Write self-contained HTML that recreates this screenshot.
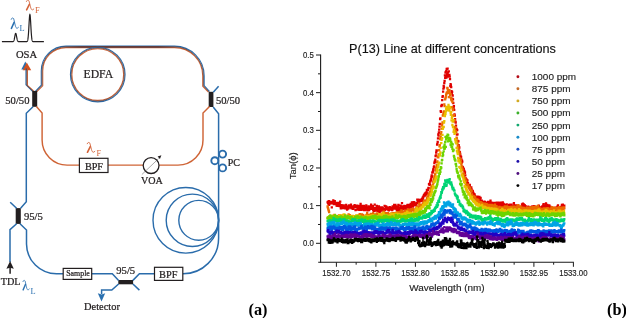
<!DOCTYPE html>
<html><head><meta charset="utf-8"><style>
html,body{margin:0;padding:0;background:#fff;}
body{width:626px;height:318px;overflow:hidden;}
svg{display:block;will-change:transform;}
</style></head><body>
<svg width="626" height="318" viewBox="0 0 626 318">
<rect width="626" height="318" fill="#fff"/>
<polyline points="1.90,41.70 2.00,41.70 2.10,41.70 2.20,41.70 2.30,41.70 2.40,41.70 2.50,41.70 2.60,41.70 2.70,41.70 2.80,41.70 2.90,41.70 3.00,41.70 3.10,41.70 3.20,41.70 3.30,41.70 3.40,41.70 3.50,41.70 3.60,41.70 3.70,41.70 3.80,41.70 3.90,41.70 4.00,41.70 4.10,41.70 4.20,41.70 4.30,41.70 4.40,41.70 4.50,41.70 4.60,41.70 4.70,41.70 4.80,41.70 4.90,41.70 5.00,41.70 5.10,41.70 5.20,41.70 5.30,41.70 5.40,41.70 5.50,41.70 5.60,41.70 5.70,41.70 5.80,41.70 5.90,41.70 6.00,41.70 6.10,41.70 6.20,41.70 6.30,41.70 6.40,41.70 6.50,41.70 6.60,41.70 6.70,41.70 6.80,41.70 6.90,41.70 7.00,41.70 7.10,41.70 7.20,41.70 7.30,41.70 7.40,41.70 7.50,41.70 7.60,41.70 7.70,41.70 7.80,41.70 7.90,41.70 8.00,41.70 8.10,41.70 8.20,41.70 8.30,41.70 8.40,41.70 8.50,41.70 8.60,41.70 8.70,41.70 8.80,41.70 8.90,41.70 9.00,41.70 9.10,41.70 9.20,41.70 9.30,41.70 9.40,41.70 9.50,41.70 9.60,41.70 9.70,41.70 9.80,41.70 9.90,41.70 10.00,41.70 10.10,41.70 10.20,41.70 10.30,41.70 10.40,41.70 10.50,41.70 10.60,41.70 10.70,41.70 10.80,41.70 10.90,41.70 11.00,41.70 11.10,41.70 11.20,41.70 11.30,41.70 11.40,41.70 11.50,41.70 11.60,41.70 11.70,41.70 11.80,41.70 11.90,41.70 12.00,41.70 12.10,41.70 12.20,41.69 12.30,41.69 12.40,41.69 12.50,41.68 12.60,41.67 12.70,41.66 12.80,41.64 12.90,41.62 13.00,41.59 13.10,41.55 13.20,41.49 13.30,41.43 13.40,41.34 13.50,41.23 13.60,41.09 13.70,40.92 13.80,40.72 13.90,40.48 14.00,40.20 14.10,39.88 14.20,39.51 14.30,39.10 14.40,38.65 14.50,38.16 14.60,37.64 14.70,37.11 14.80,36.56 14.90,36.02 15.00,35.49 15.10,34.99 15.20,34.54 15.30,34.15 15.40,33.83 15.50,33.59 15.60,33.45 15.70,33.40 15.80,33.45 15.90,33.59 16.00,33.83 16.10,34.15 16.20,34.54 16.30,34.99 16.40,35.49 16.50,36.02 16.60,36.56 16.70,37.11 16.80,37.64 16.90,38.16 17.00,38.65 17.10,39.10 17.20,39.51 17.30,39.88 17.40,40.20 17.50,40.48 17.60,40.72 17.70,40.92 17.80,41.09 17.90,41.23 18.00,41.34 18.10,41.43 18.20,41.49 18.30,41.55 18.40,41.59 18.50,41.62 18.60,41.64 18.70,41.66 18.80,41.67 18.90,41.68 19.00,41.69 19.10,41.69 19.20,41.69 19.30,41.70 19.40,41.70 19.50,41.70 19.60,41.70 19.70,41.70 19.80,41.70 19.90,41.70 20.00,41.70 20.10,41.70 20.20,41.70 20.30,41.70 20.40,41.70 20.50,41.70 20.60,41.70 20.70,41.70 20.80,41.70 20.90,41.70 21.00,41.70 21.10,41.70 21.20,41.70 21.30,41.70 21.40,41.70 21.50,41.70 21.60,41.70 21.70,41.70 21.80,41.70 21.90,41.70 22.00,41.70 22.10,41.70 22.20,41.70 22.30,41.70 22.40,41.70 22.50,41.70 22.60,41.70 22.70,41.70 22.80,41.70 22.90,41.70 23.00,41.70 23.10,41.70 23.20,41.70 23.30,41.70 23.40,41.70 23.50,41.70 23.60,41.70 23.70,41.70 23.80,41.70 23.90,41.70 24.00,41.70 24.10,41.70 24.20,41.70 24.30,41.70 24.40,41.70 24.50,41.70 24.60,41.70 24.70,41.70 24.80,41.70 24.90,41.70 25.00,41.70 25.10,41.70 25.20,41.70 25.30,41.70 25.40,41.70 25.50,41.70 25.60,41.70 25.70,41.70 25.80,41.70 25.90,41.70 26.00,41.70 26.10,41.69 26.20,41.69 26.30,41.69 26.40,41.68 26.50,41.67 26.60,41.66 26.70,41.64 26.80,41.61 26.90,41.57 27.00,41.51 27.10,41.44 27.20,41.34 27.30,41.20 27.40,41.03 27.50,40.80 27.60,40.51 27.70,40.15 27.80,39.70 27.90,39.15 28.00,38.49 28.10,37.70 28.20,36.78 28.30,35.72 28.40,34.52 28.50,33.17 28.60,31.69 28.70,30.10 28.80,28.41 28.90,26.65 29.00,24.86 29.10,23.07 29.20,21.35 29.30,19.72 29.40,18.24 29.50,16.96 29.60,15.91 29.70,15.14 29.80,14.66 29.90,14.50 30.00,14.66 30.10,15.14 30.20,15.91 30.30,16.96 30.40,18.24 30.50,19.72 30.60,21.35 30.70,23.07 30.80,24.86 30.90,26.65 31.00,28.41 31.10,30.10 31.20,31.69 31.30,33.17 31.40,34.52 31.50,35.72 31.60,36.78 31.70,37.70 31.80,38.49 31.90,39.15 32.00,39.70 32.10,40.15 32.20,40.51 32.30,40.80 32.40,41.03 32.50,41.20 32.60,41.34 32.70,41.44 32.80,41.51 32.90,41.57 33.00,41.61 33.10,41.64 33.20,41.66 33.30,41.67 33.40,41.68 33.50,41.69 33.60,41.69 33.70,41.69 33.80,41.70 33.90,41.70 34.00,41.70 34.10,41.70 34.20,41.70 34.30,41.70 34.40,41.70 34.50,41.70 34.60,41.70 34.70,41.70 34.80,41.70 34.90,41.70 35.00,41.70 35.10,41.70 35.20,41.70 35.30,41.70 35.40,41.70 35.50,41.70 35.60,41.70 35.70,41.70 35.80,41.70 35.90,41.70 36.00,41.70 36.10,41.70 36.20,41.70 36.30,41.70 36.40,41.70 36.50,41.70 36.60,41.70 36.70,41.70 36.80,41.70 36.90,41.70 37.00,41.70 37.10,41.70 37.20,41.70 37.30,41.70 37.40,41.70 37.50,41.70 37.60,41.70 37.70,41.70 37.80,41.70 37.90,41.70 38.00,41.70 38.10,41.70 38.20,41.70 38.30,41.70 38.40,41.70 38.50,41.70 38.60,41.70 38.70,41.70 38.80,41.70 38.90,41.70 39.00,41.70 39.10,41.70 39.20,41.70 39.30,41.70 39.40,41.70 39.50,41.70 39.60,41.70 39.70,41.70 39.80,41.70 39.90,41.70 40.00,41.70 40.10,41.70 40.20,41.70 40.30,41.70 40.40,41.70 40.50,41.70 40.60,41.70 40.70,41.70 40.80,41.70 40.90,41.70 41.00,41.70 41.10,41.70 41.20,41.70 41.30,41.70 41.40,41.70 41.50,41.70 41.60,41.70 41.70,41.70 41.80,41.70 41.90,41.70 42.00,41.70 42.10,41.70 42.20,41.70 42.30,41.70 42.40,41.70 42.50,41.70 42.60,41.70 42.70,41.70 42.80,41.70 42.90,41.70 43.00,41.70 43.10,41.70 43.20,41.70 43.30,41.70 43.40,41.70 43.50,41.70 43.60,41.70 43.70,41.70 43.80,41.70 43.90,41.70" fill="none" stroke="#231f20" stroke-width="1.2"/>
<g transform="translate(10.8,17.5) scale(1.0,1.06)" fill="none" stroke="#2a70b0" stroke-linecap="round"><path d="M0.4,1.7 C0.7,0.3 2.1,0.0 2.9,1.1 L4.4,7.2 C4.9,9.3 5.6,10.5 6.5,10.1 L7.6,9.3" stroke-width="0.85"/><path d="M3.3,4.6 L0.6,10.2" stroke-width="1.55"/></g>
<text x="19.5" y="30.8" font-family='"Liberation Serif", serif' font-size="8.4" fill="#2a70b0">L</text>
<g transform="translate(26.0,-0.3) scale(1.02,1.0)" fill="none" stroke="#d4643a" stroke-linecap="round"><path d="M0.4,1.7 C0.7,0.3 2.1,0.0 2.9,1.1 L4.4,7.2 C4.9,9.3 5.6,10.5 6.5,10.1 L7.6,9.3" stroke-width="0.85"/><path d="M3.3,4.6 L0.6,10.2" stroke-width="1.55"/></g>
<text x="35.0" y="12.8" font-family='"Liberation Serif", serif' font-size="8.4" fill="#d4643a">F</text>
<text x="15.9" y="57.7" font-family='"Liberation Serif", serif' font-size="10.6" fill="#231f20" stroke="#231f20" stroke-width="0.24">OSA</text>
<polygon points="25.3,61.4 21.3,69.4 29.4,69.4" fill="#2a70b0"/>
<polygon points="26.8,62.4 22.7,70.2 31.2,70.2" fill="#d4501e"/>
<path d="M25.95,68.5 L25.95,84.80 L32.58,91.42" fill="none" stroke="#2a6cab" stroke-width="1.05"/>
<path d="M27.45,68.5 L27.45,85.40 L33.62,90.98" fill="none" stroke="#cf6436" stroke-width="1.05"/>
<path d="M26.70,68.5 L26.70,85.10 L33.10,91.20" fill="none" stroke="#4d383c" stroke-width="0.7"/>
<path d="M35.58,91.03 L41.25,85.20 L41.25,71 A24.75,24.75 0 0 1 66,46.10 L174.5,46.10 A29.70,29.70 0 0 1 204.20,76 L204.20,85.60 L209.43,91.42" fill="none" stroke="#2a6cab" stroke-width="1.05"/>
<path d="M36.62,91.78 L42.75,85.80 L42.75,71 A23.25,23.25 0 0 1 66,47.60 L174.5,47.60 A28.20,28.20 0 0 1 202.70,76 L202.70,86.20 L208.38,92.17" fill="none" stroke="#cf6436" stroke-width="1.05"/>
<path d="M36.10,91.40 L42.00,85.50 L42.00,71 A24.00,24.00 0 0 1 66,46.85 L174.5,46.85 A28.95,28.95 0 0 1 203.45,76 L203.45,85.90 L208.90,91.80" fill="none" stroke="#4d383c" stroke-width="0.7"/>
<defs><linearGradient id="tg" gradientUnits="userSpaceOnUse" x1="60" y1="0" x2="180" y2="0"><stop offset="0" stop-color="#5e3c3e" stop-opacity="0"/><stop offset="0.18" stop-color="#5e3c3e" stop-opacity="1"/><stop offset="0.82" stop-color="#5e3c3e" stop-opacity="1"/><stop offset="1" stop-color="#5e3c3e" stop-opacity="0"/></linearGradient></defs>
<rect x="60" y="46.0" width="120" height="1.7" fill="url(#tg)"/>
<circle cx="97.75" cy="74.5" r="27.35" fill="none" stroke="#2a6cab" stroke-width="1.05"/>
<circle cx="97.75" cy="74.5" r="25.85" fill="none" stroke="#cf6436" stroke-width="1.05"/>
<circle cx="97.75" cy="74.5" r="26.6" fill="none" stroke="#4d383c" stroke-width="0.7"/>
<text x="83.5" y="78.3" font-family='"Liberation Serif", serif' font-size="11.7" fill="#231f20" stroke="#231f20" stroke-width="0.24">EDFA</text>
<rect x="32.2" y="90.9" width="5" height="15.9" fill="#231f20"/>
<rect x="208.7" y="91.8" width="4.7" height="15.2" fill="#231f20"/>
<rect x="15.7" y="208.1" width="5.1" height="15.8" fill="#231f20"/>
<rect x="118.3" y="280" width="14.8" height="4.3" fill="#231f20"/>
<text x="5.3" y="103.9" font-family='"Liberation Serif", serif' font-size="10.6" fill="#231f20" stroke="#231f20" stroke-width="0.24">50/50</text>
<text x="215.9" y="103.7" font-family='"Liberation Serif", serif' font-size="10.6" fill="#231f20" stroke="#231f20" stroke-width="0.24">50/50</text>
<text x="23.9" y="219.6" font-family='"Liberation Serif", serif' font-size="10.6" fill="#231f20" stroke="#231f20" stroke-width="0.24">95/5</text>
<text x="116.3" y="273.9" font-family='"Liberation Serif", serif' font-size="10.6" fill="#231f20" stroke="#231f20" stroke-width="0.24">95/5</text>
<polyline points="213.3,92.2 218.6,86.3" fill="none" stroke="#2a6cab" stroke-width="1.5"/>
<path d="M36.4,106.6 L42.1,113 L42.1,140 A25,25 0 0 0 67.1,165.1 L79.4,165.1 M108,165.1 L143,165.1 M159.2,165.1 L178,165.1 A25,25 0 0 0 203,140 L203,113 L209.5,106.6" fill="none" stroke="#cf6436" stroke-width="1.45"/>
<rect x="79.4" y="158.3" width="28.6" height="14.2" fill="#fff" stroke="#231f20" stroke-width="1.2"/>
<text x="84.9" y="169.6" font-family='"Liberation Serif", serif' font-size="10.2" fill="#231f20" stroke="#231f20" stroke-width="0.24">BPF</text>
<g transform="translate(86.8,142.0) scale(1.05,1.01)" fill="none" stroke="#d4643a" stroke-linecap="round"><path d="M0.4,1.7 C0.7,0.3 2.1,0.0 2.9,1.1 L4.4,7.2 C4.9,9.3 5.6,10.5 6.5,10.1 L7.6,9.3" stroke-width="0.85"/><path d="M3.3,4.6 L0.6,10.2" stroke-width="1.55"/></g>
<text x="96.4" y="155.6" font-family='"Liberation Serif", serif' font-size="8.2" fill="#d4643a">F</text>
<circle cx="151.1" cy="165.6" r="7.9" fill="#fff" stroke="#231f20" stroke-width="1.3"/>
<line x1="141.9" y1="174.5" x2="158.6" y2="158.6" stroke="#555" stroke-width="0.5"/>
<polygon points="161.4,155.2 157.6,156.6 159.9,158.9" fill="#231f20"/>
<text x="140.9" y="183.6" font-family='"Liberation Serif", serif' font-size="10.1" fill="#231f20" stroke="#231f20" stroke-width="0.24">VOA</text>
<path d="M33,106.8 L26.3,113.2 L26.3,201.8 L20.6,208.2" fill="none" stroke="#2a6cab" stroke-width="1.5"/>
<path d="M16.6,208.2 L10.2,202.2" fill="none" stroke="#2a6cab" stroke-width="1.5"/>
<path d="M16.6,223.8 L10,229.6 L10,262" fill="none" stroke="#2a6cab" stroke-width="1.5"/>
<path d="M20,223.8 L26.5,230 L26.5,244 A30,30 0 0 0 56.5,273.8 L63.2,273.8 M91.8,273.8 L112.3,273.8 L118.6,280.4 M132.9,280.4 L139.4,273.8 L154.5,273.8 M182.8,273.8 A35.6,35.6 0 0 0 218.6,238 L218.6,113.8 L213.2,107" fill="none" stroke="#2a6cab" stroke-width="1.5"/>
<path d="M118.6,284 L111.8,290.1 L101.6,290.1 L101.6,294" fill="none" stroke="#2a6cab" stroke-width="1.5"/>
<polygon points="97.8,293.2 101.6,294.4 105.2,293.2 101.5,301.4" fill="#2a70b0"/>
<path d="M132.9,284 L139.4,290.1" fill="none" stroke="#2a6cab" stroke-width="1.5"/>
<polygon points="10.1,261 6.4,268.8 10.1,267.8 13.8,268.8" fill="#231f20"/>
<line x1="10.1" y1="267" x2="10.1" y2="273.8" stroke="#231f20" stroke-width="1.5"/>
<text x="0.7" y="285.3" font-family='"Liberation Serif", serif' font-size="10.2" fill="#231f20" stroke="#231f20" stroke-width="0.24">TDL</text>
<g transform="translate(22.6,279.9) scale(0.87,0.98)" fill="none" stroke="#2a70b0" stroke-linecap="round"><path d="M0.4,1.7 C0.7,0.3 2.1,0.0 2.9,1.1 L4.4,7.2 C4.9,9.3 5.6,10.5 6.5,10.1 L7.6,9.3" stroke-width="0.85"/><path d="M3.3,4.6 L0.6,10.2" stroke-width="1.55"/></g>
<text x="30.4" y="293.6" font-family='"Liberation Serif", serif' font-size="8.4" fill="#2a70b0">L</text>
<rect x="63.2" y="268.4" width="28.5" height="11" fill="#fff" stroke="#231f20" stroke-width="1.2"/>
<text x="66.2" y="276.3" font-family='"Liberation Serif", serif' font-size="7.9" fill="#231f20" stroke="#231f20" stroke-width="0.24">Sample</text>
<rect x="154.5" y="267.3" width="28.3" height="13.1" fill="#fff" stroke="#231f20" stroke-width="1.2"/>
<text x="159.1" y="277.8" font-family='"Liberation Serif", serif' font-size="10.3" fill="#231f20" stroke="#231f20" stroke-width="0.24">BPF</text>
<text x="84.1" y="309.7" font-family='"Liberation Serif", serif' font-size="10.4" fill="#231f20" stroke="#231f20" stroke-width="0.24">Detector</text>
<circle cx="185.8" cy="220.3" r="32.8" fill="none" stroke="#2a6cab" stroke-width="1.4"/>
<circle cx="192.4" cy="220.3" r="26.2" fill="none" stroke="#2a6cab" stroke-width="1.4"/>
<circle cx="198.7" cy="220.3" r="19.9" fill="none" stroke="#2a6cab" stroke-width="1.4"/>
<circle cx="222.6" cy="154.1" r="3.5" fill="none" stroke="#2a6cab" stroke-width="1.9"/>
<circle cx="214.8" cy="160.7" r="3.5" fill="none" stroke="#2a6cab" stroke-width="1.9"/>
<circle cx="222.6" cy="167.9" r="3.5" fill="none" stroke="#2a6cab" stroke-width="1.9"/>
<text x="227.8" y="165.5" font-family='"Liberation Serif", serif' font-size="10" fill="#231f20" stroke="#231f20" stroke-width="0.24">PC</text>
<text x="248.5" y="314.6" font-family='"Liberation Serif", serif' font-size="16.3" font-weight="bold" fill="#000">(a)</text>
<line x1="320.6" y1="54.5" x2="320.6" y2="262.8" stroke="#1a1a1a" stroke-width="1.1"/>
<line x1="318.2" y1="262.3" x2="573.9" y2="262.3" stroke="#1a1a1a" stroke-width="1.1"/>
<line x1="316.00" y1="243.30" x2="320.6" y2="243.30" stroke="#1a1a1a" stroke-width="1"/>
<text transform="translate(313.8,246.30) scale(1,1.25)" font-family='"Liberation Sans", sans-serif' font-size="7.8" fill="#222" text-anchor="end" stroke="#222" stroke-width="0.14">0.0</text>
<line x1="318.00" y1="224.47" x2="320.6" y2="224.47" stroke="#1a1a1a" stroke-width="1"/>
<line x1="316.00" y1="205.64" x2="320.6" y2="205.64" stroke="#1a1a1a" stroke-width="1"/>
<text transform="translate(313.8,208.64) scale(1,1.25)" font-family='"Liberation Sans", sans-serif' font-size="7.8" fill="#222" text-anchor="end" stroke="#222" stroke-width="0.14">0.1</text>
<line x1="318.00" y1="186.81" x2="320.6" y2="186.81" stroke="#1a1a1a" stroke-width="1"/>
<line x1="316.00" y1="167.98" x2="320.6" y2="167.98" stroke="#1a1a1a" stroke-width="1"/>
<text transform="translate(313.8,170.98) scale(1,1.25)" font-family='"Liberation Sans", sans-serif' font-size="7.8" fill="#222" text-anchor="end" stroke="#222" stroke-width="0.14">0.2</text>
<line x1="318.00" y1="149.15" x2="320.6" y2="149.15" stroke="#1a1a1a" stroke-width="1"/>
<line x1="316.00" y1="130.32" x2="320.6" y2="130.32" stroke="#1a1a1a" stroke-width="1"/>
<text transform="translate(313.8,133.32) scale(1,1.25)" font-family='"Liberation Sans", sans-serif' font-size="7.8" fill="#222" text-anchor="end" stroke="#222" stroke-width="0.14">0.3</text>
<line x1="318.00" y1="111.49" x2="320.6" y2="111.49" stroke="#1a1a1a" stroke-width="1"/>
<line x1="316.00" y1="92.66" x2="320.6" y2="92.66" stroke="#1a1a1a" stroke-width="1"/>
<text transform="translate(313.8,95.66) scale(1,1.25)" font-family='"Liberation Sans", sans-serif' font-size="7.8" fill="#222" text-anchor="end" stroke="#222" stroke-width="0.14">0.4</text>
<line x1="318.00" y1="73.83" x2="320.6" y2="73.83" stroke="#1a1a1a" stroke-width="1"/>
<line x1="316.00" y1="55.00" x2="320.6" y2="55.00" stroke="#1a1a1a" stroke-width="1"/>
<text transform="translate(313.8,58.00) scale(1,1.25)" font-family='"Liberation Sans", sans-serif' font-size="7.8" fill="#222" text-anchor="end" stroke="#222" stroke-width="0.14">0.5</text>
<line x1="336.40" y1="262.3" x2="336.40" y2="266.80" stroke="#1a1a1a" stroke-width="1"/>
<text transform="translate(336.40,275.6) scale(1,1.25)" font-family='"Liberation Sans", sans-serif' font-size="7.8" fill="#222" text-anchor="middle" stroke="#222" stroke-width="0.14">1532.70</text>
<line x1="356.15" y1="262.3" x2="356.15" y2="264.70" stroke="#1a1a1a" stroke-width="1"/>
<line x1="375.90" y1="262.3" x2="375.90" y2="266.80" stroke="#1a1a1a" stroke-width="1"/>
<text transform="translate(375.90,275.6) scale(1,1.25)" font-family='"Liberation Sans", sans-serif' font-size="7.8" fill="#222" text-anchor="middle" stroke="#222" stroke-width="0.14">1532.75</text>
<line x1="395.65" y1="262.3" x2="395.65" y2="264.70" stroke="#1a1a1a" stroke-width="1"/>
<line x1="415.40" y1="262.3" x2="415.40" y2="266.80" stroke="#1a1a1a" stroke-width="1"/>
<text transform="translate(415.40,275.6) scale(1,1.25)" font-family='"Liberation Sans", sans-serif' font-size="7.8" fill="#222" text-anchor="middle" stroke="#222" stroke-width="0.14">1532.80</text>
<line x1="435.15" y1="262.3" x2="435.15" y2="264.70" stroke="#1a1a1a" stroke-width="1"/>
<line x1="454.90" y1="262.3" x2="454.90" y2="266.80" stroke="#1a1a1a" stroke-width="1"/>
<text transform="translate(454.90,275.6) scale(1,1.25)" font-family='"Liberation Sans", sans-serif' font-size="7.8" fill="#222" text-anchor="middle" stroke="#222" stroke-width="0.14">1532.85</text>
<line x1="474.65" y1="262.3" x2="474.65" y2="264.70" stroke="#1a1a1a" stroke-width="1"/>
<line x1="494.40" y1="262.3" x2="494.40" y2="266.80" stroke="#1a1a1a" stroke-width="1"/>
<text transform="translate(494.40,275.6) scale(1,1.25)" font-family='"Liberation Sans", sans-serif' font-size="7.8" fill="#222" text-anchor="middle" stroke="#222" stroke-width="0.14">1532.90</text>
<line x1="514.15" y1="262.3" x2="514.15" y2="264.70" stroke="#1a1a1a" stroke-width="1"/>
<line x1="533.90" y1="262.3" x2="533.90" y2="266.80" stroke="#1a1a1a" stroke-width="1"/>
<text transform="translate(533.90,275.6) scale(1,1.25)" font-family='"Liberation Sans", sans-serif' font-size="7.8" fill="#222" text-anchor="middle" stroke="#222" stroke-width="0.14">1532.95</text>
<line x1="553.65" y1="262.3" x2="553.65" y2="264.70" stroke="#1a1a1a" stroke-width="1"/>
<line x1="573.40" y1="262.3" x2="573.40" y2="266.80" stroke="#1a1a1a" stroke-width="1"/>
<text transform="translate(573.40,275.6) scale(1,1.25)" font-family='"Liberation Sans", sans-serif' font-size="7.8" fill="#222" text-anchor="middle" stroke="#222" stroke-width="0.14">1533.00</text>
<text x="349.1" y="53.2" font-family='"Liberation Sans", sans-serif' font-size="12.63" fill="#111" stroke="#111" stroke-width="0.14">P(13) Line at different concentrations</text>
<text x="409.3" y="291" font-family='"Liberation Sans", sans-serif' font-size="9.95" fill="#222" stroke="#222" stroke-width="0.14">Wavelength (nm)</text>
<text transform="translate(295.6,179.2) rotate(-90)" x="0" y="0" font-family='"Liberation Sans", sans-serif' font-size="9.5" fill="#222" stroke="#222" stroke-width="0.14">Tan(ϕ)</text>
<path d="M327.6 202.3h0M327.9 202.0h0M328.2 202.8h0M328.5 204.0h0M328.8 201.1h0M329.1 204.8h0M329.4 201.7h0M329.7 203.5h0M330.0 202.8h0M330.3 203.1h0M330.6 202.1h0M330.9 201.9h0M331.2 203.2h0M331.5 202.1h0M331.8 207.4h0M332.1 203.4h0M332.4 203.2h0M332.7 203.4h0M333.0 202.6h0M333.3 200.5h0M333.6 203.4h0M333.9 204.0h0M334.2 201.1h0M334.5 203.1h0M334.8 201.2h0M335.1 202.8h0M335.4 203.5h0M335.7 203.9h0M336.0 204.1h0M336.3 202.9h0M336.6 205.6h0M336.9 204.0h0M337.2 205.3h0M337.5 205.9h0M337.8 204.4h0M338.1 202.9h0M338.4 205.6h0M338.7 203.1h0M339.0 203.5h0M339.3 203.2h0M339.6 206.0h0M339.9 204.5h0M340.2 201.6h0M340.5 206.1h0M340.8 208.3h0M341.1 208.3h0M341.4 205.2h0M341.7 206.5h0M342.0 207.4h0M342.3 208.1h0M342.6 207.0h0M342.9 205.5h0M343.2 208.2h0M343.5 208.1h0M343.8 205.4h0M344.1 206.8h0M344.4 207.7h0M344.7 207.3h0M345.0 208.0h0M345.3 208.3h0M345.6 207.8h0M345.9 206.8h0M346.2 204.9h0M346.5 207.6h0M346.8 208.7h0M347.1 209.5h0M347.4 206.6h0M347.7 206.5h0M348.0 208.6h0M348.3 208.6h0M348.6 206.9h0M348.9 207.4h0M349.2 205.4h0M349.5 207.5h0M349.8 205.7h0M350.1 207.0h0M350.4 207.2h0M350.7 206.9h0M351.0 204.7h0M351.3 206.6h0M351.6 208.3h0M351.9 207.7h0M352.2 207.1h0M352.5 208.3h0M352.8 208.6h0M353.1 208.8h0M353.4 206.4h0M353.7 207.6h0M354.0 207.1h0M354.3 206.2h0M354.6 205.2h0M354.9 207.1h0M355.2 205.9h0M355.5 210.2h0M355.8 206.9h0M356.1 206.6h0M356.4 206.4h0M356.7 209.7h0M357.0 205.7h0M357.3 207.0h0M357.6 206.4h0M357.9 207.6h0M358.2 207.9h0M358.5 209.6h0M358.8 205.9h0M359.1 207.8h0M359.4 209.9h0M359.7 206.7h0M360.0 207.1h0M360.3 206.2h0M360.6 203.9h0M360.9 207.8h0M361.2 209.9h0M361.5 207.7h0M361.8 205.8h0M362.1 208.8h0M362.4 208.5h0M362.7 209.7h0M363.0 209.5h0M363.3 207.8h0M363.6 208.9h0M363.9 205.8h0M364.2 210.1h0M364.5 208.7h0M364.8 210.0h0M365.1 209.8h0M365.4 207.8h0M365.7 207.9h0M366.0 207.0h0M366.3 205.5h0M366.6 208.6h0M366.9 209.2h0M367.2 207.6h0M367.5 210.3h0M367.8 209.4h0M368.1 209.9h0M368.4 208.0h0M368.7 206.5h0M369.0 210.1h0M369.3 209.7h0M369.6 208.5h0M369.9 207.8h0M370.2 207.7h0M370.5 207.6h0M370.8 206.9h0M371.1 204.7h0M371.4 208.8h0M371.7 205.8h0M372.0 207.7h0M372.3 207.9h0M372.6 208.8h0M372.9 206.2h0M373.2 210.3h0M373.5 209.6h0M373.8 209.9h0M374.1 210.8h0M374.4 208.0h0M374.7 204.6h0M375.0 209.5h0M375.3 210.7h0M375.6 210.3h0M375.9 207.8h0M376.2 208.4h0M376.5 208.9h0M376.8 205.9h0M377.1 207.5h0M377.4 207.6h0M377.7 210.8h0M378.0 207.7h0M378.3 211.0h0M378.6 208.9h0M378.9 206.5h0M379.2 212.2h0M379.5 207.7h0M379.8 210.0h0M380.1 211.6h0M380.4 208.4h0M380.7 207.4h0M381.0 210.7h0M381.3 209.3h0M381.6 207.3h0M381.9 207.4h0M382.2 208.2h0M382.5 210.0h0M382.8 208.1h0M383.1 209.4h0M383.4 210.7h0M383.7 210.1h0M384.0 210.3h0M384.3 210.0h0M384.6 205.9h0M384.9 210.0h0M385.2 208.8h0M385.5 208.3h0M385.8 207.1h0M386.1 206.5h0M386.4 207.4h0M386.7 209.1h0M387.0 207.4h0M387.3 207.8h0M387.6 207.9h0M387.9 209.6h0M388.2 208.1h0M388.5 208.2h0M388.8 210.3h0M389.1 207.9h0M389.4 209.4h0M389.7 207.2h0M390.0 209.4h0M390.3 209.3h0M390.6 209.5h0M390.9 208.6h0M391.2 207.7h0M391.5 208.6h0M391.8 208.1h0M392.1 210.1h0M392.4 209.6h0M392.7 206.3h0M393.0 208.7h0M393.3 206.8h0M393.6 208.0h0M393.9 206.4h0M394.2 204.9h0M394.5 208.5h0M394.8 207.8h0M395.1 205.5h0M395.4 204.8h0M395.7 207.0h0M396.0 206.3h0M396.3 207.6h0M396.6 209.0h0M396.9 210.2h0M397.2 207.4h0M397.5 209.7h0M397.8 209.3h0M398.1 206.9h0M398.4 205.0h0M398.7 208.6h0M399.0 208.1h0M399.3 210.5h0M399.6 209.1h0M399.9 208.1h0M400.2 209.5h0M400.5 205.6h0M400.8 207.6h0M401.1 207.1h0M401.4 210.1h0M401.7 208.5h0M402.0 203.2h0M402.3 209.6h0M402.6 206.3h0M402.9 208.7h0M403.2 207.0h0M403.5 208.0h0M403.8 208.6h0M404.1 207.8h0M404.4 205.9h0M404.7 209.1h0M405.0 207.5h0M405.3 206.9h0M405.6 207.9h0M405.9 206.1h0M406.2 209.6h0M406.5 207.1h0M406.8 207.2h0M407.1 207.0h0M407.4 205.2h0M407.7 204.8h0M408.0 206.9h0M408.3 207.1h0M408.6 208.5h0M408.9 207.2h0M409.2 204.9h0M409.5 207.1h0M409.8 207.4h0M410.1 207.5h0M410.4 206.3h0M410.7 203.8h0M411.0 207.0h0M411.3 204.0h0M411.6 205.7h0M411.9 202.3h0M412.2 205.5h0M412.5 203.0h0M412.8 205.6h0M413.1 206.5h0M413.4 205.6h0M413.7 202.2h0M414.0 202.5h0M414.3 202.6h0M414.6 204.9h0M414.9 204.3h0M415.2 204.0h0M415.5 204.1h0M415.8 204.4h0M416.1 204.3h0M416.4 205.7h0M416.7 202.9h0M417.0 203.0h0M417.3 199.6h0M417.6 200.1h0M417.9 200.7h0M418.2 199.7h0M418.5 201.7h0M418.8 202.8h0M419.1 200.6h0M419.4 200.5h0M419.7 200.4h0M420.0 201.3h0M420.3 200.0h0M420.6 201.2h0M420.9 200.7h0M421.2 200.4h0M421.5 200.6h0M421.8 199.1h0M422.1 198.8h0M422.4 200.8h0M422.7 197.7h0M423.0 198.6h0M423.3 197.1h0M423.6 196.0h0M423.9 195.7h0M424.2 194.8h0M424.5 195.5h0M424.8 194.0h0M425.1 193.6h0M425.4 195.5h0M425.7 192.8h0M426.0 194.3h0M426.3 192.4h0M426.6 192.8h0M426.9 189.9h0M427.2 190.4h0M427.5 193.5h0M427.8 190.0h0M428.1 189.7h0M428.4 187.8h0M428.7 188.1h0M429.0 184.2h0M429.3 183.8h0M429.6 184.8h0M429.9 184.5h0M430.2 181.6h0M430.5 181.1h0M430.8 180.0h0M431.1 179.5h0M431.4 177.0h0M431.7 175.5h0M432.0 176.6h0M432.3 172.6h0M432.6 172.5h0M432.9 171.6h0M433.2 169.5h0M433.5 170.1h0M433.8 167.3h0M434.1 166.3h0M434.4 163.0h0M434.7 161.7h0M435.0 161.9h0M435.3 159.7h0M435.6 156.1h0M435.9 155.3h0M436.2 152.7h0M436.5 150.3h0M436.8 150.6h0M437.1 144.7h0M437.4 144.0h0M437.7 141.8h0M438.0 138.4h0M438.3 134.5h0M438.6 135.7h0M438.9 132.5h0M439.2 129.6h0M439.5 126.7h0M439.8 123.8h0M440.1 119.0h0M440.4 118.3h0M440.7 111.2h0M441.0 111.9h0M441.3 106.1h0M441.6 105.6h0M441.9 104.9h0M442.2 100.1h0M442.5 96.9h0M442.8 96.1h0M443.1 91.6h0M443.4 88.6h0M443.7 85.9h0M444.0 87.4h0M444.3 83.2h0M444.6 80.8h0M444.9 75.3h0M445.2 77.9h0M445.5 72.5h0M445.8 75.6h0M446.1 71.3h0M446.4 77.6h0M446.7 69.0h0M447.0 75.2h0M447.3 74.2h0M447.6 68.6h0M447.9 72.3h0M448.2 76.6h0M448.5 76.7h0M448.8 71.4h0M449.1 75.1h0M449.4 75.0h0M449.7 76.7h0M450.0 79.1h0M450.3 86.2h0M450.6 84.2h0M450.9 85.3h0M451.2 87.1h0M451.5 91.2h0M451.8 93.3h0M452.1 91.9h0M452.4 98.9h0M452.7 95.5h0M453.0 99.3h0M453.3 103.0h0M453.6 107.9h0M453.9 106.1h0M454.2 109.9h0M454.5 114.5h0M454.8 115.7h0M455.1 119.2h0M455.4 121.6h0M455.7 122.5h0M456.0 125.7h0M456.3 128.6h0M456.6 129.2h0M456.9 134.6h0M457.2 130.1h0M457.5 134.4h0M457.8 141.0h0M458.1 141.2h0M458.4 141.3h0M458.7 145.2h0M459.0 148.5h0M459.3 147.5h0M459.6 151.8h0M459.9 152.2h0M460.2 154.0h0M460.5 155.8h0M460.8 159.4h0M461.1 156.9h0M461.4 159.5h0M461.7 162.6h0M462.0 160.7h0M462.3 161.7h0M462.6 166.8h0M462.9 167.3h0M463.2 168.4h0M463.5 169.9h0M463.8 169.0h0M464.1 176.4h0M464.4 170.9h0M464.7 172.9h0M465.0 172.5h0M465.3 175.4h0M465.6 179.7h0M465.9 178.3h0M466.2 180.2h0M466.5 179.4h0M466.8 183.9h0M467.1 182.0h0M467.4 180.4h0M467.7 184.4h0M468.0 183.2h0M468.3 185.5h0M468.6 185.3h0M468.9 186.1h0M469.2 186.4h0M469.5 185.3h0M469.8 184.9h0M470.1 189.3h0M470.4 188.2h0M470.7 189.6h0M471.0 189.1h0M471.3 187.4h0M471.6 189.3h0M471.9 194.0h0M472.2 191.2h0M472.5 192.3h0M472.8 191.0h0M473.1 192.7h0M473.4 193.3h0M473.7 193.9h0M474.0 194.5h0M474.3 194.1h0M474.6 194.7h0M474.9 196.0h0M475.2 196.9h0M475.5 196.6h0M475.8 199.8h0M476.1 197.9h0M476.4 198.2h0M476.7 197.3h0M477.0 200.2h0M477.3 197.4h0M477.6 196.7h0M477.9 197.8h0M478.2 200.2h0M478.5 197.5h0M478.8 201.1h0M479.1 199.1h0M479.4 196.9h0M479.7 198.9h0M480.0 202.1h0M480.3 198.3h0M480.6 197.9h0M480.9 200.8h0M481.2 202.3h0M481.5 202.3h0M481.8 200.7h0M482.1 201.8h0M482.4 202.3h0M482.7 203.9h0M483.0 205.5h0M483.3 202.3h0M483.6 204.4h0M483.9 202.1h0M484.2 203.6h0M484.5 201.6h0M484.8 202.1h0M485.1 204.0h0M485.4 202.3h0M485.7 205.0h0M486.0 202.9h0M486.3 203.8h0M486.6 203.6h0M486.9 203.2h0M487.2 203.9h0M487.5 205.3h0M487.8 208.2h0M488.1 201.8h0M488.4 203.8h0M488.7 203.1h0M489.0 201.9h0M489.3 203.7h0M489.6 202.0h0M489.9 203.2h0M490.2 205.3h0M490.5 200.6h0M490.8 204.1h0M491.1 204.5h0M491.4 202.6h0M491.7 204.9h0M492.0 204.8h0M492.3 203.9h0M492.6 206.3h0M492.9 202.8h0M493.2 205.7h0M493.5 204.5h0M493.8 203.3h0M494.1 204.6h0M494.4 204.4h0M494.7 206.1h0M495.0 202.9h0M495.3 204.9h0M495.6 204.6h0M495.9 207.6h0M496.2 203.7h0M496.5 206.9h0M496.8 202.7h0M497.1 205.8h0M497.4 205.2h0M497.7 206.0h0M498.0 204.5h0M498.3 202.7h0M498.6 203.3h0M498.9 207.5h0M499.2 205.8h0M499.5 204.1h0M499.8 206.4h0M500.1 203.8h0M500.4 203.5h0M500.7 202.7h0M501.0 206.1h0M501.3 207.3h0M501.6 203.2h0M501.9 205.3h0M502.2 206.6h0M502.5 208.6h0M502.8 202.3h0M503.1 206.1h0M503.4 207.0h0M503.7 203.9h0M504.0 206.6h0M504.3 206.2h0M504.6 206.9h0M504.9 205.0h0M505.2 206.5h0M505.5 205.1h0M505.8 207.0h0M506.1 206.4h0M506.4 205.8h0M506.7 204.4h0M507.0 209.1h0M507.3 208.6h0M507.6 208.5h0M507.9 206.3h0M508.2 206.7h0M508.5 209.4h0M508.8 207.6h0M509.1 205.0h0M509.4 206.0h0M509.7 206.0h0M510.0 205.5h0M510.3 204.6h0M510.6 208.1h0M510.9 207.4h0M511.2 206.4h0M511.5 204.6h0M511.8 206.0h0M512.1 206.8h0M512.4 208.0h0M512.7 206.1h0M513.0 208.2h0M513.3 206.9h0M513.6 205.8h0M513.9 203.1h0M514.2 205.6h0M514.5 205.3h0M514.8 207.3h0M515.1 208.0h0M515.4 209.4h0M515.7 207.2h0M516.0 205.4h0M516.3 210.4h0M516.6 207.5h0M516.9 206.8h0M517.2 207.1h0M517.5 205.8h0M517.8 209.0h0M518.1 209.0h0M518.4 211.0h0M518.7 210.5h0M519.0 210.2h0M519.3 210.8h0M519.6 208.5h0M519.9 208.2h0M520.2 208.7h0M520.5 206.8h0M520.8 208.2h0M521.1 207.7h0M521.4 208.8h0M521.7 207.5h0M522.0 204.5h0M522.3 206.9h0M522.6 208.7h0M522.9 203.7h0M523.2 205.1h0M523.5 206.2h0M523.8 204.4h0M524.1 205.7h0M524.4 206.9h0M524.7 205.2h0M525.0 207.8h0M525.3 208.3h0M525.6 206.2h0M525.9 208.2h0M526.2 209.8h0M526.5 208.0h0M526.8 208.8h0M527.1 209.0h0M527.4 207.7h0M527.7 209.4h0M528.0 208.5h0M528.3 206.6h0M528.6 208.8h0M528.9 209.4h0M529.2 209.4h0M529.5 207.3h0M529.8 208.9h0M530.1 210.2h0M530.4 208.5h0M530.7 209.7h0M531.0 209.7h0M531.3 207.6h0M531.6 208.3h0M531.9 206.7h0M532.2 208.6h0M532.5 206.9h0M532.8 206.4h0M533.1 207.3h0M533.4 207.5h0M533.7 208.4h0M534.0 208.6h0M534.3 206.2h0M534.6 206.8h0M534.9 208.2h0M535.2 208.3h0M535.5 207.9h0M535.8 211.9h0M536.1 210.1h0M536.4 208.8h0M536.7 210.3h0M537.0 211.4h0M537.3 210.1h0M537.6 207.0h0M537.9 209.4h0M538.2 209.1h0M538.5 211.8h0M538.8 205.7h0M539.1 210.3h0M539.4 207.7h0M539.7 209.1h0M540.0 207.4h0M540.3 208.1h0M540.6 209.4h0M540.9 207.9h0M541.2 209.2h0M541.5 207.5h0M541.8 206.9h0M542.1 207.0h0M542.4 206.4h0M542.7 206.8h0M543.0 208.8h0M543.3 205.0h0M543.6 204.2h0M543.9 206.5h0M544.2 208.9h0M544.5 208.0h0M544.8 208.4h0M545.1 208.4h0M545.4 205.7h0M545.7 207.1h0M546.0 203.4h0M546.3 206.7h0M546.6 208.7h0M546.9 205.7h0M547.2 205.0h0M547.5 206.1h0M547.8 208.2h0M548.1 209.6h0M548.4 211.7h0M548.7 210.2h0M549.0 206.2h0M549.3 205.3h0M549.6 209.0h0M549.9 210.5h0M550.2 206.6h0M550.5 208.1h0M550.8 208.0h0M551.1 208.5h0M551.4 208.1h0M551.7 209.1h0M552.0 210.0h0M552.3 208.8h0M552.6 210.0h0M552.9 212.0h0M553.2 207.8h0M553.5 207.8h0M553.8 210.0h0M554.1 211.8h0M554.4 209.3h0M554.7 210.6h0M555.0 208.4h0M555.3 210.1h0M555.6 207.7h0M555.9 209.3h0M556.2 208.7h0M556.5 208.4h0M556.8 209.6h0M557.1 209.0h0M557.4 206.6h0M557.7 208.8h0M558.0 205.3h0M558.3 209.4h0M558.6 212.2h0M558.9 209.2h0M559.2 209.2h0M559.5 208.5h0M559.8 209.4h0M560.1 207.4h0M560.4 208.9h0M560.7 207.4h0M561.0 207.0h0M561.3 207.6h0M561.6 207.2h0M561.9 204.8h0M562.2 210.2h0M562.5 207.4h0M562.8 204.7h0M563.1 208.6h0M563.4 206.8h0M563.7 207.1h0M564.0 207.9h0M564.3 205.7h0" fill="none" stroke="#e00000" stroke-width="2.3" stroke-linecap="square"/>
<path d="M327.6 206.5h0M327.9 207.6h0M328.2 208.7h0M328.5 209.8h0M328.8 210.9h0M329.1 212.0h0M329.4 216.9h0M329.7 217.4h0M330.0 217.0h0M330.3 216.1h0M330.6 217.6h0M330.9 216.6h0M331.2 217.5h0M331.5 216.6h0M331.8 217.6h0M332.1 217.2h0M332.4 217.2h0M332.7 217.4h0M333.0 217.2h0M333.3 216.9h0M333.6 216.9h0M333.9 215.7h0M334.2 216.6h0M334.5 215.0h0M334.8 215.0h0M335.1 216.5h0M335.4 216.7h0M335.7 218.1h0M336.0 217.6h0M336.3 218.1h0M336.6 217.0h0M336.9 217.6h0M337.2 218.2h0M337.5 217.7h0M337.8 217.4h0M338.1 217.1h0M338.4 216.2h0M338.7 216.0h0M339.0 215.3h0M339.3 216.5h0M339.6 215.8h0M339.9 215.3h0M340.2 216.2h0M340.5 215.6h0M340.8 217.2h0M341.1 218.2h0M341.4 217.3h0M341.7 216.6h0M342.0 216.1h0M342.3 218.9h0M342.6 217.7h0M342.9 216.4h0M343.2 218.1h0M343.5 215.8h0M343.8 216.7h0M344.1 216.8h0M344.4 216.6h0M344.7 216.0h0M345.0 218.8h0M345.3 216.6h0M345.6 217.3h0M345.9 217.1h0M346.2 215.8h0M346.5 216.6h0M346.8 217.0h0M347.1 217.4h0M347.4 216.1h0M347.7 216.4h0M348.0 215.8h0M348.3 216.6h0M348.6 214.4h0M348.9 217.2h0M349.2 216.6h0M349.5 216.9h0M349.8 215.2h0M350.1 216.6h0M350.4 217.8h0M350.7 218.9h0M351.0 216.3h0M351.3 216.2h0M351.6 217.1h0M351.9 217.0h0M352.2 216.5h0M352.5 217.1h0M352.8 217.2h0M353.1 218.3h0M353.4 218.7h0M353.7 219.5h0M354.0 218.8h0M354.3 218.4h0M354.6 217.8h0M354.9 218.2h0M355.2 216.5h0M355.5 218.8h0M355.8 217.2h0M356.1 217.9h0M356.4 216.0h0M356.7 217.4h0M357.0 216.8h0M357.3 216.3h0M357.6 215.9h0M357.9 215.7h0M358.2 217.9h0M358.5 217.4h0M358.8 216.3h0M359.1 216.2h0M359.4 215.2h0M359.7 214.2h0M360.0 214.1h0M360.3 214.9h0M360.6 215.3h0M360.9 214.5h0M361.2 216.1h0M361.5 215.9h0M361.8 215.8h0M362.1 214.4h0M362.4 215.9h0M362.7 216.4h0M363.0 215.7h0M363.3 215.2h0M363.6 218.6h0M363.9 217.6h0M364.2 216.8h0M364.5 218.2h0M364.8 217.6h0M365.1 216.8h0M365.4 216.3h0M365.7 216.5h0M366.0 216.8h0M366.3 215.4h0M366.6 215.0h0M366.9 215.6h0M367.2 212.8h0M367.5 215.1h0M367.8 214.8h0M368.1 215.2h0M368.4 215.3h0M368.7 215.8h0M369.0 215.7h0M369.3 215.7h0M369.6 215.5h0M369.9 215.8h0M370.2 214.9h0M370.5 216.1h0M370.8 213.9h0M371.1 215.4h0M371.4 215.6h0M371.7 214.2h0M372.0 214.8h0M372.3 216.3h0M372.6 215.2h0M372.9 214.7h0M373.2 213.1h0M373.5 216.0h0M373.8 215.9h0M374.1 216.4h0M374.4 217.4h0M374.7 215.6h0M375.0 215.4h0M375.3 214.4h0M375.6 214.6h0M375.9 214.4h0M376.2 214.9h0M376.5 214.7h0M376.8 213.5h0M377.1 213.7h0M377.4 215.2h0M377.7 213.4h0M378.0 214.9h0M378.3 215.9h0M378.6 215.3h0M378.9 215.2h0M379.2 216.2h0M379.5 215.3h0M379.8 215.0h0M380.1 214.6h0M380.4 215.5h0M380.7 215.0h0M381.0 215.7h0M381.3 214.2h0M381.6 214.3h0M381.9 214.2h0M382.2 214.7h0M382.5 213.8h0M382.8 215.0h0M383.1 214.3h0M383.4 213.2h0M383.7 211.7h0M384.0 212.7h0M384.3 215.5h0M384.6 214.5h0M384.9 214.8h0M385.2 214.4h0M385.5 215.1h0M385.8 213.2h0M386.1 213.2h0M386.4 213.4h0M386.7 214.7h0M387.0 215.1h0M387.3 214.8h0M387.6 214.2h0M387.9 213.2h0M388.2 214.8h0M388.5 214.0h0M388.8 214.3h0M389.1 214.4h0M389.4 214.3h0M389.7 214.3h0M390.0 214.5h0M390.3 214.1h0M390.6 215.4h0M390.9 215.0h0M391.2 215.9h0M391.5 213.5h0M391.8 215.7h0M392.1 214.6h0M392.4 214.4h0M392.7 213.8h0M393.0 213.7h0M393.3 213.1h0M393.6 214.9h0M393.9 214.0h0M394.2 214.6h0M394.5 214.6h0M394.8 213.4h0M395.1 213.4h0M395.4 213.1h0M395.7 214.0h0M396.0 213.0h0M396.3 212.8h0M396.6 213.2h0M396.9 212.6h0M397.2 214.4h0M397.5 212.2h0M397.8 214.3h0M398.1 214.7h0M398.4 212.8h0M398.7 214.4h0M399.0 213.8h0M399.3 214.1h0M399.6 212.1h0M399.9 213.0h0M400.2 211.8h0M400.5 212.1h0M400.8 213.4h0M401.1 212.1h0M401.4 210.5h0M401.7 211.3h0M402.0 211.7h0M402.3 213.7h0M402.6 212.4h0M402.9 211.8h0M403.2 214.0h0M403.5 213.2h0M403.8 213.1h0M404.1 212.0h0M404.4 213.6h0M404.7 212.2h0M405.0 210.7h0M405.3 211.4h0M405.6 211.7h0M405.9 212.3h0M406.2 213.0h0M406.5 211.5h0M406.8 211.2h0M407.1 213.2h0M407.4 211.0h0M407.7 210.2h0M408.0 210.4h0M408.3 209.3h0M408.6 210.8h0M408.9 211.2h0M409.2 210.0h0M409.5 211.5h0M409.8 210.5h0M410.1 211.2h0M410.4 210.4h0M410.7 210.4h0M411.0 209.8h0M411.3 211.1h0M411.6 210.4h0M411.9 210.2h0M412.2 209.2h0M412.5 208.9h0M412.8 209.2h0M413.1 210.0h0M413.4 210.0h0M413.7 209.3h0M414.0 210.3h0M414.3 211.8h0M414.6 210.5h0M414.9 212.2h0M415.2 210.7h0M415.5 211.3h0M415.8 209.3h0M416.1 210.4h0M416.4 208.1h0M416.7 209.0h0M417.0 208.3h0M417.3 206.7h0M417.6 207.1h0M417.9 209.0h0M418.2 208.1h0M418.5 208.4h0M418.8 206.9h0M419.1 203.7h0M419.4 206.0h0M419.7 204.9h0M420.0 204.8h0M420.3 204.8h0M420.6 204.7h0M420.9 204.6h0M421.2 206.7h0M421.5 206.0h0M421.8 204.9h0M422.1 204.8h0M422.4 205.8h0M422.7 204.9h0M423.0 204.3h0M423.3 202.7h0M423.6 203.0h0M423.9 202.0h0M424.2 200.9h0M424.5 203.2h0M424.8 201.7h0M425.1 201.3h0M425.4 200.4h0M425.7 201.6h0M426.0 202.5h0M426.3 200.5h0M426.6 200.3h0M426.9 197.7h0M427.2 198.6h0M427.5 198.1h0M427.8 198.9h0M428.1 196.7h0M428.4 195.0h0M428.7 195.1h0M429.0 194.0h0M429.3 195.1h0M429.6 193.6h0M429.9 192.7h0M430.2 191.8h0M430.5 191.9h0M430.8 189.7h0M431.1 188.4h0M431.4 186.4h0M431.7 188.9h0M432.0 187.3h0M432.3 186.5h0M432.6 184.9h0M432.9 185.7h0M433.2 181.6h0M433.5 183.0h0M433.8 179.5h0M434.1 178.7h0M434.4 176.5h0M434.7 176.6h0M435.0 174.6h0M435.3 173.7h0M435.6 170.6h0M435.9 167.6h0M436.2 168.4h0M436.5 167.5h0M436.8 165.1h0M437.1 162.4h0M437.4 161.4h0M437.7 156.7h0M438.0 157.0h0M438.3 157.3h0M438.6 154.3h0M438.9 150.1h0M439.2 150.3h0M439.5 146.3h0M439.8 145.1h0M440.1 139.0h0M440.4 137.8h0M440.7 136.7h0M441.0 134.2h0M441.3 132.2h0M441.6 128.6h0M441.9 125.7h0M442.2 124.3h0M442.5 122.5h0M442.8 115.5h0M443.1 115.4h0M443.4 113.3h0M443.7 111.8h0M444.0 111.3h0M444.3 104.3h0M444.6 106.1h0M444.9 99.3h0M445.2 99.4h0M445.5 98.1h0M445.8 97.0h0M446.1 94.8h0M446.4 93.8h0M446.7 93.0h0M447.0 92.3h0M447.3 88.0h0M447.6 88.4h0M447.9 90.1h0M448.2 91.9h0M448.5 92.9h0M448.8 97.2h0M449.1 91.4h0M449.4 90.1h0M449.7 93.1h0M450.0 95.3h0M450.3 95.3h0M450.6 94.2h0M450.9 97.8h0M451.2 99.6h0M451.5 98.3h0M451.8 100.5h0M452.1 107.2h0M452.4 102.0h0M452.7 108.9h0M453.0 110.0h0M453.3 115.4h0M453.6 115.9h0M453.9 115.2h0M454.2 121.4h0M454.5 120.1h0M454.8 127.0h0M455.1 128.5h0M455.4 127.5h0M455.7 131.1h0M456.0 132.1h0M456.3 132.3h0M456.6 137.6h0M456.9 138.5h0M457.2 141.1h0M457.5 143.4h0M457.8 146.0h0M458.1 147.3h0M458.4 147.5h0M458.7 149.6h0M459.0 151.9h0M459.3 152.7h0M459.6 154.2h0M459.9 158.8h0M460.2 158.5h0M460.5 162.3h0M460.8 160.4h0M461.1 163.2h0M461.4 164.4h0M461.7 166.0h0M462.0 167.6h0M462.3 169.2h0M462.6 170.0h0M462.9 174.1h0M463.2 173.8h0M463.5 173.3h0M463.8 174.7h0M464.1 177.4h0M464.4 178.3h0M464.7 178.0h0M465.0 180.8h0M465.3 179.2h0M465.6 181.3h0M465.9 184.9h0M466.2 180.9h0M466.5 184.5h0M466.8 186.5h0M467.1 185.7h0M467.4 185.4h0M467.7 185.6h0M468.0 184.6h0M468.3 185.7h0M468.6 187.5h0M468.9 187.2h0M469.2 188.2h0M469.5 188.5h0M469.8 189.4h0M470.1 188.0h0M470.4 189.9h0M470.7 190.5h0M471.0 191.3h0M471.3 191.5h0M471.6 190.9h0M471.9 194.5h0M472.2 195.4h0M472.5 197.5h0M472.8 196.4h0M473.1 197.7h0M473.4 197.1h0M473.7 196.4h0M474.0 197.5h0M474.3 196.3h0M474.6 197.9h0M474.9 197.9h0M475.2 197.4h0M475.5 199.9h0M475.8 200.1h0M476.1 199.7h0M476.4 200.3h0M476.7 201.4h0M477.0 200.1h0M477.3 199.3h0M477.6 200.0h0M477.9 201.7h0M478.2 201.6h0M478.5 200.3h0M478.8 203.0h0M479.1 202.2h0M479.4 203.7h0M479.7 203.4h0M480.0 202.2h0M480.3 202.8h0M480.6 202.2h0M480.9 202.4h0M481.2 203.1h0M481.5 204.0h0M481.8 204.9h0M482.1 203.0h0M482.4 204.4h0M482.7 203.8h0M483.0 203.6h0M483.3 204.8h0M483.6 203.6h0M483.9 205.3h0M484.2 204.0h0M484.5 203.7h0M484.8 205.4h0M485.1 203.7h0M485.4 204.1h0M485.7 205.1h0M486.0 205.4h0M486.3 205.4h0M486.6 204.1h0M486.9 204.8h0M487.2 206.5h0M487.5 206.4h0M487.8 205.0h0M488.1 206.0h0M488.4 205.8h0M488.7 206.4h0M489.0 204.9h0M489.3 206.8h0M489.6 205.3h0M489.9 206.8h0M490.2 206.4h0M490.5 204.8h0M490.8 205.4h0M491.1 206.0h0M491.4 206.7h0M491.7 204.8h0M492.0 205.6h0M492.3 206.6h0M492.6 206.6h0M492.9 205.4h0M493.2 205.7h0M493.5 206.9h0M493.8 205.7h0M494.1 206.9h0M494.4 207.5h0M494.7 206.8h0M495.0 204.7h0M495.3 208.0h0M495.6 208.1h0M495.9 208.4h0M496.2 208.1h0M496.5 206.1h0M496.8 208.7h0M497.1 207.9h0M497.4 208.5h0M497.7 207.6h0M498.0 207.6h0M498.3 207.6h0M498.6 209.1h0M498.9 208.1h0M499.2 207.7h0M499.5 206.9h0M499.8 208.4h0M500.1 207.9h0M500.4 207.9h0M500.7 208.4h0M501.0 208.1h0M501.3 207.4h0M501.6 207.6h0M501.9 207.6h0M502.2 208.2h0M502.5 208.4h0M502.8 208.1h0M503.1 207.5h0M503.4 209.0h0M503.7 209.1h0M504.0 207.6h0M504.3 208.7h0M504.6 208.0h0M504.9 206.4h0M505.2 208.0h0M505.5 208.5h0M505.8 206.9h0M506.1 206.7h0M506.4 208.0h0M506.7 206.3h0M507.0 206.5h0M507.3 207.1h0M507.6 208.0h0M507.9 208.0h0M508.2 207.1h0M508.5 207.3h0M508.8 207.7h0M509.1 207.5h0M509.4 207.2h0M509.7 207.2h0M510.0 208.7h0M510.3 207.9h0M510.6 210.3h0M510.9 208.3h0M511.2 206.9h0M511.5 207.2h0M511.8 207.3h0M512.1 207.2h0M512.4 207.1h0M512.7 207.1h0M513.0 206.6h0M513.3 207.4h0M513.6 208.7h0M513.9 206.7h0M514.2 206.8h0M514.5 207.7h0M514.8 208.1h0M515.1 207.8h0M515.4 208.1h0M515.7 207.1h0M516.0 207.0h0M516.3 207.8h0M516.6 207.8h0M516.9 208.6h0M517.2 208.4h0M517.5 205.6h0M517.8 207.5h0M518.1 206.3h0M518.4 205.1h0M518.7 207.2h0M519.0 206.8h0M519.3 206.8h0M519.6 206.3h0M519.9 206.6h0M520.2 207.4h0M520.5 206.5h0M520.8 207.8h0M521.1 208.1h0M521.4 208.0h0M521.7 208.5h0M522.0 208.3h0M522.3 207.6h0M522.6 207.8h0M522.9 209.0h0M523.2 209.8h0M523.5 209.4h0M523.8 209.0h0M524.1 209.5h0M524.4 207.9h0M524.7 208.6h0M525.0 209.1h0M525.3 209.3h0M525.6 209.2h0M525.9 209.3h0M526.2 208.6h0M526.5 209.0h0M526.8 209.5h0M527.1 207.6h0M527.4 208.0h0M527.7 208.4h0M528.0 209.7h0M528.3 208.9h0M528.6 209.5h0M528.9 209.3h0M529.2 207.9h0M529.5 208.3h0M529.8 207.5h0M530.1 209.5h0M530.4 209.2h0M530.7 209.0h0M531.0 208.8h0M531.3 208.3h0M531.6 207.8h0M531.9 207.7h0M532.2 208.5h0M532.5 207.1h0M532.8 207.1h0M533.1 208.2h0M533.4 209.4h0M533.7 208.7h0M534.0 208.4h0M534.3 209.1h0M534.6 208.5h0M534.9 206.8h0M535.2 207.5h0M535.5 206.6h0M535.8 208.1h0M536.1 208.0h0M536.4 208.6h0M536.7 209.9h0M537.0 207.7h0M537.3 208.2h0M537.6 207.9h0M537.9 206.0h0M538.2 207.7h0M538.5 207.8h0M538.8 208.7h0M539.1 208.0h0M539.4 207.8h0M539.7 209.5h0M540.0 209.1h0M540.3 208.6h0M540.6 208.8h0M540.9 209.3h0M541.2 210.3h0M541.5 210.9h0M541.8 208.8h0M542.1 210.8h0M542.4 210.0h0M542.7 210.2h0M543.0 210.7h0M543.3 209.1h0M543.6 210.4h0M543.9 208.5h0M544.2 208.9h0M544.5 208.4h0M544.8 210.3h0M545.1 210.2h0M545.4 209.5h0M545.7 209.3h0M546.0 208.5h0M546.3 210.3h0M546.6 209.9h0M546.9 209.4h0M547.2 208.5h0M547.5 208.2h0M547.8 208.5h0M548.1 209.8h0M548.4 208.3h0M548.7 209.4h0M549.0 210.9h0M549.3 210.5h0M549.6 211.3h0M549.9 210.1h0M550.2 209.9h0M550.5 210.4h0M550.8 209.5h0M551.1 209.0h0M551.4 208.1h0M551.7 207.2h0M552.0 209.6h0M552.3 208.2h0M552.6 208.0h0M552.9 209.4h0M553.2 208.0h0M553.5 207.7h0M553.8 208.2h0M554.1 208.6h0M554.4 208.8h0M554.7 208.9h0M555.0 209.2h0M555.3 208.3h0M555.6 208.7h0M555.9 208.3h0M556.2 208.0h0M556.5 208.9h0M556.8 208.9h0M557.1 210.1h0M557.4 209.1h0M557.7 208.1h0M558.0 209.1h0M558.3 208.4h0M558.6 209.8h0M558.9 207.2h0M559.2 208.1h0M559.5 208.1h0M559.8 208.8h0M560.1 208.7h0M560.4 207.7h0M560.7 207.6h0M561.0 209.4h0M561.3 210.6h0M561.6 210.6h0M561.9 209.2h0M562.2 209.8h0M562.5 208.5h0M562.8 207.6h0M563.1 209.3h0M563.4 208.5h0M563.7 207.5h0M564.0 207.4h0M564.3 208.4h0" fill="none" stroke="#ec6a00" stroke-width="2.3" stroke-linecap="square"/>
<path d="M327.6 217.9h0M327.9 217.4h0M328.2 217.9h0M328.5 217.7h0M328.8 217.8h0M329.1 216.4h0M329.4 217.6h0M329.7 216.6h0M330.0 217.3h0M330.3 217.8h0M330.6 218.5h0M330.9 216.9h0M331.2 216.4h0M331.5 217.4h0M331.8 218.2h0M332.1 217.0h0M332.4 219.2h0M332.7 215.7h0M333.0 218.4h0M333.3 218.0h0M333.6 218.0h0M333.9 216.4h0M334.2 218.2h0M334.5 218.2h0M334.8 218.4h0M335.1 217.3h0M335.4 217.5h0M335.7 218.8h0M336.0 218.1h0M336.3 217.5h0M336.6 217.0h0M336.9 217.8h0M337.2 216.4h0M337.5 217.9h0M337.8 217.5h0M338.1 216.2h0M338.4 217.8h0M338.7 218.4h0M339.0 217.5h0M339.3 216.1h0M339.6 216.5h0M339.9 217.4h0M340.2 215.4h0M340.5 215.9h0M340.8 217.0h0M341.1 215.9h0M341.4 215.8h0M341.7 217.1h0M342.0 217.9h0M342.3 216.9h0M342.6 215.5h0M342.9 215.1h0M343.2 216.0h0M343.5 214.6h0M343.8 216.0h0M344.1 217.0h0M344.4 214.3h0M344.7 216.4h0M345.0 217.0h0M345.3 216.3h0M345.6 217.1h0M345.9 217.2h0M346.2 217.6h0M346.5 218.9h0M346.8 217.0h0M347.1 216.0h0M347.4 215.9h0M347.7 215.7h0M348.0 217.2h0M348.3 216.8h0M348.6 216.9h0M348.9 216.8h0M349.2 218.1h0M349.5 217.9h0M349.8 218.0h0M350.1 216.8h0M350.4 217.0h0M350.7 216.2h0M351.0 216.5h0M351.3 217.0h0M351.6 215.8h0M351.9 216.2h0M352.2 218.3h0M352.5 216.7h0M352.8 215.9h0M353.1 216.4h0M353.4 217.7h0M353.7 218.7h0M354.0 218.1h0M354.3 218.9h0M354.6 218.3h0M354.9 216.9h0M355.2 218.3h0M355.5 216.6h0M355.8 218.1h0M356.1 215.7h0M356.4 215.8h0M356.7 215.4h0M357.0 215.6h0M357.3 216.2h0M357.6 215.8h0M357.9 216.9h0M358.2 216.3h0M358.5 217.2h0M358.8 216.0h0M359.1 217.0h0M359.4 217.0h0M359.7 216.0h0M360.0 218.3h0M360.3 217.7h0M360.6 217.1h0M360.9 216.8h0M361.2 217.1h0M361.5 217.3h0M361.8 217.8h0M362.1 216.8h0M362.4 217.9h0M362.7 217.4h0M363.0 219.2h0M363.3 218.4h0M363.6 219.1h0M363.9 219.7h0M364.2 218.2h0M364.5 219.4h0M364.8 217.9h0M365.1 217.8h0M365.4 216.2h0M365.7 216.7h0M366.0 217.5h0M366.3 216.6h0M366.6 216.0h0M366.9 216.5h0M367.2 216.2h0M367.5 216.5h0M367.8 216.1h0M368.1 218.4h0M368.4 218.5h0M368.7 217.5h0M369.0 216.4h0M369.3 217.1h0M369.6 218.7h0M369.9 215.8h0M370.2 216.3h0M370.5 216.2h0M370.8 217.2h0M371.1 215.6h0M371.4 216.9h0M371.7 216.0h0M372.0 216.3h0M372.3 215.5h0M372.6 216.7h0M372.9 215.6h0M373.2 215.3h0M373.5 216.5h0M373.8 215.8h0M374.1 217.5h0M374.4 216.0h0M374.7 215.9h0M375.0 216.1h0M375.3 218.4h0M375.6 217.3h0M375.9 216.2h0M376.2 216.9h0M376.5 216.2h0M376.8 217.2h0M377.1 216.2h0M377.4 216.1h0M377.7 216.7h0M378.0 217.4h0M378.3 216.9h0M378.6 216.7h0M378.9 216.1h0M379.2 214.1h0M379.5 215.9h0M379.8 215.8h0M380.1 216.3h0M380.4 217.2h0M380.7 216.3h0M381.0 214.3h0M381.3 215.7h0M381.6 215.4h0M381.9 216.1h0M382.2 215.3h0M382.5 213.5h0M382.8 214.1h0M383.1 214.4h0M383.4 213.0h0M383.7 214.6h0M384.0 214.7h0M384.3 216.1h0M384.6 215.4h0M384.9 215.4h0M385.2 216.1h0M385.5 216.5h0M385.8 217.5h0M386.1 216.1h0M386.4 215.2h0M386.7 219.3h0M387.0 217.6h0M387.3 217.0h0M387.6 219.0h0M387.9 216.0h0M388.2 216.3h0M388.5 216.4h0M388.8 217.0h0M389.1 215.9h0M389.4 216.6h0M389.7 215.4h0M390.0 216.5h0M390.3 215.7h0M390.6 214.0h0M390.9 215.5h0M391.2 214.7h0M391.5 215.7h0M391.8 215.8h0M392.1 217.5h0M392.4 215.3h0M392.7 213.9h0M393.0 215.2h0M393.3 214.0h0M393.6 216.4h0M393.9 215.4h0M394.2 216.0h0M394.5 214.3h0M394.8 213.8h0M395.1 214.9h0M395.4 213.6h0M395.7 214.0h0M396.0 214.4h0M396.3 215.0h0M396.6 214.0h0M396.9 213.6h0M397.2 216.4h0M397.5 214.6h0M397.8 214.7h0M398.1 215.2h0M398.4 214.9h0M398.7 214.0h0M399.0 214.3h0M399.3 216.3h0M399.6 216.3h0M399.9 216.2h0M400.2 217.2h0M400.5 214.3h0M400.8 216.0h0M401.1 215.7h0M401.4 214.3h0M401.7 216.2h0M402.0 216.4h0M402.3 216.1h0M402.6 214.2h0M402.9 215.2h0M403.2 215.2h0M403.5 214.4h0M403.8 214.4h0M404.1 214.2h0M404.4 214.7h0M404.7 213.5h0M405.0 215.3h0M405.3 213.1h0M405.6 213.2h0M405.9 213.7h0M406.2 213.1h0M406.5 213.0h0M406.8 214.5h0M407.1 211.7h0M407.4 212.1h0M407.7 215.4h0M408.0 214.3h0M408.3 214.3h0M408.6 214.2h0M408.9 214.2h0M409.2 213.1h0M409.5 213.5h0M409.8 212.8h0M410.1 214.7h0M410.4 214.3h0M410.7 214.0h0M411.0 214.3h0M411.3 214.0h0M411.6 213.2h0M411.9 215.8h0M412.2 214.9h0M412.5 214.2h0M412.8 214.8h0M413.1 215.3h0M413.4 215.0h0M413.7 214.3h0M414.0 214.0h0M414.3 212.6h0M414.6 213.5h0M414.9 212.7h0M415.2 212.3h0M415.5 209.9h0M415.8 211.3h0M416.1 211.1h0M416.4 211.0h0M416.7 207.9h0M417.0 208.5h0M417.3 210.4h0M417.6 209.3h0M417.9 210.5h0M418.2 210.1h0M418.5 211.0h0M418.8 209.8h0M419.1 209.3h0M419.4 210.7h0M419.7 209.9h0M420.0 209.0h0M420.3 208.1h0M420.6 212.6h0M420.9 209.2h0M421.2 209.0h0M421.5 206.9h0M421.8 207.3h0M422.1 207.4h0M422.4 207.3h0M422.7 207.1h0M423.0 205.2h0M423.3 206.1h0M423.6 206.4h0M423.9 204.6h0M424.2 204.8h0M424.5 202.8h0M424.8 203.4h0M425.1 202.6h0M425.4 204.4h0M425.7 203.4h0M426.0 205.0h0M426.3 203.4h0M426.6 203.8h0M426.9 203.1h0M427.2 202.3h0M427.5 200.4h0M427.8 202.7h0M428.1 200.5h0M428.4 198.3h0M428.7 199.2h0M429.0 198.3h0M429.3 200.2h0M429.6 199.6h0M429.9 199.5h0M430.2 199.6h0M430.5 195.8h0M430.8 193.7h0M431.1 193.9h0M431.4 194.5h0M431.7 189.9h0M432.0 191.3h0M432.3 191.9h0M432.6 188.7h0M432.9 188.4h0M433.2 186.1h0M433.5 188.1h0M433.8 187.1h0M434.1 182.2h0M434.4 181.3h0M434.7 181.5h0M435.0 181.2h0M435.3 179.8h0M435.6 179.0h0M435.9 178.2h0M436.2 177.0h0M436.5 176.5h0M436.8 172.5h0M437.1 169.9h0M437.4 168.8h0M437.7 170.6h0M438.0 166.9h0M438.3 165.1h0M438.6 164.4h0M438.9 162.6h0M439.2 162.7h0M439.5 155.6h0M439.8 155.4h0M440.1 154.3h0M440.4 152.3h0M440.7 147.9h0M441.0 143.2h0M441.3 143.2h0M441.6 139.8h0M441.9 138.4h0M442.2 138.1h0M442.5 134.9h0M442.8 128.8h0M443.1 127.3h0M443.4 127.0h0M443.7 126.9h0M444.0 122.5h0M444.3 121.2h0M444.6 115.6h0M444.9 116.0h0M445.2 113.6h0M445.5 114.2h0M445.8 111.7h0M446.1 109.0h0M446.4 107.4h0M446.7 109.5h0M447.0 106.8h0M447.3 110.4h0M447.6 107.8h0M447.9 106.8h0M448.2 109.7h0M448.5 105.0h0M448.8 110.2h0M449.1 106.7h0M449.4 110.5h0M449.7 107.9h0M450.0 108.1h0M450.3 107.1h0M450.6 112.5h0M450.9 114.8h0M451.2 112.0h0M451.5 120.4h0M451.8 117.9h0M452.1 116.9h0M452.4 125.0h0M452.7 121.5h0M453.0 127.0h0M453.3 119.8h0M453.6 131.8h0M453.9 129.7h0M454.2 131.3h0M454.5 133.9h0M454.8 133.1h0M455.1 139.1h0M455.4 140.2h0M455.7 142.0h0M456.0 142.4h0M456.3 143.3h0M456.6 147.9h0M456.9 150.6h0M457.2 151.3h0M457.5 152.7h0M457.8 154.1h0M458.1 158.0h0M458.4 161.0h0M458.7 160.1h0M459.0 160.6h0M459.3 167.2h0M459.6 162.5h0M459.9 166.8h0M460.2 167.8h0M460.5 171.4h0M460.8 170.7h0M461.1 169.8h0M461.4 171.7h0M461.7 174.5h0M462.0 175.3h0M462.3 175.4h0M462.6 176.5h0M462.9 176.3h0M463.2 177.4h0M463.5 179.6h0M463.8 180.5h0M464.1 182.2h0M464.4 181.8h0M464.7 186.0h0M465.0 182.8h0M465.3 186.8h0M465.6 187.2h0M465.9 189.2h0M466.2 189.7h0M466.5 187.4h0M466.8 190.1h0M467.1 191.3h0M467.4 192.1h0M467.7 192.2h0M468.0 191.6h0M468.3 194.2h0M468.6 193.2h0M468.9 193.3h0M469.2 194.6h0M469.5 194.3h0M469.8 194.5h0M470.1 195.7h0M470.4 198.7h0M470.7 196.6h0M471.0 196.7h0M471.3 196.7h0M471.6 198.1h0M471.9 197.1h0M472.2 199.4h0M472.5 199.7h0M472.8 200.0h0M473.1 200.8h0M473.4 200.5h0M473.7 201.6h0M474.0 201.7h0M474.3 201.9h0M474.6 201.5h0M474.9 202.6h0M475.2 201.9h0M475.5 203.7h0M475.8 202.8h0M476.1 204.6h0M476.4 204.1h0M476.7 204.2h0M477.0 203.5h0M477.3 205.3h0M477.6 205.2h0M477.9 205.0h0M478.2 205.5h0M478.5 205.4h0M478.8 204.5h0M479.1 204.4h0M479.4 206.2h0M479.7 206.0h0M480.0 207.4h0M480.3 208.1h0M480.6 207.3h0M480.9 207.3h0M481.2 207.5h0M481.5 207.3h0M481.8 206.8h0M482.1 205.0h0M482.4 208.1h0M482.7 207.8h0M483.0 207.1h0M483.3 206.9h0M483.6 207.5h0M483.9 207.3h0M484.2 206.7h0M484.5 206.6h0M484.8 207.7h0M485.1 208.3h0M485.4 209.9h0M485.7 207.5h0M486.0 208.9h0M486.3 207.8h0M486.6 208.3h0M486.9 210.9h0M487.2 208.5h0M487.5 208.9h0M487.8 208.5h0M488.1 209.8h0M488.4 208.8h0M488.7 207.8h0M489.0 209.5h0M489.3 210.2h0M489.6 209.5h0M489.9 209.8h0M490.2 209.0h0M490.5 208.8h0M490.8 209.6h0M491.1 208.5h0M491.4 209.0h0M491.7 208.4h0M492.0 208.9h0M492.3 209.7h0M492.6 209.0h0M492.9 210.2h0M493.2 209.7h0M493.5 209.4h0M493.8 208.8h0M494.1 209.8h0M494.4 208.7h0M494.7 210.5h0M495.0 208.8h0M495.3 209.0h0M495.6 209.6h0M495.9 209.0h0M496.2 210.7h0M496.5 210.1h0M496.8 210.5h0M497.1 211.6h0M497.4 209.4h0M497.7 211.2h0M498.0 211.8h0M498.3 212.4h0M498.6 211.7h0M498.9 211.0h0M499.2 212.4h0M499.5 212.3h0M499.8 213.3h0M500.1 213.1h0M500.4 211.0h0M500.7 212.2h0M501.0 211.2h0M501.3 210.1h0M501.6 211.6h0M501.9 212.1h0M502.2 208.9h0M502.5 211.9h0M502.8 210.0h0M503.1 212.0h0M503.4 210.8h0M503.7 210.9h0M504.0 212.0h0M504.3 210.7h0M504.6 212.9h0M504.9 210.5h0M505.2 210.9h0M505.5 210.6h0M505.8 212.1h0M506.1 211.6h0M506.4 212.3h0M506.7 212.5h0M507.0 212.2h0M507.3 212.3h0M507.6 212.1h0M507.9 210.9h0M508.2 210.1h0M508.5 209.8h0M508.8 211.1h0M509.1 210.0h0M509.4 209.7h0M509.7 210.0h0M510.0 210.6h0M510.3 211.0h0M510.6 210.6h0M510.9 209.9h0M511.2 211.2h0M511.5 208.9h0M511.8 210.6h0M512.1 211.8h0M512.4 211.2h0M512.7 211.9h0M513.0 210.9h0M513.3 211.3h0M513.6 210.8h0M513.9 210.4h0M514.2 211.2h0M514.5 211.8h0M514.8 209.5h0M515.1 210.7h0M515.4 209.8h0M515.7 211.0h0M516.0 210.9h0M516.3 211.6h0M516.6 211.7h0M516.9 212.5h0M517.2 212.5h0M517.5 210.6h0M517.8 210.6h0M518.1 211.4h0M518.4 210.3h0M518.7 210.4h0M519.0 209.2h0M519.3 211.4h0M519.6 211.2h0M519.9 210.3h0M520.2 210.2h0M520.5 210.6h0M520.8 212.0h0M521.1 211.3h0M521.4 210.7h0M521.7 211.5h0M522.0 212.5h0M522.3 212.8h0M522.6 212.8h0M522.9 211.8h0M523.2 211.8h0M523.5 211.8h0M523.8 212.0h0M524.1 211.9h0M524.4 210.5h0M524.7 210.6h0M525.0 210.8h0M525.3 211.7h0M525.6 210.7h0M525.9 210.5h0M526.2 212.1h0M526.5 212.6h0M526.8 210.9h0M527.1 211.7h0M527.4 212.9h0M527.7 211.6h0M528.0 212.6h0M528.3 210.6h0M528.6 211.6h0M528.9 212.3h0M529.2 213.1h0M529.5 212.7h0M529.8 210.7h0M530.1 210.9h0M530.4 211.5h0M530.7 212.9h0M531.0 212.7h0M531.3 212.9h0M531.6 212.5h0M531.9 211.4h0M532.2 211.6h0M532.5 211.2h0M532.8 212.8h0M533.1 211.1h0M533.4 212.2h0M533.7 212.2h0M534.0 212.9h0M534.3 211.1h0M534.6 211.9h0M534.9 210.7h0M535.2 212.4h0M535.5 211.3h0M535.8 211.5h0M536.1 211.0h0M536.4 211.3h0M536.7 211.3h0M537.0 211.2h0M537.3 212.5h0M537.6 210.5h0M537.9 211.4h0M538.2 211.7h0M538.5 210.1h0M538.8 209.3h0M539.1 211.6h0M539.4 210.1h0M539.7 211.0h0M540.0 211.8h0M540.3 212.2h0M540.6 211.9h0M540.9 211.6h0M541.2 213.1h0M541.5 212.5h0M541.8 214.0h0M542.1 211.6h0M542.4 212.2h0M542.7 212.0h0M543.0 212.3h0M543.3 211.8h0M543.6 211.5h0M543.9 213.1h0M544.2 211.4h0M544.5 212.0h0M544.8 211.8h0M545.1 211.2h0M545.4 212.2h0M545.7 210.0h0M546.0 212.3h0M546.3 210.0h0M546.6 211.0h0M546.9 211.4h0M547.2 211.1h0M547.5 211.3h0M547.8 213.0h0M548.1 214.2h0M548.4 213.4h0M548.7 212.7h0M549.0 212.0h0M549.3 211.7h0M549.6 213.0h0M549.9 212.4h0M550.2 212.5h0M550.5 212.1h0M550.8 212.5h0M551.1 211.2h0M551.4 211.3h0M551.7 211.5h0M552.0 212.6h0M552.3 212.7h0M552.6 213.1h0M552.9 212.0h0M553.2 213.1h0M553.5 213.5h0M553.8 212.8h0M554.1 210.4h0M554.4 212.5h0M554.7 212.0h0M555.0 212.9h0M555.3 211.9h0M555.6 212.6h0M555.9 211.9h0M556.2 212.7h0M556.5 213.5h0M556.8 212.7h0M557.1 213.3h0M557.4 213.2h0M557.7 213.4h0M558.0 212.6h0M558.3 212.8h0M558.6 210.7h0M558.9 211.8h0M559.2 212.4h0M559.5 212.1h0M559.8 210.6h0M560.1 210.7h0M560.4 211.7h0M560.7 211.8h0M561.0 212.2h0M561.3 212.1h0M561.6 212.5h0M561.9 213.5h0M562.2 212.0h0M562.5 211.6h0M562.8 213.3h0M563.1 211.6h0M563.4 212.6h0M563.7 211.4h0M564.0 211.1h0M564.3 213.4h0" fill="none" stroke="#e8c000" stroke-width="2.3" stroke-linecap="square"/>
<path d="M327.6 218.4h0M327.9 217.9h0M328.2 217.3h0M328.5 219.3h0M328.8 217.4h0M329.1 218.1h0M329.4 217.8h0M329.7 216.3h0M330.0 217.4h0M330.3 215.4h0M330.6 217.3h0M330.9 216.8h0M331.2 218.0h0M331.5 218.1h0M331.8 218.1h0M332.1 218.4h0M332.4 217.3h0M332.7 216.5h0M333.0 216.6h0M333.3 218.3h0M333.6 216.5h0M333.9 216.9h0M334.2 217.3h0M334.5 216.8h0M334.8 216.1h0M335.1 215.2h0M335.4 217.9h0M335.7 216.9h0M336.0 216.2h0M336.3 217.2h0M336.6 217.8h0M336.9 216.2h0M337.2 217.9h0M337.5 217.8h0M337.8 218.2h0M338.1 218.1h0M338.4 217.5h0M338.7 217.2h0M339.0 218.5h0M339.3 218.2h0M339.6 219.6h0M339.9 217.9h0M340.2 218.3h0M340.5 217.8h0M340.8 216.3h0M341.1 218.3h0M341.4 217.4h0M341.7 216.8h0M342.0 218.3h0M342.3 219.0h0M342.6 217.9h0M342.9 217.7h0M343.2 217.3h0M343.5 217.3h0M343.8 218.4h0M344.1 217.4h0M344.4 217.7h0M344.7 218.0h0M345.0 215.4h0M345.3 218.2h0M345.6 218.7h0M345.9 218.5h0M346.2 217.1h0M346.5 217.5h0M346.8 218.4h0M347.1 217.9h0M347.4 217.6h0M347.7 216.2h0M348.0 217.2h0M348.3 218.2h0M348.6 217.1h0M348.9 218.2h0M349.2 217.9h0M349.5 217.9h0M349.8 216.8h0M350.1 216.9h0M350.4 217.0h0M350.7 218.5h0M351.0 218.7h0M351.3 217.0h0M351.6 217.0h0M351.9 218.4h0M352.2 219.5h0M352.5 218.9h0M352.8 219.3h0M353.1 219.3h0M353.4 219.4h0M353.7 218.7h0M354.0 219.0h0M354.3 219.0h0M354.6 218.1h0M354.9 219.2h0M355.2 216.8h0M355.5 217.2h0M355.8 216.7h0M356.1 218.2h0M356.4 218.2h0M356.7 216.7h0M357.0 217.3h0M357.3 216.9h0M357.6 216.2h0M357.9 216.8h0M358.2 217.9h0M358.5 218.3h0M358.8 217.4h0M359.1 218.0h0M359.4 218.7h0M359.7 219.2h0M360.0 218.3h0M360.3 217.3h0M360.6 216.7h0M360.9 218.0h0M361.2 217.7h0M361.5 217.4h0M361.8 217.3h0M362.1 217.5h0M362.4 218.2h0M362.7 218.7h0M363.0 217.7h0M363.3 220.0h0M363.6 219.8h0M363.9 218.6h0M364.2 219.0h0M364.5 219.9h0M364.8 217.7h0M365.1 217.7h0M365.4 217.4h0M365.7 216.9h0M366.0 218.2h0M366.3 217.6h0M366.6 218.1h0M366.9 218.4h0M367.2 218.5h0M367.5 220.0h0M367.8 218.6h0M368.1 217.9h0M368.4 217.3h0M368.7 217.6h0M369.0 218.2h0M369.3 218.2h0M369.6 218.3h0M369.9 217.8h0M370.2 218.4h0M370.5 218.3h0M370.8 216.8h0M371.1 217.9h0M371.4 217.7h0M371.7 217.1h0M372.0 218.1h0M372.3 217.2h0M372.6 216.5h0M372.9 217.8h0M373.2 218.5h0M373.5 216.1h0M373.8 216.9h0M374.1 217.6h0M374.4 217.4h0M374.7 217.7h0M375.0 218.0h0M375.3 215.7h0M375.6 218.0h0M375.9 216.4h0M376.2 217.3h0M376.5 217.4h0M376.8 218.8h0M377.1 217.1h0M377.4 218.3h0M377.7 216.9h0M378.0 219.4h0M378.3 217.2h0M378.6 217.6h0M378.9 216.6h0M379.2 217.1h0M379.5 218.7h0M379.8 217.9h0M380.1 216.9h0M380.4 217.5h0M380.7 218.0h0M381.0 219.7h0M381.3 218.3h0M381.6 218.8h0M381.9 219.2h0M382.2 220.1h0M382.5 218.6h0M382.8 217.0h0M383.1 216.9h0M383.4 218.9h0M383.7 217.7h0M384.0 215.8h0M384.3 216.8h0M384.6 216.9h0M384.9 216.9h0M385.2 217.7h0M385.5 217.6h0M385.8 218.2h0M386.1 215.6h0M386.4 217.5h0M386.7 217.3h0M387.0 216.7h0M387.3 218.4h0M387.6 216.8h0M387.9 216.8h0M388.2 219.3h0M388.5 218.3h0M388.8 218.6h0M389.1 218.9h0M389.4 216.8h0M389.7 218.9h0M390.0 217.8h0M390.3 218.2h0M390.6 218.4h0M390.9 218.3h0M391.2 217.5h0M391.5 217.9h0M391.8 218.1h0M392.1 219.0h0M392.4 216.5h0M392.7 219.6h0M393.0 217.9h0M393.3 220.5h0M393.6 219.1h0M393.9 220.2h0M394.2 218.5h0M394.5 219.9h0M394.8 218.5h0M395.1 218.1h0M395.4 217.7h0M395.7 214.9h0M396.0 215.5h0M396.3 215.3h0M396.6 216.9h0M396.9 216.8h0M397.2 217.8h0M397.5 217.5h0M397.8 218.2h0M398.1 216.5h0M398.4 217.2h0M398.7 216.4h0M399.0 215.9h0M399.3 215.5h0M399.6 217.0h0M399.9 216.3h0M400.2 216.7h0M400.5 216.4h0M400.8 216.4h0M401.1 219.8h0M401.4 217.7h0M401.7 216.8h0M402.0 217.8h0M402.3 218.0h0M402.6 216.6h0M402.9 218.4h0M403.2 216.4h0M403.5 217.3h0M403.8 216.3h0M404.1 216.0h0M404.4 219.5h0M404.7 216.6h0M405.0 216.2h0M405.3 217.4h0M405.6 217.3h0M405.9 219.2h0M406.2 218.7h0M406.5 217.1h0M406.8 219.2h0M407.1 217.1h0M407.4 215.7h0M407.7 217.4h0M408.0 216.7h0M408.3 215.3h0M408.6 215.2h0M408.9 216.1h0M409.2 215.8h0M409.5 216.9h0M409.8 216.7h0M410.1 215.3h0M410.4 215.3h0M410.7 215.8h0M411.0 216.8h0M411.3 215.0h0M411.6 215.9h0M411.9 214.7h0M412.2 215.6h0M412.5 214.7h0M412.8 215.6h0M413.1 214.5h0M413.4 214.6h0M413.7 217.0h0M414.0 216.1h0M414.3 214.2h0M414.6 216.3h0M414.9 215.1h0M415.2 216.3h0M415.5 214.0h0M415.8 215.1h0M416.1 214.8h0M416.4 214.7h0M416.7 214.3h0M417.0 217.0h0M417.3 215.2h0M417.6 214.9h0M417.9 213.5h0M418.2 215.8h0M418.5 215.5h0M418.8 214.0h0M419.1 212.6h0M419.4 214.0h0M419.7 213.2h0M420.0 211.7h0M420.3 214.8h0M420.6 213.6h0M420.9 212.0h0M421.2 212.1h0M421.5 213.4h0M421.8 213.5h0M422.1 212.6h0M422.4 212.2h0M422.7 211.0h0M423.0 213.1h0M423.3 210.8h0M423.6 211.3h0M423.9 211.6h0M424.2 211.1h0M424.5 212.2h0M424.8 212.7h0M425.1 208.7h0M425.4 210.0h0M425.7 210.8h0M426.0 210.2h0M426.3 207.8h0M426.6 208.4h0M426.9 207.6h0M427.2 207.2h0M427.5 206.2h0M427.8 207.6h0M428.1 207.6h0M428.4 207.8h0M428.7 206.2h0M429.0 205.7h0M429.3 206.4h0M429.6 208.3h0M429.9 204.0h0M430.2 203.5h0M430.5 204.9h0M430.8 201.1h0M431.1 198.8h0M431.4 202.0h0M431.7 201.7h0M432.0 201.0h0M432.3 199.9h0M432.6 199.5h0M432.9 196.8h0M433.2 198.4h0M433.5 195.4h0M433.8 194.1h0M434.1 195.0h0M434.4 192.9h0M434.7 192.3h0M435.0 191.8h0M435.3 191.1h0M435.6 190.7h0M435.9 187.9h0M436.2 187.3h0M436.5 186.7h0M436.8 185.8h0M437.1 184.8h0M437.4 183.8h0M437.7 181.5h0M438.0 180.4h0M438.3 179.4h0M438.6 177.0h0M438.9 176.2h0M439.2 173.3h0M439.5 173.9h0M439.8 173.9h0M440.1 169.9h0M440.4 171.8h0M440.7 167.1h0M441.0 168.3h0M441.3 167.7h0M441.6 163.3h0M441.9 160.3h0M442.2 159.9h0M442.5 156.2h0M442.8 153.1h0M443.1 155.0h0M443.4 147.3h0M443.7 151.4h0M444.0 146.6h0M444.3 148.8h0M444.6 144.6h0M444.9 148.3h0M445.2 142.0h0M445.5 136.8h0M445.8 146.8h0M446.1 139.3h0M446.4 137.9h0M446.7 137.4h0M447.0 136.1h0M447.3 137.2h0M447.6 134.6h0M447.9 141.4h0M448.2 135.1h0M448.5 138.6h0M448.8 140.7h0M449.1 137.8h0M449.4 141.0h0M449.7 138.6h0M450.0 138.4h0M450.3 139.6h0M450.6 144.5h0M450.9 145.2h0M451.2 141.8h0M451.5 146.8h0M451.8 143.6h0M452.1 146.8h0M452.4 148.9h0M452.7 144.3h0M453.0 151.1h0M453.3 150.6h0M453.6 149.9h0M453.9 155.9h0M454.2 156.8h0M454.5 158.7h0M454.8 159.3h0M455.1 160.2h0M455.4 160.6h0M455.7 164.0h0M456.0 163.9h0M456.3 166.4h0M456.6 169.2h0M456.9 171.1h0M457.2 171.7h0M457.5 172.7h0M457.8 172.9h0M458.1 175.9h0M458.4 177.3h0M458.7 175.5h0M459.0 176.5h0M459.3 176.6h0M459.6 178.6h0M459.9 179.4h0M460.2 184.0h0M460.5 184.2h0M460.8 181.4h0M461.1 185.4h0M461.4 185.1h0M461.7 184.1h0M462.0 188.0h0M462.3 187.9h0M462.6 190.4h0M462.9 191.8h0M463.2 191.2h0M463.5 194.7h0M463.8 193.5h0M464.1 192.8h0M464.4 192.2h0M464.7 197.4h0M465.0 194.4h0M465.3 196.1h0M465.6 197.0h0M465.9 198.3h0M466.2 196.3h0M466.5 195.8h0M466.8 199.3h0M467.1 198.1h0M467.4 200.0h0M467.7 203.1h0M468.0 200.5h0M468.3 202.1h0M468.6 200.4h0M468.9 205.0h0M469.2 201.7h0M469.5 203.0h0M469.8 202.9h0M470.1 202.8h0M470.4 205.0h0M470.7 204.0h0M471.0 203.6h0M471.3 204.3h0M471.6 204.8h0M471.9 205.6h0M472.2 206.0h0M472.5 205.5h0M472.8 206.3h0M473.1 209.3h0M473.4 207.5h0M473.7 209.6h0M474.0 208.2h0M474.3 209.2h0M474.6 208.5h0M474.9 207.4h0M475.2 208.9h0M475.5 210.3h0M475.8 210.7h0M476.1 210.6h0M476.4 209.0h0M476.7 209.2h0M477.0 208.5h0M477.3 209.8h0M477.6 210.2h0M477.9 209.5h0M478.2 208.3h0M478.5 209.2h0M478.8 208.7h0M479.1 209.1h0M479.4 208.6h0M479.7 209.2h0M480.0 208.7h0M480.3 208.9h0M480.6 207.6h0M480.9 210.4h0M481.2 210.6h0M481.5 209.9h0M481.8 212.5h0M482.1 212.5h0M482.4 213.1h0M482.7 211.6h0M483.0 211.4h0M483.3 211.9h0M483.6 212.4h0M483.9 212.9h0M484.2 210.8h0M484.5 211.6h0M484.8 210.0h0M485.1 211.6h0M485.4 212.5h0M485.7 212.2h0M486.0 213.6h0M486.3 212.0h0M486.6 210.9h0M486.9 210.6h0M487.2 211.5h0M487.5 212.7h0M487.8 210.3h0M488.1 210.7h0M488.4 211.8h0M488.7 211.7h0M489.0 213.1h0M489.3 212.3h0M489.6 212.9h0M489.9 213.0h0M490.2 213.2h0M490.5 214.1h0M490.8 211.6h0M491.1 211.1h0M491.4 211.2h0M491.7 212.2h0M492.0 212.6h0M492.3 213.1h0M492.6 213.0h0M492.9 213.0h0M493.2 211.5h0M493.5 212.6h0M493.8 213.5h0M494.1 212.1h0M494.4 212.6h0M494.7 212.6h0M495.0 213.4h0M495.3 212.3h0M495.6 211.8h0M495.9 213.2h0M496.2 213.4h0M496.5 214.5h0M496.8 213.3h0M497.1 213.6h0M497.4 213.3h0M497.7 213.3h0M498.0 215.5h0M498.3 211.7h0M498.6 214.5h0M498.9 213.4h0M499.2 214.1h0M499.5 212.7h0M499.8 214.1h0M500.1 213.2h0M500.4 214.3h0M500.7 214.9h0M501.0 212.8h0M501.3 212.7h0M501.6 215.3h0M501.9 216.2h0M502.2 214.7h0M502.5 213.0h0M502.8 213.3h0M503.1 215.3h0M503.4 215.9h0M503.7 214.3h0M504.0 213.2h0M504.3 215.4h0M504.6 213.3h0M504.9 213.8h0M505.2 213.7h0M505.5 213.5h0M505.8 214.3h0M506.1 212.8h0M506.4 213.5h0M506.7 214.2h0M507.0 214.1h0M507.3 214.2h0M507.6 212.8h0M507.9 211.8h0M508.2 213.5h0M508.5 213.7h0M508.8 213.9h0M509.1 213.4h0M509.4 214.1h0M509.7 212.9h0M510.0 214.3h0M510.3 215.1h0M510.6 213.7h0M510.9 213.6h0M511.2 214.2h0M511.5 214.1h0M511.8 214.2h0M512.1 213.9h0M512.4 213.6h0M512.7 215.3h0M513.0 213.2h0M513.3 215.4h0M513.6 214.1h0M513.9 215.5h0M514.2 214.4h0M514.5 213.9h0M514.8 214.2h0M515.1 213.9h0M515.4 215.5h0M515.7 213.6h0M516.0 213.4h0M516.3 213.1h0M516.6 214.0h0M516.9 214.1h0M517.2 214.8h0M517.5 213.9h0M517.8 213.6h0M518.1 214.7h0M518.4 215.5h0M518.7 215.4h0M519.0 214.1h0M519.3 214.5h0M519.6 215.2h0M519.9 214.4h0M520.2 213.6h0M520.5 214.9h0M520.8 214.5h0M521.1 215.0h0M521.4 215.6h0M521.7 214.5h0M522.0 214.0h0M522.3 214.2h0M522.6 215.3h0M522.9 214.5h0M523.2 214.8h0M523.5 213.7h0M523.8 214.5h0M524.1 213.5h0M524.4 213.4h0M524.7 213.9h0M525.0 213.9h0M525.3 213.9h0M525.6 214.2h0M525.9 215.0h0M526.2 213.7h0M526.5 212.8h0M526.8 214.6h0M527.1 215.9h0M527.4 215.3h0M527.7 213.6h0M528.0 215.1h0M528.3 215.9h0M528.6 215.8h0M528.9 216.7h0M529.2 216.0h0M529.5 213.1h0M529.8 215.9h0M530.1 214.9h0M530.4 214.7h0M530.7 214.0h0M531.0 214.2h0M531.3 214.8h0M531.6 216.0h0M531.9 216.0h0M532.2 215.7h0M532.5 216.2h0M532.8 214.8h0M533.1 214.3h0M533.4 216.4h0M533.7 215.0h0M534.0 214.1h0M534.3 214.8h0M534.6 213.4h0M534.9 215.3h0M535.2 212.9h0M535.5 213.5h0M535.8 213.8h0M536.1 213.9h0M536.4 213.1h0M536.7 214.9h0M537.0 214.8h0M537.3 214.4h0M537.6 214.9h0M537.9 214.1h0M538.2 215.2h0M538.5 213.9h0M538.8 213.4h0M539.1 214.2h0M539.4 214.3h0M539.7 214.8h0M540.0 215.2h0M540.3 216.1h0M540.6 213.6h0M540.9 213.4h0M541.2 214.9h0M541.5 215.7h0M541.8 215.5h0M542.1 214.6h0M542.4 214.5h0M542.7 214.3h0M543.0 215.8h0M543.3 214.0h0M543.6 214.3h0M543.9 213.1h0M544.2 214.9h0M544.5 214.3h0M544.8 214.4h0M545.1 214.7h0M545.4 215.0h0M545.7 217.4h0M546.0 215.8h0M546.3 215.8h0M546.6 214.6h0M546.9 214.1h0M547.2 213.4h0M547.5 214.6h0M547.8 215.1h0M548.1 215.0h0M548.4 213.6h0M548.7 215.3h0M549.0 214.4h0M549.3 215.8h0M549.6 214.7h0M549.9 215.0h0M550.2 214.4h0M550.5 214.4h0M550.8 214.9h0M551.1 215.3h0M551.4 215.4h0M551.7 214.1h0M552.0 213.5h0M552.3 214.6h0M552.6 215.1h0M552.9 213.5h0M553.2 213.5h0M553.5 213.6h0M553.8 214.4h0M554.1 215.1h0M554.4 213.8h0M554.7 215.0h0M555.0 216.0h0M555.3 215.4h0M555.6 214.3h0M555.9 213.7h0M556.2 214.8h0M556.5 215.8h0M556.8 215.2h0M557.1 215.6h0M557.4 214.0h0M557.7 214.2h0M558.0 213.5h0M558.3 214.6h0M558.6 214.1h0M558.9 213.7h0M559.2 214.2h0M559.5 215.0h0M559.8 215.3h0M560.1 215.1h0M560.4 216.3h0M560.7 215.0h0M561.0 213.7h0M561.3 215.3h0M561.6 213.7h0M561.9 213.4h0M562.2 214.8h0M562.5 213.7h0M562.8 214.2h0M563.1 213.8h0M563.4 214.0h0M563.7 212.8h0M564.0 215.0h0M564.3 215.4h0" fill="none" stroke="#6cd400" stroke-width="2.3" stroke-linecap="square"/>
<path d="M327.6 221.0h0M327.9 221.4h0M328.2 221.3h0M328.5 220.8h0M328.8 221.0h0M329.1 221.9h0M329.4 223.2h0M329.7 220.2h0M330.0 221.3h0M330.3 221.5h0M330.6 220.6h0M330.9 221.2h0M331.2 220.9h0M331.5 221.6h0M331.8 222.2h0M332.1 220.4h0M332.4 220.7h0M332.7 220.6h0M333.0 220.2h0M333.3 219.9h0M333.6 218.2h0M333.9 220.0h0M334.2 219.2h0M334.5 219.8h0M334.8 220.7h0M335.1 220.9h0M335.4 220.1h0M335.7 220.0h0M336.0 220.1h0M336.3 219.4h0M336.6 221.4h0M336.9 221.6h0M337.2 220.1h0M337.5 221.7h0M337.8 221.2h0M338.1 219.8h0M338.4 221.4h0M338.7 221.2h0M339.0 220.7h0M339.3 219.4h0M339.6 220.1h0M339.9 218.9h0M340.2 220.9h0M340.5 220.9h0M340.8 220.4h0M341.1 220.3h0M341.4 222.3h0M341.7 219.8h0M342.0 221.5h0M342.3 220.8h0M342.6 221.6h0M342.9 219.3h0M343.2 220.7h0M343.5 221.6h0M343.8 220.5h0M344.1 219.5h0M344.4 219.1h0M344.7 220.2h0M345.0 221.7h0M345.3 222.2h0M345.6 221.1h0M345.9 221.8h0M346.2 221.9h0M346.5 221.6h0M346.8 220.5h0M347.1 221.7h0M347.4 220.3h0M347.7 221.1h0M348.0 221.6h0M348.3 221.8h0M348.6 220.9h0M348.9 222.0h0M349.2 222.5h0M349.5 222.2h0M349.8 221.5h0M350.1 221.8h0M350.4 221.5h0M350.7 221.3h0M351.0 221.6h0M351.3 221.7h0M351.6 220.6h0M351.9 220.9h0M352.2 220.4h0M352.5 220.2h0M352.8 219.2h0M353.1 220.3h0M353.4 219.9h0M353.7 220.3h0M354.0 221.0h0M354.3 221.0h0M354.6 221.1h0M354.9 220.2h0M355.2 219.3h0M355.5 220.3h0M355.8 220.6h0M356.1 220.9h0M356.4 222.1h0M356.7 221.4h0M357.0 222.5h0M357.3 221.1h0M357.6 220.6h0M357.9 222.2h0M358.2 220.6h0M358.5 220.2h0M358.8 221.0h0M359.1 221.7h0M359.4 222.3h0M359.7 221.5h0M360.0 222.2h0M360.3 221.4h0M360.6 220.0h0M360.9 220.3h0M361.2 219.8h0M361.5 220.9h0M361.8 219.5h0M362.1 220.0h0M362.4 220.6h0M362.7 221.9h0M363.0 221.6h0M363.3 220.9h0M363.6 221.3h0M363.9 221.0h0M364.2 223.5h0M364.5 220.1h0M364.8 220.0h0M365.1 220.2h0M365.4 220.7h0M365.7 221.6h0M366.0 222.7h0M366.3 221.7h0M366.6 221.6h0M366.9 221.7h0M367.2 221.9h0M367.5 221.1h0M367.8 222.4h0M368.1 221.9h0M368.4 222.2h0M368.7 222.4h0M369.0 222.3h0M369.3 222.4h0M369.6 221.0h0M369.9 222.1h0M370.2 220.6h0M370.5 220.4h0M370.8 221.9h0M371.1 222.7h0M371.4 222.9h0M371.7 222.8h0M372.0 223.1h0M372.3 220.8h0M372.6 221.4h0M372.9 221.2h0M373.2 220.4h0M373.5 221.0h0M373.8 221.1h0M374.1 220.9h0M374.4 220.9h0M374.7 222.8h0M375.0 221.3h0M375.3 221.5h0M375.6 222.8h0M375.9 223.5h0M376.2 221.5h0M376.5 221.6h0M376.8 223.5h0M377.1 223.2h0M377.4 222.9h0M377.7 221.9h0M378.0 222.4h0M378.3 220.5h0M378.6 220.5h0M378.9 222.3h0M379.2 219.9h0M379.5 220.6h0M379.8 221.2h0M380.1 220.9h0M380.4 219.8h0M380.7 220.2h0M381.0 221.1h0M381.3 220.2h0M381.6 221.8h0M381.9 220.4h0M382.2 221.9h0M382.5 220.6h0M382.8 221.7h0M383.1 221.2h0M383.4 221.0h0M383.7 219.9h0M384.0 221.5h0M384.3 221.1h0M384.6 221.3h0M384.9 220.5h0M385.2 220.0h0M385.5 219.8h0M385.8 220.4h0M386.1 221.1h0M386.4 220.2h0M386.7 219.7h0M387.0 220.0h0M387.3 219.9h0M387.6 219.6h0M387.9 220.7h0M388.2 220.5h0M388.5 220.8h0M388.8 222.5h0M389.1 221.8h0M389.4 222.2h0M389.7 221.1h0M390.0 221.3h0M390.3 220.5h0M390.6 219.7h0M390.9 219.7h0M391.2 220.5h0M391.5 221.0h0M391.8 222.3h0M392.1 220.5h0M392.4 219.3h0M392.7 220.2h0M393.0 220.9h0M393.3 219.5h0M393.6 220.0h0M393.9 220.7h0M394.2 220.5h0M394.5 220.9h0M394.8 220.7h0M395.1 220.8h0M395.4 221.9h0M395.7 221.5h0M396.0 220.9h0M396.3 221.0h0M396.6 220.5h0M396.9 220.5h0M397.2 221.1h0M397.5 221.2h0M397.8 223.3h0M398.1 221.8h0M398.4 222.1h0M398.7 223.5h0M399.0 221.0h0M399.3 221.6h0M399.6 222.3h0M399.9 221.3h0M400.2 221.0h0M400.5 220.3h0M400.8 221.0h0M401.1 220.3h0M401.4 221.6h0M401.7 221.0h0M402.0 220.0h0M402.3 221.0h0M402.6 219.2h0M402.9 219.3h0M403.2 220.8h0M403.5 220.7h0M403.8 219.9h0M404.1 220.4h0M404.4 221.0h0M404.7 220.7h0M405.0 221.4h0M405.3 221.1h0M405.6 221.6h0M405.9 221.1h0M406.2 221.4h0M406.5 220.7h0M406.8 221.2h0M407.1 221.1h0M407.4 221.2h0M407.7 220.8h0M408.0 220.1h0M408.3 220.3h0M408.6 221.2h0M408.9 219.9h0M409.2 220.1h0M409.5 221.2h0M409.8 220.4h0M410.1 220.4h0M410.4 219.1h0M410.7 219.0h0M411.0 219.9h0M411.3 221.4h0M411.6 218.3h0M411.9 218.4h0M412.2 220.2h0M412.5 220.2h0M412.8 219.4h0M413.1 221.2h0M413.4 220.8h0M413.7 220.5h0M414.0 220.8h0M414.3 220.3h0M414.6 220.8h0M414.9 219.8h0M415.2 219.2h0M415.5 219.3h0M415.8 220.0h0M416.1 220.5h0M416.4 219.0h0M416.7 218.7h0M417.0 219.7h0M417.3 220.3h0M417.6 219.1h0M417.9 220.5h0M418.2 218.6h0M418.5 220.2h0M418.8 219.4h0M419.1 217.2h0M419.4 218.7h0M419.7 217.9h0M420.0 217.8h0M420.3 217.3h0M420.6 217.8h0M420.9 217.3h0M421.2 217.8h0M421.5 218.5h0M421.8 218.7h0M422.1 218.4h0M422.4 218.1h0M422.7 217.6h0M423.0 216.8h0M423.3 215.9h0M423.6 217.4h0M423.9 216.1h0M424.2 216.5h0M424.5 215.3h0M424.8 217.0h0M425.1 217.9h0M425.4 216.8h0M425.7 217.7h0M426.0 216.8h0M426.3 217.0h0M426.6 216.3h0M426.9 214.3h0M427.2 216.6h0M427.5 216.4h0M427.8 216.3h0M428.1 216.9h0M428.4 216.0h0M428.7 215.3h0M429.0 214.1h0M429.3 216.9h0M429.6 213.1h0M429.9 213.8h0M430.2 213.5h0M430.5 214.6h0M430.8 213.7h0M431.1 213.5h0M431.4 211.2h0M431.7 211.9h0M432.0 213.0h0M432.3 211.5h0M432.6 210.7h0M432.9 211.9h0M433.2 211.0h0M433.5 211.3h0M433.8 211.3h0M434.1 209.7h0M434.4 210.1h0M434.7 210.8h0M435.0 208.7h0M435.3 208.2h0M435.6 207.3h0M435.9 207.5h0M436.2 207.2h0M436.5 205.4h0M436.8 205.9h0M437.1 206.9h0M437.4 203.2h0M437.7 205.3h0M438.0 204.6h0M438.3 201.5h0M438.6 200.6h0M438.9 200.8h0M439.2 201.8h0M439.5 198.7h0M439.8 198.4h0M440.1 197.5h0M440.4 196.3h0M440.7 197.5h0M441.0 194.7h0M441.3 192.2h0M441.6 192.9h0M441.9 192.3h0M442.2 189.6h0M442.5 190.2h0M442.8 188.7h0M443.1 187.2h0M443.4 187.1h0M443.7 188.4h0M444.0 186.6h0M444.3 184.0h0M444.6 186.1h0M444.9 184.2h0M445.2 180.4h0M445.5 182.2h0M445.8 180.3h0M446.1 182.0h0M446.4 185.9h0M446.7 184.7h0M447.0 182.2h0M447.3 180.6h0M447.6 179.9h0M447.9 180.2h0M448.2 181.2h0M448.5 182.4h0M448.8 180.9h0M449.1 182.6h0M449.4 181.2h0M449.7 179.1h0M450.0 182.4h0M450.3 183.6h0M450.6 183.4h0M450.9 184.4h0M451.2 182.5h0M451.5 184.0h0M451.8 185.2h0M452.1 186.5h0M452.4 187.7h0M452.7 189.0h0M453.0 188.1h0M453.3 188.0h0M453.6 189.4h0M453.9 190.2h0M454.2 190.6h0M454.5 190.7h0M454.8 193.4h0M455.1 194.1h0M455.4 194.8h0M455.7 195.3h0M456.0 195.7h0M456.3 195.4h0M456.6 196.2h0M456.9 197.7h0M457.2 196.2h0M457.5 199.0h0M457.8 197.3h0M458.1 201.8h0M458.4 201.0h0M458.7 200.3h0M459.0 201.5h0M459.3 201.6h0M459.6 204.3h0M459.9 204.5h0M460.2 204.1h0M460.5 204.0h0M460.8 205.6h0M461.1 205.8h0M461.4 206.0h0M461.7 206.0h0M462.0 205.5h0M462.3 206.2h0M462.6 207.3h0M462.9 206.9h0M463.2 208.0h0M463.5 211.0h0M463.8 209.7h0M464.1 210.7h0M464.4 209.8h0M464.7 211.8h0M465.0 211.0h0M465.3 211.8h0M465.6 212.3h0M465.9 211.9h0M466.2 213.3h0M466.5 210.9h0M466.8 211.6h0M467.1 212.5h0M467.4 212.2h0M467.7 213.0h0M468.0 214.9h0M468.3 213.2h0M468.6 214.3h0M468.9 214.1h0M469.2 214.3h0M469.5 213.8h0M469.8 216.1h0M470.1 217.1h0M470.4 216.1h0M470.7 217.2h0M471.0 215.0h0M471.3 216.0h0M471.6 216.0h0M471.9 216.7h0M472.2 216.2h0M472.5 216.7h0M472.8 217.7h0M473.1 215.7h0M473.4 216.8h0M473.7 217.4h0M474.0 216.7h0M474.3 217.7h0M474.6 216.0h0M474.9 216.6h0M475.2 217.1h0M475.5 215.7h0M475.8 218.8h0M476.1 218.4h0M476.4 217.8h0M476.7 217.5h0M477.0 217.7h0M477.3 217.0h0M477.6 217.4h0M477.9 216.1h0M478.2 218.7h0M478.5 217.9h0M478.8 216.4h0M479.1 217.2h0M479.4 218.3h0M479.7 216.6h0M480.0 217.7h0M480.3 216.6h0M480.6 218.4h0M480.9 219.1h0M481.2 217.5h0M481.5 219.0h0M481.8 220.1h0M482.1 219.5h0M482.4 221.1h0M482.7 220.7h0M483.0 221.0h0M483.3 219.1h0M483.6 219.2h0M483.9 220.0h0M484.2 219.9h0M484.5 218.8h0M484.8 218.9h0M485.1 218.1h0M485.4 218.4h0M485.7 219.0h0M486.0 219.7h0M486.3 219.0h0M486.6 219.3h0M486.9 218.6h0M487.2 219.0h0M487.5 219.3h0M487.8 217.7h0M488.1 219.1h0M488.4 218.6h0M488.7 218.8h0M489.0 218.2h0M489.3 217.2h0M489.6 217.4h0M489.9 217.8h0M490.2 215.9h0M490.5 217.5h0M490.8 218.0h0M491.1 218.5h0M491.4 218.5h0M491.7 218.8h0M492.0 219.6h0M492.3 219.3h0M492.6 220.8h0M492.9 219.6h0M493.2 219.3h0M493.5 219.9h0M493.8 219.0h0M494.1 219.0h0M494.4 219.9h0M494.7 219.8h0M495.0 218.9h0M495.3 218.2h0M495.6 218.8h0M495.9 219.8h0M496.2 218.1h0M496.5 219.1h0M496.8 219.3h0M497.1 218.2h0M497.4 220.3h0M497.7 219.2h0M498.0 218.2h0M498.3 218.7h0M498.6 219.9h0M498.9 220.8h0M499.2 220.0h0M499.5 220.1h0M499.8 219.9h0M500.1 221.4h0M500.4 221.1h0M500.7 218.8h0M501.0 220.1h0M501.3 220.5h0M501.6 220.1h0M501.9 220.7h0M502.2 221.1h0M502.5 219.9h0M502.8 221.7h0M503.1 220.7h0M503.4 221.2h0M503.7 220.4h0M504.0 220.0h0M504.3 221.1h0M504.6 220.3h0M504.9 221.3h0M505.2 220.5h0M505.5 221.8h0M505.8 219.4h0M506.1 219.9h0M506.4 219.1h0M506.7 218.6h0M507.0 219.4h0M507.3 218.1h0M507.6 219.2h0M507.9 220.5h0M508.2 220.2h0M508.5 219.6h0M508.8 220.1h0M509.1 220.9h0M509.4 221.5h0M509.7 220.0h0M510.0 220.1h0M510.3 220.2h0M510.6 219.5h0M510.9 219.9h0M511.2 219.9h0M511.5 220.8h0M511.8 219.5h0M512.1 220.1h0M512.4 220.3h0M512.7 219.6h0M513.0 220.0h0M513.3 220.5h0M513.6 219.7h0M513.9 220.7h0M514.2 220.5h0M514.5 221.0h0M514.8 220.9h0M515.1 220.8h0M515.4 221.4h0M515.7 221.4h0M516.0 220.7h0M516.3 219.2h0M516.6 219.9h0M516.9 218.5h0M517.2 219.9h0M517.5 219.9h0M517.8 219.1h0M518.1 219.3h0M518.4 219.9h0M518.7 219.9h0M519.0 218.9h0M519.3 218.7h0M519.6 218.0h0M519.9 218.9h0M520.2 218.7h0M520.5 219.1h0M520.8 219.6h0M521.1 218.1h0M521.4 218.7h0M521.7 219.0h0M522.0 218.2h0M522.3 219.4h0M522.6 219.3h0M522.9 220.1h0M523.2 220.5h0M523.5 220.6h0M523.8 220.0h0M524.1 220.5h0M524.4 220.6h0M524.7 221.6h0M525.0 219.7h0M525.3 221.3h0M525.6 221.2h0M525.9 222.1h0M526.2 222.8h0M526.5 222.1h0M526.8 221.9h0M527.1 221.0h0M527.4 221.5h0M527.7 221.1h0M528.0 219.8h0M528.3 220.7h0M528.6 219.6h0M528.9 218.2h0M529.2 219.7h0M529.5 220.2h0M529.8 220.2h0M530.1 220.1h0M530.4 220.1h0M530.7 220.8h0M531.0 220.9h0M531.3 219.2h0M531.6 220.2h0M531.9 220.9h0M532.2 220.9h0M532.5 221.5h0M532.8 221.5h0M533.1 220.7h0M533.4 220.0h0M533.7 221.4h0M534.0 219.3h0M534.3 219.8h0M534.6 221.5h0M534.9 220.5h0M535.2 220.5h0M535.5 220.0h0M535.8 220.9h0M536.1 222.2h0M536.4 220.1h0M536.7 219.7h0M537.0 220.8h0M537.3 221.5h0M537.6 220.5h0M537.9 219.7h0M538.2 220.7h0M538.5 219.8h0M538.8 221.0h0M539.1 219.9h0M539.4 220.2h0M539.7 219.5h0M540.0 219.8h0M540.3 217.5h0M540.6 219.3h0M540.9 219.3h0M541.2 219.6h0M541.5 218.5h0M541.8 220.9h0M542.1 219.5h0M542.4 220.6h0M542.7 220.0h0M543.0 220.5h0M543.3 220.4h0M543.6 219.6h0M543.9 220.3h0M544.2 221.7h0M544.5 219.6h0M544.8 220.3h0M545.1 218.5h0M545.4 220.4h0M545.7 218.2h0M546.0 218.3h0M546.3 219.2h0M546.6 220.0h0M546.9 218.8h0M547.2 220.1h0M547.5 220.8h0M547.8 220.7h0M548.1 220.2h0M548.4 221.1h0M548.7 221.5h0M549.0 222.2h0M549.3 221.1h0M549.6 218.6h0M549.9 220.7h0M550.2 220.3h0M550.5 219.6h0M550.8 219.8h0M551.1 220.0h0M551.4 218.9h0M551.7 218.2h0M552.0 219.1h0M552.3 220.1h0M552.6 219.4h0M552.9 219.7h0M553.2 219.4h0M553.5 220.9h0M553.8 219.7h0M554.1 220.3h0M554.4 219.8h0M554.7 221.3h0M555.0 221.0h0M555.3 222.0h0M555.6 219.6h0M555.9 219.4h0M556.2 220.4h0M556.5 219.2h0M556.8 220.0h0M557.1 221.0h0M557.4 220.5h0M557.7 221.1h0M558.0 219.9h0M558.3 220.1h0M558.6 220.4h0M558.9 221.2h0M559.2 221.4h0M559.5 221.6h0M559.8 220.8h0M560.1 220.3h0M560.4 220.6h0M560.7 220.9h0M561.0 219.7h0M561.3 220.2h0M561.6 219.5h0M561.9 221.0h0M562.2 220.9h0M562.5 219.9h0M562.8 221.2h0M563.1 220.4h0M563.4 220.0h0M563.7 220.6h0M564.0 220.3h0M564.3 219.2h0" fill="none" stroke="#00d474" stroke-width="2.3" stroke-linecap="square"/>
<path d="M327.6 224.1h0M327.9 226.3h0M328.2 224.0h0M328.5 223.6h0M328.8 223.3h0M329.1 225.4h0M329.4 224.5h0M329.7 222.9h0M330.0 222.7h0M330.3 225.0h0M330.6 222.7h0M330.9 223.4h0M331.2 223.0h0M331.5 225.6h0M331.8 223.1h0M332.1 222.5h0M332.4 223.6h0M332.7 223.6h0M333.0 223.1h0M333.3 222.8h0M333.6 222.0h0M333.9 222.9h0M334.2 225.2h0M334.5 222.4h0M334.8 224.9h0M335.1 226.0h0M335.4 225.5h0M335.7 225.0h0M336.0 225.9h0M336.3 226.0h0M336.6 223.9h0M336.9 225.4h0M337.2 224.1h0M337.5 223.2h0M337.8 225.6h0M338.1 224.2h0M338.4 225.1h0M338.7 223.8h0M339.0 225.6h0M339.3 225.2h0M339.6 224.2h0M339.9 223.5h0M340.2 223.3h0M340.5 223.8h0M340.8 223.0h0M341.1 222.7h0M341.4 224.0h0M341.7 223.9h0M342.0 224.4h0M342.3 224.1h0M342.6 222.2h0M342.9 222.9h0M343.2 221.8h0M343.5 221.3h0M343.8 222.4h0M344.1 222.2h0M344.4 223.0h0M344.7 222.7h0M345.0 224.0h0M345.3 223.6h0M345.6 224.3h0M345.9 225.2h0M346.2 225.9h0M346.5 224.3h0M346.8 222.9h0M347.1 223.2h0M347.4 225.4h0M347.7 225.8h0M348.0 225.2h0M348.3 225.7h0M348.6 224.2h0M348.9 224.0h0M349.2 225.3h0M349.5 224.8h0M349.8 224.6h0M350.1 224.7h0M350.4 224.3h0M350.7 223.1h0M351.0 225.3h0M351.3 224.6h0M351.6 223.7h0M351.9 223.9h0M352.2 224.9h0M352.5 223.7h0M352.8 223.3h0M353.1 224.5h0M353.4 224.9h0M353.7 224.9h0M354.0 224.8h0M354.3 224.3h0M354.6 223.9h0M354.9 222.5h0M355.2 223.9h0M355.5 223.4h0M355.8 225.1h0M356.1 223.3h0M356.4 223.9h0M356.7 224.5h0M357.0 223.1h0M357.3 223.3h0M357.6 225.5h0M357.9 225.5h0M358.2 223.2h0M358.5 224.5h0M358.8 225.4h0M359.1 223.7h0M359.4 224.4h0M359.7 224.6h0M360.0 224.5h0M360.3 224.5h0M360.6 222.8h0M360.9 224.1h0M361.2 224.8h0M361.5 225.3h0M361.8 226.8h0M362.1 227.5h0M362.4 226.7h0M362.7 225.8h0M363.0 224.8h0M363.3 225.4h0M363.6 226.3h0M363.9 225.2h0M364.2 225.4h0M364.5 226.0h0M364.8 224.0h0M365.1 224.0h0M365.4 225.6h0M365.7 224.8h0M366.0 225.1h0M366.3 224.6h0M366.6 223.7h0M366.9 225.6h0M367.2 224.2h0M367.5 224.8h0M367.8 224.8h0M368.1 224.7h0M368.4 223.5h0M368.7 225.0h0M369.0 223.8h0M369.3 225.5h0M369.6 225.2h0M369.9 227.1h0M370.2 225.6h0M370.5 225.9h0M370.8 225.8h0M371.1 224.2h0M371.4 225.3h0M371.7 225.2h0M372.0 224.5h0M372.3 224.9h0M372.6 225.3h0M372.9 225.4h0M373.2 225.6h0M373.5 226.0h0M373.8 226.0h0M374.1 224.7h0M374.4 225.0h0M374.7 224.6h0M375.0 224.1h0M375.3 224.1h0M375.6 223.6h0M375.9 224.7h0M376.2 225.3h0M376.5 224.2h0M376.8 224.1h0M377.1 223.6h0M377.4 223.2h0M377.7 223.3h0M378.0 224.3h0M378.3 223.0h0M378.6 225.8h0M378.9 225.5h0M379.2 225.2h0M379.5 224.9h0M379.8 226.3h0M380.1 225.4h0M380.4 227.2h0M380.7 225.4h0M381.0 225.8h0M381.3 224.6h0M381.6 226.0h0M381.9 225.4h0M382.2 225.3h0M382.5 226.1h0M382.8 224.1h0M383.1 223.3h0M383.4 223.3h0M383.7 224.5h0M384.0 224.9h0M384.3 225.0h0M384.6 225.7h0M384.9 226.2h0M385.2 224.7h0M385.5 226.2h0M385.8 224.7h0M386.1 224.1h0M386.4 225.3h0M386.7 225.1h0M387.0 224.7h0M387.3 223.1h0M387.6 224.9h0M387.9 224.1h0M388.2 223.3h0M388.5 224.2h0M388.8 224.6h0M389.1 224.6h0M389.4 224.3h0M389.7 226.1h0M390.0 224.2h0M390.3 224.6h0M390.6 224.0h0M390.9 223.9h0M391.2 222.2h0M391.5 225.0h0M391.8 224.7h0M392.1 223.7h0M392.4 224.9h0M392.7 224.4h0M393.0 225.1h0M393.3 224.5h0M393.6 223.4h0M393.9 224.1h0M394.2 224.1h0M394.5 224.0h0M394.8 222.9h0M395.1 224.3h0M395.4 224.9h0M395.7 224.6h0M396.0 223.6h0M396.3 225.4h0M396.6 223.9h0M396.9 224.3h0M397.2 224.0h0M397.5 223.7h0M397.8 224.7h0M398.1 224.0h0M398.4 224.0h0M398.7 223.5h0M399.0 225.1h0M399.3 225.5h0M399.6 225.0h0M399.9 224.9h0M400.2 225.3h0M400.5 226.3h0M400.8 225.3h0M401.1 225.7h0M401.4 225.9h0M401.7 225.4h0M402.0 225.4h0M402.3 225.5h0M402.6 224.5h0M402.9 226.2h0M403.2 224.1h0M403.5 224.7h0M403.8 224.9h0M404.1 224.7h0M404.4 223.8h0M404.7 224.6h0M405.0 223.6h0M405.3 224.1h0M405.6 224.5h0M405.9 224.6h0M406.2 224.1h0M406.5 223.8h0M406.8 226.0h0M407.1 224.4h0M407.4 226.0h0M407.7 224.0h0M408.0 224.7h0M408.3 225.6h0M408.6 223.4h0M408.9 222.8h0M409.2 224.4h0M409.5 224.8h0M409.8 224.2h0M410.1 224.0h0M410.4 223.3h0M410.7 224.2h0M411.0 224.8h0M411.3 223.9h0M411.6 223.0h0M411.9 225.2h0M412.2 223.4h0M412.5 223.2h0M412.8 223.9h0M413.1 225.1h0M413.4 223.2h0M413.7 224.3h0M414.0 225.9h0M414.3 224.8h0M414.6 224.4h0M414.9 224.0h0M415.2 223.4h0M415.5 225.7h0M415.8 223.4h0M416.1 224.5h0M416.4 225.0h0M416.7 223.5h0M417.0 223.7h0M417.3 224.6h0M417.6 223.9h0M417.9 224.9h0M418.2 225.0h0M418.5 225.5h0M418.8 223.3h0M419.1 224.8h0M419.4 224.6h0M419.7 224.2h0M420.0 222.7h0M420.3 223.6h0M420.6 224.4h0M420.9 223.8h0M421.2 222.2h0M421.5 222.5h0M421.8 222.4h0M422.1 223.2h0M422.4 222.1h0M422.7 222.2h0M423.0 221.7h0M423.3 223.5h0M423.6 224.3h0M423.9 223.0h0M424.2 223.1h0M424.5 223.1h0M424.8 221.5h0M425.1 222.9h0M425.4 223.6h0M425.7 223.2h0M426.0 222.2h0M426.3 221.6h0M426.6 221.6h0M426.9 223.0h0M427.2 221.5h0M427.5 222.0h0M427.8 221.9h0M428.1 221.3h0M428.4 220.5h0M428.7 221.4h0M429.0 220.2h0M429.3 220.3h0M429.6 221.5h0M429.9 221.2h0M430.2 218.8h0M430.5 219.8h0M430.8 221.4h0M431.1 219.9h0M431.4 221.3h0M431.7 221.2h0M432.0 220.8h0M432.3 221.0h0M432.6 218.0h0M432.9 218.1h0M433.2 218.3h0M433.5 218.1h0M433.8 219.2h0M434.1 218.6h0M434.4 217.2h0M434.7 217.3h0M435.0 216.4h0M435.3 217.0h0M435.6 215.9h0M435.9 218.7h0M436.2 217.5h0M436.5 216.2h0M436.8 216.1h0M437.1 216.7h0M437.4 215.6h0M437.7 216.5h0M438.0 215.0h0M438.3 216.7h0M438.6 214.7h0M438.9 212.5h0M439.2 212.2h0M439.5 212.4h0M439.8 214.4h0M440.1 211.8h0M440.4 212.5h0M440.7 209.4h0M441.0 210.9h0M441.3 208.6h0M441.6 208.7h0M441.9 208.8h0M442.2 206.8h0M442.5 210.6h0M442.8 206.1h0M443.1 206.3h0M443.4 208.3h0M443.7 206.9h0M444.0 202.5h0M444.3 205.5h0M444.6 206.0h0M444.9 203.3h0M445.2 204.4h0M445.5 203.5h0M445.8 203.4h0M446.1 206.4h0M446.4 205.4h0M446.7 203.0h0M447.0 202.3h0M447.3 204.6h0M447.6 203.7h0M447.9 202.9h0M448.2 203.6h0M448.5 201.7h0M448.8 202.6h0M449.1 202.7h0M449.4 205.3h0M449.7 203.9h0M450.0 202.9h0M450.3 203.5h0M450.6 206.0h0M450.9 205.5h0M451.2 204.7h0M451.5 205.3h0M451.8 206.9h0M452.1 206.0h0M452.4 206.4h0M452.7 206.2h0M453.0 204.4h0M453.3 208.3h0M453.6 207.6h0M453.9 209.1h0M454.2 211.9h0M454.5 208.3h0M454.8 209.8h0M455.1 209.2h0M455.4 209.4h0M455.7 209.9h0M456.0 211.0h0M456.3 212.0h0M456.6 214.3h0M456.9 213.2h0M457.2 212.5h0M457.5 214.4h0M457.8 212.6h0M458.1 214.6h0M458.4 214.3h0M458.7 213.8h0M459.0 215.1h0M459.3 216.2h0M459.6 216.0h0M459.9 213.8h0M460.2 214.3h0M460.5 216.2h0M460.8 216.4h0M461.1 215.6h0M461.4 217.9h0M461.7 217.8h0M462.0 218.7h0M462.3 217.9h0M462.6 219.5h0M462.9 217.5h0M463.2 218.0h0M463.5 219.2h0M463.8 219.1h0M464.1 217.5h0M464.4 218.1h0M464.7 219.3h0M465.0 218.8h0M465.3 218.0h0M465.6 218.5h0M465.9 218.8h0M466.2 219.1h0M466.5 220.0h0M466.8 220.5h0M467.1 219.5h0M467.4 222.4h0M467.7 220.8h0M468.0 220.5h0M468.3 222.3h0M468.6 220.8h0M468.9 219.9h0M469.2 219.9h0M469.5 220.7h0M469.8 220.9h0M470.1 220.1h0M470.4 221.5h0M470.7 221.3h0M471.0 223.4h0M471.3 222.9h0M471.6 222.0h0M471.9 223.6h0M472.2 222.4h0M472.5 220.8h0M472.8 222.4h0M473.1 223.7h0M473.4 222.6h0M473.7 222.2h0M474.0 222.9h0M474.3 222.6h0M474.6 223.7h0M474.9 223.5h0M475.2 223.0h0M475.5 224.0h0M475.8 224.6h0M476.1 223.4h0M476.4 224.0h0M476.7 223.5h0M477.0 222.5h0M477.3 222.6h0M477.6 223.7h0M477.9 222.7h0M478.2 223.2h0M478.5 221.3h0M478.8 223.4h0M479.1 221.6h0M479.4 224.8h0M479.7 223.6h0M480.0 224.2h0M480.3 223.0h0M480.6 223.5h0M480.9 222.6h0M481.2 222.7h0M481.5 223.6h0M481.8 223.0h0M482.1 222.9h0M482.4 222.9h0M482.7 224.1h0M483.0 223.7h0M483.3 224.4h0M483.6 222.7h0M483.9 222.4h0M484.2 223.0h0M484.5 223.4h0M484.8 221.6h0M485.1 223.3h0M485.4 222.6h0M485.7 223.3h0M486.0 223.3h0M486.3 223.0h0M486.6 222.8h0M486.9 223.4h0M487.2 224.6h0M487.5 222.3h0M487.8 223.7h0M488.1 223.3h0M488.4 223.1h0M488.7 223.2h0M489.0 223.1h0M489.3 222.6h0M489.6 223.5h0M489.9 222.1h0M490.2 224.1h0M490.5 221.0h0M490.8 224.1h0M491.1 222.7h0M491.4 222.3h0M491.7 222.7h0M492.0 223.1h0M492.3 223.7h0M492.6 223.6h0M492.9 224.8h0M493.2 223.8h0M493.5 223.8h0M493.8 223.9h0M494.1 224.7h0M494.4 224.4h0M494.7 225.5h0M495.0 223.7h0M495.3 223.7h0M495.6 223.5h0M495.9 223.2h0M496.2 223.5h0M496.5 223.2h0M496.8 222.3h0M497.1 222.7h0M497.4 223.1h0M497.7 221.8h0M498.0 223.0h0M498.3 224.0h0M498.6 223.7h0M498.9 222.1h0M499.2 222.3h0M499.5 223.2h0M499.8 223.1h0M500.1 224.3h0M500.4 224.1h0M500.7 224.2h0M501.0 223.8h0M501.3 224.7h0M501.6 224.1h0M501.9 226.0h0M502.2 224.6h0M502.5 224.3h0M502.8 224.2h0M503.1 224.2h0M503.4 224.2h0M503.7 225.4h0M504.0 225.9h0M504.3 226.8h0M504.6 225.7h0M504.9 226.1h0M505.2 225.4h0M505.5 224.8h0M505.8 225.2h0M506.1 225.0h0M506.4 224.1h0M506.7 224.0h0M507.0 223.9h0M507.3 222.3h0M507.6 224.1h0M507.9 222.6h0M508.2 225.4h0M508.5 223.3h0M508.8 223.5h0M509.1 223.5h0M509.4 221.8h0M509.7 224.4h0M510.0 222.6h0M510.3 223.9h0M510.6 224.1h0M510.9 223.7h0M511.2 220.7h0M511.5 222.3h0M511.8 223.2h0M512.1 222.9h0M512.4 224.4h0M512.7 226.1h0M513.0 226.1h0M513.3 224.9h0M513.6 224.4h0M513.9 225.8h0M514.2 225.5h0M514.5 224.3h0M514.8 223.3h0M515.1 224.8h0M515.4 224.5h0M515.7 223.9h0M516.0 223.4h0M516.3 222.4h0M516.6 223.2h0M516.9 222.4h0M517.2 224.9h0M517.5 223.0h0M517.8 223.5h0M518.1 224.1h0M518.4 224.2h0M518.7 225.5h0M519.0 225.0h0M519.3 223.7h0M519.6 224.6h0M519.9 224.6h0M520.2 225.6h0M520.5 223.0h0M520.8 223.7h0M521.1 223.2h0M521.4 224.0h0M521.7 224.4h0M522.0 223.4h0M522.3 225.3h0M522.6 222.9h0M522.9 224.0h0M523.2 223.6h0M523.5 223.2h0M523.8 224.2h0M524.1 224.7h0M524.4 224.0h0M524.7 223.9h0M525.0 224.3h0M525.3 223.7h0M525.6 225.0h0M525.9 224.8h0M526.2 224.4h0M526.5 225.2h0M526.8 222.6h0M527.1 223.7h0M527.4 225.6h0M527.7 223.9h0M528.0 225.5h0M528.3 225.3h0M528.6 225.2h0M528.9 225.0h0M529.2 224.2h0M529.5 223.9h0M529.8 223.5h0M530.1 225.1h0M530.4 224.5h0M530.7 224.5h0M531.0 223.1h0M531.3 223.9h0M531.6 224.8h0M531.9 223.2h0M532.2 223.4h0M532.5 223.3h0M532.8 225.1h0M533.1 224.2h0M533.4 224.7h0M533.7 225.3h0M534.0 223.1h0M534.3 223.8h0M534.6 221.9h0M534.9 224.1h0M535.2 223.7h0M535.5 224.3h0M535.8 224.4h0M536.1 222.5h0M536.4 224.6h0M536.7 224.1h0M537.0 223.5h0M537.3 224.1h0M537.6 225.2h0M537.9 223.8h0M538.2 225.3h0M538.5 224.4h0M538.8 223.9h0M539.1 223.2h0M539.4 223.4h0M539.7 225.1h0M540.0 224.3h0M540.3 224.5h0M540.6 224.4h0M540.9 224.9h0M541.2 224.8h0M541.5 224.1h0M541.8 224.9h0M542.1 224.7h0M542.4 225.6h0M542.7 224.0h0M543.0 225.1h0M543.3 226.3h0M543.6 224.0h0M543.9 224.3h0M544.2 224.8h0M544.5 223.5h0M544.8 224.4h0M545.1 224.5h0M545.4 224.8h0M545.7 224.2h0M546.0 224.3h0M546.3 223.7h0M546.6 224.3h0M546.9 224.3h0M547.2 224.5h0M547.5 224.8h0M547.8 224.8h0M548.1 224.8h0M548.4 224.4h0M548.7 224.4h0M549.0 224.1h0M549.3 225.2h0M549.6 225.8h0M549.9 224.6h0M550.2 225.6h0M550.5 225.0h0M550.8 225.0h0M551.1 224.3h0M551.4 224.9h0M551.7 225.6h0M552.0 225.5h0M552.3 225.8h0M552.6 224.4h0M552.9 222.9h0M553.2 225.0h0M553.5 224.1h0M553.8 224.4h0M554.1 225.2h0M554.4 224.5h0M554.7 222.0h0M555.0 223.6h0M555.3 223.9h0M555.6 225.6h0M555.9 223.8h0M556.2 224.2h0M556.5 225.3h0M556.8 222.9h0M557.1 223.8h0M557.4 223.2h0M557.7 223.5h0M558.0 225.0h0M558.3 224.8h0M558.6 224.9h0M558.9 225.1h0M559.2 224.9h0M559.5 225.3h0M559.8 226.0h0M560.1 225.1h0M560.4 226.2h0M560.7 226.0h0M561.0 227.5h0M561.3 227.8h0M561.6 227.3h0M561.9 227.4h0M562.2 225.9h0M562.5 225.6h0M562.8 225.7h0M563.1 224.9h0M563.4 225.3h0M563.7 224.4h0M564.0 223.3h0M564.3 223.4h0" fill="none" stroke="#00a4e4" stroke-width="2.3" stroke-linecap="square"/>
<path d="M327.6 228.7h0M327.9 228.2h0M328.2 230.4h0M328.5 228.3h0M328.8 229.3h0M329.1 227.5h0M329.4 229.5h0M329.7 227.6h0M330.0 228.1h0M330.3 226.6h0M330.6 227.6h0M330.9 229.4h0M331.2 227.4h0M331.5 229.6h0M331.8 229.9h0M332.1 227.9h0M332.4 226.9h0M332.7 227.7h0M333.0 228.3h0M333.3 226.5h0M333.6 227.7h0M333.9 228.4h0M334.2 228.7h0M334.5 226.9h0M334.8 228.4h0M335.1 228.7h0M335.4 229.7h0M335.7 229.1h0M336.0 229.8h0M336.3 229.4h0M336.6 228.1h0M336.9 230.8h0M337.2 228.9h0M337.5 228.4h0M337.8 227.7h0M338.1 229.2h0M338.4 228.0h0M338.7 228.5h0M339.0 228.3h0M339.3 228.0h0M339.6 226.8h0M339.9 227.6h0M340.2 229.4h0M340.5 228.1h0M340.8 227.3h0M341.1 227.2h0M341.4 227.5h0M341.7 228.0h0M342.0 228.4h0M342.3 229.8h0M342.6 229.0h0M342.9 230.0h0M343.2 227.2h0M343.5 228.2h0M343.8 226.6h0M344.1 226.2h0M344.4 228.0h0M344.7 226.3h0M345.0 227.8h0M345.3 227.2h0M345.6 229.2h0M345.9 229.6h0M346.2 227.6h0M346.5 229.8h0M346.8 229.2h0M347.1 229.6h0M347.4 228.7h0M347.7 229.9h0M348.0 229.6h0M348.3 228.6h0M348.6 227.1h0M348.9 226.3h0M349.2 228.9h0M349.5 228.0h0M349.8 226.5h0M350.1 226.9h0M350.4 229.9h0M350.7 227.0h0M351.0 228.4h0M351.3 229.4h0M351.6 230.5h0M351.9 229.0h0M352.2 229.2h0M352.5 227.8h0M352.8 229.1h0M353.1 228.4h0M353.4 227.2h0M353.7 226.7h0M354.0 228.5h0M354.3 228.2h0M354.6 229.6h0M354.9 227.3h0M355.2 226.3h0M355.5 230.0h0M355.8 229.2h0M356.1 230.5h0M356.4 228.8h0M356.7 229.2h0M357.0 230.8h0M357.3 228.8h0M357.6 229.1h0M357.9 228.8h0M358.2 229.3h0M358.5 229.2h0M358.8 227.7h0M359.1 229.1h0M359.4 228.2h0M359.7 228.2h0M360.0 228.2h0M360.3 228.6h0M360.6 227.5h0M360.9 227.7h0M361.2 226.6h0M361.5 226.0h0M361.8 226.5h0M362.1 227.9h0M362.4 228.2h0M362.7 228.7h0M363.0 228.0h0M363.3 229.0h0M363.6 229.9h0M363.9 230.4h0M364.2 229.9h0M364.5 228.7h0M364.8 227.8h0M365.1 226.6h0M365.4 227.1h0M365.7 228.5h0M366.0 227.4h0M366.3 227.3h0M366.6 228.1h0M366.9 230.2h0M367.2 227.5h0M367.5 227.0h0M367.8 226.4h0M368.1 226.1h0M368.4 228.1h0M368.7 228.0h0M369.0 227.2h0M369.3 228.1h0M369.6 228.3h0M369.9 227.2h0M370.2 228.0h0M370.5 228.4h0M370.8 226.4h0M371.1 227.4h0M371.4 227.4h0M371.7 225.8h0M372.0 229.3h0M372.3 228.2h0M372.6 229.0h0M372.9 226.3h0M373.2 227.5h0M373.5 228.5h0M373.8 227.1h0M374.1 229.3h0M374.4 226.7h0M374.7 227.9h0M375.0 228.0h0M375.3 227.5h0M375.6 229.2h0M375.9 229.8h0M376.2 229.1h0M376.5 229.7h0M376.8 230.9h0M377.1 230.7h0M377.4 230.3h0M377.7 230.4h0M378.0 230.7h0M378.3 229.3h0M378.6 228.7h0M378.9 229.3h0M379.2 229.3h0M379.5 228.5h0M379.8 229.2h0M380.1 229.2h0M380.4 229.8h0M380.7 228.0h0M381.0 229.7h0M381.3 228.4h0M381.6 227.3h0M381.9 229.3h0M382.2 228.9h0M382.5 228.7h0M382.8 227.8h0M383.1 229.5h0M383.4 227.9h0M383.7 227.8h0M384.0 228.6h0M384.3 229.5h0M384.6 228.8h0M384.9 228.8h0M385.2 227.8h0M385.5 229.1h0M385.8 227.8h0M386.1 228.4h0M386.4 230.2h0M386.7 228.2h0M387.0 227.4h0M387.3 227.3h0M387.6 227.9h0M387.9 228.1h0M388.2 229.2h0M388.5 230.1h0M388.8 228.8h0M389.1 228.4h0M389.4 229.0h0M389.7 227.6h0M390.0 228.1h0M390.3 229.1h0M390.6 229.4h0M390.9 228.3h0M391.2 228.5h0M391.5 228.5h0M391.8 229.2h0M392.1 230.2h0M392.4 228.8h0M392.7 227.6h0M393.0 229.3h0M393.3 229.2h0M393.6 229.2h0M393.9 228.9h0M394.2 228.0h0M394.5 227.6h0M394.8 229.0h0M395.1 228.5h0M395.4 229.0h0M395.7 230.1h0M396.0 227.6h0M396.3 227.7h0M396.6 227.9h0M396.9 228.6h0M397.2 229.1h0M397.5 229.5h0M397.8 228.6h0M398.1 230.2h0M398.4 228.9h0M398.7 229.6h0M399.0 230.2h0M399.3 229.6h0M399.6 228.3h0M399.9 228.5h0M400.2 228.9h0M400.5 229.2h0M400.8 227.4h0M401.1 227.4h0M401.4 227.6h0M401.7 228.8h0M402.0 227.9h0M402.3 227.7h0M402.6 226.8h0M402.9 227.1h0M403.2 228.9h0M403.5 228.1h0M403.8 230.0h0M404.1 228.5h0M404.4 229.2h0M404.7 229.4h0M405.0 228.9h0M405.3 228.2h0M405.6 229.8h0M405.9 227.9h0M406.2 228.2h0M406.5 227.5h0M406.8 228.6h0M407.1 228.8h0M407.4 228.8h0M407.7 228.2h0M408.0 229.0h0M408.3 227.6h0M408.6 228.3h0M408.9 229.4h0M409.2 227.1h0M409.5 227.6h0M409.8 229.5h0M410.1 229.1h0M410.4 228.6h0M410.7 228.6h0M411.0 230.0h0M411.3 229.1h0M411.6 228.5h0M411.9 227.6h0M412.2 229.1h0M412.5 228.1h0M412.8 229.0h0M413.1 228.6h0M413.4 230.1h0M413.7 228.3h0M414.0 228.6h0M414.3 229.5h0M414.6 226.3h0M414.9 227.8h0M415.2 226.9h0M415.5 229.7h0M415.8 228.8h0M416.1 228.6h0M416.4 228.9h0M416.7 229.6h0M417.0 229.6h0M417.3 229.3h0M417.6 229.9h0M417.9 229.3h0M418.2 230.5h0M418.5 227.6h0M418.8 228.1h0M419.1 228.9h0M419.4 228.9h0M419.7 227.7h0M420.0 229.2h0M420.3 228.8h0M420.6 229.4h0M420.9 227.6h0M421.2 228.9h0M421.5 227.8h0M421.8 228.3h0M422.1 228.6h0M422.4 227.5h0M422.7 227.5h0M423.0 229.2h0M423.3 226.7h0M423.6 228.1h0M423.9 229.0h0M424.2 229.5h0M424.5 228.4h0M424.8 227.8h0M425.1 229.7h0M425.4 228.1h0M425.7 228.3h0M426.0 227.3h0M426.3 226.4h0M426.6 227.0h0M426.9 227.2h0M427.2 225.8h0M427.5 228.7h0M427.8 227.2h0M428.1 228.9h0M428.4 228.4h0M428.7 226.8h0M429.0 227.2h0M429.3 226.7h0M429.6 227.0h0M429.9 226.9h0M430.2 227.0h0M430.5 226.8h0M430.8 226.3h0M431.1 225.3h0M431.4 224.2h0M431.7 225.6h0M432.0 224.9h0M432.3 225.4h0M432.6 224.0h0M432.9 224.7h0M433.2 223.5h0M433.5 224.8h0M433.8 224.2h0M434.1 224.9h0M434.4 226.9h0M434.7 225.0h0M435.0 223.9h0M435.3 224.1h0M435.6 223.7h0M435.9 223.4h0M436.2 223.2h0M436.5 222.8h0M436.8 222.4h0M437.1 223.1h0M437.4 222.8h0M437.7 223.2h0M438.0 221.5h0M438.3 221.0h0M438.6 222.5h0M438.9 217.8h0M439.2 219.1h0M439.5 219.0h0M439.8 218.8h0M440.1 217.3h0M440.4 217.4h0M440.7 216.0h0M441.0 216.8h0M441.3 214.9h0M441.6 217.6h0M441.9 216.0h0M442.2 214.6h0M442.5 217.0h0M442.8 215.0h0M443.1 213.5h0M443.4 214.9h0M443.7 213.5h0M444.0 211.3h0M444.3 213.3h0M444.6 214.6h0M444.9 210.1h0M445.2 211.3h0M445.5 212.4h0M445.8 211.7h0M446.1 212.4h0M446.4 210.8h0M446.7 212.7h0M447.0 210.9h0M447.3 210.7h0M447.6 211.3h0M447.9 210.4h0M448.2 210.5h0M448.5 210.6h0M448.8 210.4h0M449.1 210.8h0M449.4 210.4h0M449.7 213.1h0M450.0 213.0h0M450.3 210.1h0M450.6 212.1h0M450.9 212.7h0M451.2 211.5h0M451.5 213.5h0M451.8 212.5h0M452.1 213.6h0M452.4 212.7h0M452.7 214.4h0M453.0 214.6h0M453.3 217.5h0M453.6 217.0h0M453.9 215.7h0M454.2 216.0h0M454.5 216.4h0M454.8 216.9h0M455.1 214.3h0M455.4 216.8h0M455.7 217.7h0M456.0 217.1h0M456.3 215.8h0M456.6 215.6h0M456.9 215.6h0M457.2 219.6h0M457.5 219.0h0M457.8 220.2h0M458.1 219.0h0M458.4 219.2h0M458.7 219.0h0M459.0 221.6h0M459.3 220.3h0M459.6 221.4h0M459.9 223.7h0M460.2 224.3h0M460.5 222.7h0M460.8 224.0h0M461.1 223.3h0M461.4 223.7h0M461.7 222.1h0M462.0 223.8h0M462.3 224.0h0M462.6 224.5h0M462.9 224.8h0M463.2 224.8h0M463.5 225.3h0M463.8 224.0h0M464.1 225.0h0M464.4 223.7h0M464.7 224.6h0M465.0 224.1h0M465.3 224.0h0M465.6 224.3h0M465.9 224.6h0M466.2 226.2h0M466.5 225.1h0M466.8 226.4h0M467.1 226.8h0M467.4 228.5h0M467.7 227.4h0M468.0 225.8h0M468.3 225.6h0M468.6 226.7h0M468.9 227.0h0M469.2 225.9h0M469.5 227.2h0M469.8 224.6h0M470.1 224.4h0M470.4 225.6h0M470.7 226.9h0M471.0 227.4h0M471.3 227.1h0M471.6 228.8h0M471.9 228.4h0M472.2 228.2h0M472.5 229.9h0M472.8 229.0h0M473.1 228.1h0M473.4 229.1h0M473.7 227.9h0M474.0 229.8h0M474.3 228.7h0M474.6 227.3h0M474.9 229.8h0M475.2 228.9h0M475.5 227.9h0M475.8 228.4h0M476.1 228.9h0M476.4 228.4h0M476.7 228.9h0M477.0 229.9h0M477.3 229.0h0M477.6 229.6h0M477.9 231.5h0M478.2 230.0h0M478.5 230.0h0M478.8 230.9h0M479.1 231.8h0M479.4 230.3h0M479.7 230.6h0M480.0 230.1h0M480.3 231.9h0M480.6 231.3h0M480.9 230.4h0M481.2 231.0h0M481.5 228.9h0M481.8 229.5h0M482.1 230.4h0M482.4 231.5h0M482.7 229.4h0M483.0 231.2h0M483.3 230.9h0M483.6 231.0h0M483.9 231.2h0M484.2 229.9h0M484.5 231.7h0M484.8 229.7h0M485.1 230.1h0M485.4 228.9h0M485.7 229.3h0M486.0 228.8h0M486.3 231.8h0M486.6 233.0h0M486.9 231.0h0M487.2 231.2h0M487.5 232.3h0M487.8 229.9h0M488.1 230.4h0M488.4 229.4h0M488.7 230.7h0M489.0 230.5h0M489.3 231.2h0M489.6 231.3h0M489.9 229.7h0M490.2 230.1h0M490.5 230.8h0M490.8 231.0h0M491.1 230.4h0M491.4 231.1h0M491.7 231.4h0M492.0 230.6h0M492.3 231.2h0M492.6 231.1h0M492.9 230.5h0M493.2 232.3h0M493.5 232.7h0M493.8 230.8h0M494.1 232.1h0M494.4 231.9h0M494.7 230.1h0M495.0 230.4h0M495.3 230.3h0M495.6 231.5h0M495.9 231.8h0M496.2 230.3h0M496.5 229.5h0M496.8 230.9h0M497.1 232.2h0M497.4 231.7h0M497.7 231.6h0M498.0 230.2h0M498.3 231.9h0M498.6 230.8h0M498.9 230.7h0M499.2 230.4h0M499.5 229.6h0M499.8 228.9h0M500.1 229.7h0M500.4 230.1h0M500.7 231.3h0M501.0 230.0h0M501.3 229.7h0M501.6 232.3h0M501.9 231.8h0M502.2 230.4h0M502.5 230.9h0M502.8 231.3h0M503.1 232.5h0M503.4 231.3h0M503.7 232.4h0M504.0 231.4h0M504.3 230.6h0M504.6 231.3h0M504.9 229.9h0M505.2 230.8h0M505.5 231.8h0M505.8 230.6h0M506.1 231.0h0M506.4 230.2h0M506.7 231.4h0M507.0 230.3h0M507.3 231.6h0M507.6 232.8h0M507.9 231.9h0M508.2 233.0h0M508.5 232.5h0M508.8 232.5h0M509.1 231.3h0M509.4 231.7h0M509.7 230.9h0M510.0 231.1h0M510.3 231.2h0M510.6 232.0h0M510.9 232.7h0M511.2 230.3h0M511.5 232.6h0M511.8 229.5h0M512.1 229.8h0M512.4 233.0h0M512.7 232.7h0M513.0 231.9h0M513.3 231.9h0M513.6 231.7h0M513.9 229.9h0M514.2 232.2h0M514.5 231.4h0M514.8 230.1h0M515.1 232.4h0M515.4 232.6h0M515.7 233.1h0M516.0 232.9h0M516.3 231.8h0M516.6 232.6h0M516.9 232.0h0M517.2 232.1h0M517.5 233.4h0M517.8 231.6h0M518.1 229.7h0M518.4 231.2h0M518.7 230.2h0M519.0 230.6h0M519.3 232.5h0M519.6 231.7h0M519.9 230.8h0M520.2 231.3h0M520.5 232.4h0M520.8 231.8h0M521.1 233.1h0M521.4 231.0h0M521.7 232.1h0M522.0 232.1h0M522.3 231.4h0M522.6 232.5h0M522.9 232.9h0M523.2 233.4h0M523.5 231.0h0M523.8 232.9h0M524.1 233.4h0M524.4 234.0h0M524.7 233.4h0M525.0 233.2h0M525.3 232.6h0M525.6 234.3h0M525.9 233.1h0M526.2 234.4h0M526.5 233.3h0M526.8 233.4h0M527.1 232.5h0M527.4 231.9h0M527.7 233.1h0M528.0 232.7h0M528.3 233.8h0M528.6 231.6h0M528.9 231.6h0M529.2 233.5h0M529.5 231.8h0M529.8 231.5h0M530.1 230.6h0M530.4 231.4h0M530.7 232.4h0M531.0 232.6h0M531.3 230.4h0M531.6 232.1h0M531.9 231.0h0M532.2 231.0h0M532.5 231.8h0M532.8 231.0h0M533.1 231.3h0M533.4 231.5h0M533.7 231.6h0M534.0 231.5h0M534.3 232.1h0M534.6 231.2h0M534.9 231.1h0M535.2 231.3h0M535.5 232.2h0M535.8 231.7h0M536.1 232.5h0M536.4 232.1h0M536.7 233.2h0M537.0 230.8h0M537.3 232.2h0M537.6 231.5h0M537.9 232.6h0M538.2 230.2h0M538.5 231.2h0M538.8 230.5h0M539.1 230.8h0M539.4 231.6h0M539.7 232.3h0M540.0 233.0h0M540.3 231.7h0M540.6 231.5h0M540.9 232.2h0M541.2 232.9h0M541.5 232.4h0M541.8 232.2h0M542.1 232.3h0M542.4 231.3h0M542.7 231.6h0M543.0 232.6h0M543.3 231.3h0M543.6 230.4h0M543.9 230.8h0M544.2 231.2h0M544.5 231.9h0M544.8 232.5h0M545.1 231.1h0M545.4 232.0h0M545.7 232.4h0M546.0 231.9h0M546.3 231.0h0M546.6 231.4h0M546.9 233.0h0M547.2 230.9h0M547.5 233.0h0M547.8 231.6h0M548.1 231.6h0M548.4 233.0h0M548.7 233.0h0M549.0 230.5h0M549.3 232.3h0M549.6 232.0h0M549.9 231.0h0M550.2 231.3h0M550.5 230.9h0M550.8 233.0h0M551.1 233.8h0M551.4 230.5h0M551.7 231.0h0M552.0 231.5h0M552.3 230.9h0M552.6 232.6h0M552.9 232.1h0M553.2 231.9h0M553.5 230.9h0M553.8 230.8h0M554.1 231.9h0M554.4 230.1h0M554.7 232.1h0M555.0 231.0h0M555.3 232.2h0M555.6 231.7h0M555.9 232.1h0M556.2 232.0h0M556.5 231.2h0M556.8 231.2h0M557.1 231.3h0M557.4 231.7h0M557.7 232.1h0M558.0 231.3h0M558.3 232.5h0M558.6 231.0h0M558.9 230.3h0M559.2 230.6h0M559.5 230.6h0M559.8 232.2h0M560.1 231.7h0M560.4 231.2h0M560.7 230.8h0M561.0 231.0h0M561.3 229.7h0M561.6 232.6h0M561.9 231.2h0M562.2 231.6h0M562.5 231.8h0M562.8 231.0h0M563.1 231.0h0M563.4 230.5h0M563.7 231.4h0M564.0 231.5h0M564.3 230.2h0" fill="none" stroke="#0058e0" stroke-width="2.3" stroke-linecap="square"/>
<path d="M327.6 230.8h0M327.9 231.7h0M328.2 230.1h0M328.5 231.7h0M328.8 232.3h0M329.1 232.1h0M329.4 232.1h0M329.7 234.1h0M330.0 232.5h0M330.3 231.9h0M330.6 232.6h0M330.9 233.7h0M331.2 232.5h0M331.5 231.7h0M331.8 233.0h0M332.1 232.4h0M332.4 233.2h0M332.7 232.0h0M333.0 234.3h0M333.3 233.0h0M333.6 233.5h0M333.9 233.1h0M334.2 233.8h0M334.5 232.9h0M334.8 232.7h0M335.1 232.1h0M335.4 232.1h0M335.7 233.0h0M336.0 233.0h0M336.3 231.6h0M336.6 230.7h0M336.9 232.6h0M337.2 231.1h0M337.5 231.2h0M337.8 231.5h0M338.1 232.4h0M338.4 232.0h0M338.7 231.7h0M339.0 230.9h0M339.3 232.2h0M339.6 233.2h0M339.9 232.4h0M340.2 232.7h0M340.5 232.2h0M340.8 231.9h0M341.1 232.4h0M341.4 232.4h0M341.7 234.5h0M342.0 232.9h0M342.3 232.8h0M342.6 233.0h0M342.9 233.3h0M343.2 233.4h0M343.5 233.8h0M343.8 233.8h0M344.1 233.4h0M344.4 231.8h0M344.7 234.2h0M345.0 233.9h0M345.3 235.0h0M345.6 232.0h0M345.9 234.5h0M346.2 232.0h0M346.5 233.8h0M346.8 233.4h0M347.1 234.4h0M347.4 232.0h0M347.7 234.2h0M348.0 232.1h0M348.3 232.8h0M348.6 232.4h0M348.9 233.2h0M349.2 232.2h0M349.5 232.7h0M349.8 232.2h0M350.1 232.6h0M350.4 232.6h0M350.7 233.7h0M351.0 232.9h0M351.3 232.5h0M351.6 233.7h0M351.9 233.3h0M352.2 234.1h0M352.5 232.6h0M352.8 233.3h0M353.1 232.2h0M353.4 233.5h0M353.7 234.0h0M354.0 234.2h0M354.3 231.9h0M354.6 232.6h0M354.9 232.1h0M355.2 234.5h0M355.5 234.6h0M355.8 233.2h0M356.1 232.6h0M356.4 232.8h0M356.7 232.6h0M357.0 233.1h0M357.3 233.1h0M357.6 234.5h0M357.9 235.5h0M358.2 233.7h0M358.5 234.3h0M358.8 234.6h0M359.1 234.3h0M359.4 232.9h0M359.7 233.4h0M360.0 234.0h0M360.3 233.9h0M360.6 234.1h0M360.9 232.5h0M361.2 233.0h0M361.5 233.6h0M361.8 232.6h0M362.1 234.2h0M362.4 234.3h0M362.7 231.4h0M363.0 231.3h0M363.3 231.6h0M363.6 231.8h0M363.9 232.4h0M364.2 233.0h0M364.5 231.0h0M364.8 231.6h0M365.1 232.5h0M365.4 231.7h0M365.7 232.8h0M366.0 231.5h0M366.3 233.1h0M366.6 232.9h0M366.9 233.5h0M367.2 232.4h0M367.5 232.8h0M367.8 233.1h0M368.1 232.5h0M368.4 232.2h0M368.7 232.7h0M369.0 234.0h0M369.3 233.2h0M369.6 233.4h0M369.9 232.9h0M370.2 234.3h0M370.5 232.5h0M370.8 232.9h0M371.1 233.9h0M371.4 233.5h0M371.7 233.7h0M372.0 234.0h0M372.3 232.7h0M372.6 232.4h0M372.9 232.8h0M373.2 234.0h0M373.5 235.3h0M373.8 232.4h0M374.1 233.6h0M374.4 231.5h0M374.7 232.9h0M375.0 233.1h0M375.3 232.6h0M375.6 231.2h0M375.9 231.7h0M376.2 233.1h0M376.5 231.9h0M376.8 231.3h0M377.1 232.3h0M377.4 231.9h0M377.7 232.7h0M378.0 233.2h0M378.3 233.7h0M378.6 233.5h0M378.9 234.1h0M379.2 232.2h0M379.5 232.1h0M379.8 233.5h0M380.1 232.3h0M380.4 232.4h0M380.7 232.2h0M381.0 232.3h0M381.3 231.9h0M381.6 232.9h0M381.9 233.0h0M382.2 232.4h0M382.5 233.3h0M382.8 234.3h0M383.1 232.0h0M383.4 234.4h0M383.7 233.2h0M384.0 233.4h0M384.3 233.9h0M384.6 234.4h0M384.9 233.9h0M385.2 234.3h0M385.5 232.8h0M385.8 232.8h0M386.1 232.7h0M386.4 232.8h0M386.7 231.7h0M387.0 231.1h0M387.3 232.2h0M387.6 231.1h0M387.9 230.0h0M388.2 232.1h0M388.5 232.2h0M388.8 232.5h0M389.1 230.1h0M389.4 231.4h0M389.7 231.9h0M390.0 233.2h0M390.3 233.7h0M390.6 233.7h0M390.9 232.6h0M391.2 233.8h0M391.5 234.3h0M391.8 232.3h0M392.1 232.8h0M392.4 231.9h0M392.7 229.8h0M393.0 231.6h0M393.3 232.1h0M393.6 233.2h0M393.9 233.7h0M394.2 232.6h0M394.5 232.3h0M394.8 232.3h0M395.1 232.8h0M395.4 232.5h0M395.7 232.7h0M396.0 233.4h0M396.3 231.6h0M396.6 234.0h0M396.9 232.2h0M397.2 233.5h0M397.5 232.4h0M397.8 232.7h0M398.1 231.4h0M398.4 232.6h0M398.7 231.8h0M399.0 230.8h0M399.3 231.8h0M399.6 231.6h0M399.9 233.0h0M400.2 232.2h0M400.5 233.5h0M400.8 233.6h0M401.1 233.6h0M401.4 232.8h0M401.7 234.2h0M402.0 233.4h0M402.3 233.5h0M402.6 234.6h0M402.9 233.5h0M403.2 234.8h0M403.5 234.4h0M403.8 234.0h0M404.1 233.2h0M404.4 232.7h0M404.7 233.5h0M405.0 232.2h0M405.3 233.4h0M405.6 232.5h0M405.9 234.3h0M406.2 233.5h0M406.5 234.2h0M406.8 232.5h0M407.1 233.3h0M407.4 232.7h0M407.7 233.0h0M408.0 232.2h0M408.3 233.9h0M408.6 232.4h0M408.9 233.5h0M409.2 233.5h0M409.5 234.1h0M409.8 233.3h0M410.1 231.3h0M410.4 231.8h0M410.7 231.4h0M411.0 231.3h0M411.3 231.4h0M411.6 232.9h0M411.9 232.9h0M412.2 232.6h0M412.5 231.6h0M412.8 232.2h0M413.1 233.3h0M413.4 233.3h0M413.7 232.3h0M414.0 233.5h0M414.3 233.4h0M414.6 234.5h0M414.9 232.7h0M415.2 230.5h0M415.5 232.7h0M415.8 233.1h0M416.1 230.8h0M416.4 232.9h0M416.7 233.3h0M417.0 232.6h0M417.3 232.2h0M417.6 232.9h0M417.9 232.8h0M418.2 233.6h0M418.5 234.5h0M418.8 233.7h0M419.1 233.0h0M419.4 233.8h0M419.7 232.6h0M420.0 231.2h0M420.3 232.5h0M420.6 233.7h0M420.9 231.7h0M421.2 232.2h0M421.5 230.7h0M421.8 231.7h0M422.1 231.4h0M422.4 231.9h0M422.7 231.9h0M423.0 232.0h0M423.3 233.1h0M423.6 232.3h0M423.9 232.2h0M424.2 234.1h0M424.5 233.7h0M424.8 232.2h0M425.1 231.7h0M425.4 231.5h0M425.7 234.1h0M426.0 232.5h0M426.3 232.0h0M426.6 232.3h0M426.9 232.3h0M427.2 234.0h0M427.5 232.6h0M427.8 232.6h0M428.1 232.0h0M428.4 233.0h0M428.7 232.6h0M429.0 232.4h0M429.3 229.7h0M429.6 231.7h0M429.9 230.9h0M430.2 232.1h0M430.5 229.5h0M430.8 230.6h0M431.1 230.0h0M431.4 230.9h0M431.7 230.8h0M432.0 230.7h0M432.3 229.4h0M432.6 229.3h0M432.9 228.3h0M433.2 229.5h0M433.5 228.7h0M433.8 230.4h0M434.1 231.4h0M434.4 228.0h0M434.7 229.4h0M435.0 228.3h0M435.3 228.2h0M435.6 229.2h0M435.9 229.2h0M436.2 228.1h0M436.5 228.8h0M436.8 227.7h0M437.1 226.8h0M437.4 228.9h0M437.7 227.6h0M438.0 227.0h0M438.3 227.7h0M438.6 227.7h0M438.9 226.5h0M439.2 227.6h0M439.5 224.4h0M439.8 224.4h0M440.1 225.5h0M440.4 223.5h0M440.7 226.3h0M441.0 224.1h0M441.3 224.9h0M441.6 223.5h0M441.9 222.4h0M442.2 222.3h0M442.5 223.3h0M442.8 221.7h0M443.1 219.6h0M443.4 223.6h0M443.7 221.4h0M444.0 221.4h0M444.3 221.3h0M444.6 220.1h0M444.9 217.7h0M445.2 220.0h0M445.5 219.6h0M445.8 220.5h0M446.1 220.4h0M446.4 219.6h0M446.7 219.0h0M447.0 222.0h0M447.3 220.2h0M447.6 219.5h0M447.9 217.6h0M448.2 218.6h0M448.5 219.5h0M448.8 218.1h0M449.1 218.6h0M449.4 218.4h0M449.7 219.4h0M450.0 220.2h0M450.3 219.7h0M450.6 219.8h0M450.9 221.0h0M451.2 221.9h0M451.5 217.7h0M451.8 220.4h0M452.1 221.6h0M452.4 222.6h0M452.7 219.7h0M453.0 222.2h0M453.3 224.6h0M453.6 223.5h0M453.9 224.2h0M454.2 225.5h0M454.5 225.5h0M454.8 224.0h0M455.1 225.0h0M455.4 223.8h0M455.7 225.1h0M456.0 225.3h0M456.3 225.7h0M456.6 225.4h0M456.9 222.5h0M457.2 225.7h0M457.5 225.3h0M457.8 227.4h0M458.1 228.1h0M458.4 227.5h0M458.7 226.9h0M459.0 228.1h0M459.3 228.7h0M459.6 229.2h0M459.9 229.3h0M460.2 228.2h0M460.5 228.7h0M460.8 228.7h0M461.1 229.9h0M461.4 227.3h0M461.7 227.3h0M462.0 229.9h0M462.3 229.8h0M462.6 229.5h0M462.9 228.8h0M463.2 230.0h0M463.5 229.2h0M463.8 228.9h0M464.1 230.4h0M464.4 229.0h0M464.7 230.7h0M465.0 230.5h0M465.3 231.1h0M465.6 233.0h0M465.9 230.4h0M466.2 232.2h0M466.5 233.2h0M466.8 233.0h0M467.1 232.7h0M467.4 231.6h0M467.7 233.5h0M468.0 231.8h0M468.3 233.8h0M468.6 231.9h0M468.9 232.7h0M469.2 232.7h0M469.5 231.5h0M469.8 232.0h0M470.1 233.2h0M470.4 231.8h0M470.7 232.8h0M471.0 231.8h0M471.3 232.6h0M471.6 232.2h0M471.9 232.4h0M472.2 233.4h0M472.5 231.6h0M472.8 231.5h0M473.1 230.9h0M473.4 235.2h0M473.7 232.4h0M474.0 233.9h0M474.3 232.9h0M474.6 232.9h0M474.9 232.6h0M475.2 235.0h0M475.5 232.5h0M475.8 232.2h0M476.1 233.2h0M476.4 233.3h0M476.7 233.0h0M477.0 231.8h0M477.3 232.7h0M477.6 233.5h0M477.9 232.5h0M478.2 234.6h0M478.5 233.0h0M478.8 234.0h0M479.1 233.8h0M479.4 233.5h0M479.7 234.7h0M480.0 232.8h0M480.3 234.1h0M480.6 233.2h0M480.9 234.6h0M481.2 232.8h0M481.5 234.8h0M481.8 233.7h0M482.1 234.8h0M482.4 233.5h0M482.7 235.0h0M483.0 233.4h0M483.3 233.4h0M483.6 233.4h0M483.9 233.7h0M484.2 233.1h0M484.5 234.5h0M484.8 233.0h0M485.1 234.2h0M485.4 233.7h0M485.7 233.7h0M486.0 233.3h0M486.3 233.8h0M486.6 234.0h0M486.9 234.4h0M487.2 235.5h0M487.5 234.1h0M487.8 235.0h0M488.1 235.2h0M488.4 235.3h0M488.7 234.6h0M489.0 236.3h0M489.3 233.4h0M489.6 234.0h0M489.9 234.5h0M490.2 233.6h0M490.5 234.1h0M490.8 234.5h0M491.1 234.0h0M491.4 233.9h0M491.7 234.7h0M492.0 234.3h0M492.3 234.3h0M492.6 233.6h0M492.9 235.8h0M493.2 236.9h0M493.5 234.8h0M493.8 235.0h0M494.1 236.4h0M494.4 234.2h0M494.7 234.2h0M495.0 235.2h0M495.3 234.8h0M495.6 235.3h0M495.9 233.6h0M496.2 235.3h0M496.5 234.2h0M496.8 235.7h0M497.1 235.5h0M497.4 234.7h0M497.7 236.4h0M498.0 235.7h0M498.3 235.3h0M498.6 236.0h0M498.9 235.2h0M499.2 235.9h0M499.5 235.1h0M499.8 236.6h0M500.1 234.6h0M500.4 236.3h0M500.7 235.8h0M501.0 233.8h0M501.3 235.1h0M501.6 235.0h0M501.9 234.8h0M502.2 235.1h0M502.5 236.9h0M502.8 235.2h0M503.1 234.3h0M503.4 234.4h0M503.7 234.6h0M504.0 236.6h0M504.3 234.1h0M504.6 235.5h0M504.9 233.1h0M505.2 234.1h0M505.5 234.4h0M505.8 234.8h0M506.1 235.8h0M506.4 236.2h0M506.7 235.8h0M507.0 234.8h0M507.3 235.8h0M507.6 235.3h0M507.9 235.5h0M508.2 234.1h0M508.5 235.8h0M508.8 235.1h0M509.1 233.9h0M509.4 235.6h0M509.7 234.1h0M510.0 234.4h0M510.3 234.7h0M510.6 235.2h0M510.9 236.9h0M511.2 235.0h0M511.5 235.7h0M511.8 235.8h0M512.1 235.2h0M512.4 234.2h0M512.7 235.3h0M513.0 233.5h0M513.3 235.1h0M513.6 233.3h0M513.9 234.3h0M514.2 234.4h0M514.5 232.7h0M514.8 233.6h0M515.1 234.2h0M515.4 232.7h0M515.7 232.4h0M516.0 234.1h0M516.3 235.3h0M516.6 234.7h0M516.9 235.8h0M517.2 236.2h0M517.5 236.8h0M517.8 237.3h0M518.1 236.8h0M518.4 235.9h0M518.7 236.4h0M519.0 235.4h0M519.3 237.2h0M519.6 238.2h0M519.9 235.3h0M520.2 236.6h0M520.5 236.6h0M520.8 238.3h0M521.1 237.4h0M521.4 235.2h0M521.7 236.2h0M522.0 235.9h0M522.3 233.7h0M522.6 235.2h0M522.9 234.9h0M523.2 236.5h0M523.5 235.2h0M523.8 235.9h0M524.1 236.8h0M524.4 236.4h0M524.7 234.5h0M525.0 235.3h0M525.3 235.5h0M525.6 235.5h0M525.9 234.9h0M526.2 235.8h0M526.5 234.5h0M526.8 234.7h0M527.1 236.2h0M527.4 234.8h0M527.7 234.0h0M528.0 236.3h0M528.3 234.4h0M528.6 235.1h0M528.9 236.1h0M529.2 236.7h0M529.5 236.7h0M529.8 236.8h0M530.1 236.5h0M530.4 236.2h0M530.7 235.6h0M531.0 235.2h0M531.3 234.9h0M531.6 237.1h0M531.9 236.0h0M532.2 235.5h0M532.5 236.2h0M532.8 235.7h0M533.1 235.8h0M533.4 235.5h0M533.7 235.9h0M534.0 235.7h0M534.3 234.6h0M534.6 236.0h0M534.9 236.3h0M535.2 235.9h0M535.5 235.7h0M535.8 236.1h0M536.1 235.8h0M536.4 234.9h0M536.7 235.7h0M537.0 235.2h0M537.3 234.8h0M537.6 236.3h0M537.9 236.3h0M538.2 236.8h0M538.5 235.9h0M538.8 236.4h0M539.1 235.9h0M539.4 236.0h0M539.7 234.6h0M540.0 235.8h0M540.3 234.3h0M540.6 233.3h0M540.9 234.9h0M541.2 233.8h0M541.5 235.8h0M541.8 234.0h0M542.1 234.8h0M542.4 233.2h0M542.7 234.5h0M543.0 235.1h0M543.3 233.7h0M543.6 235.1h0M543.9 234.2h0M544.2 233.7h0M544.5 234.6h0M544.8 234.3h0M545.1 235.4h0M545.4 235.4h0M545.7 236.3h0M546.0 234.3h0M546.3 234.9h0M546.6 234.6h0M546.9 234.5h0M547.2 234.8h0M547.5 235.4h0M547.8 235.4h0M548.1 235.6h0M548.4 234.4h0M548.7 234.5h0M549.0 234.4h0M549.3 232.1h0M549.6 234.9h0M549.9 235.0h0M550.2 234.6h0M550.5 235.3h0M550.8 236.1h0M551.1 234.4h0M551.4 235.9h0M551.7 235.2h0M552.0 235.7h0M552.3 235.7h0M552.6 235.7h0M552.9 237.1h0M553.2 235.8h0M553.5 235.5h0M553.8 234.6h0M554.1 236.5h0M554.4 235.3h0M554.7 234.9h0M555.0 234.3h0M555.3 234.9h0M555.6 236.8h0M555.9 235.0h0M556.2 235.0h0M556.5 236.9h0M556.8 234.9h0M557.1 236.2h0M557.4 237.2h0M557.7 234.8h0M558.0 235.2h0M558.3 237.3h0M558.6 237.6h0M558.9 238.4h0M559.2 237.0h0M559.5 236.8h0M559.8 235.6h0M560.1 236.1h0M560.4 236.0h0M560.7 236.1h0M561.0 235.0h0M561.3 235.4h0M561.6 236.3h0M561.9 236.8h0M562.2 236.1h0M562.5 236.3h0M562.8 237.0h0M563.1 234.2h0M563.4 237.3h0M563.7 235.6h0M564.0 234.2h0M564.3 235.6h0" fill="none" stroke="#2200c4" stroke-width="2.3" stroke-linecap="square"/>
<path d="M327.6 236.4h0M327.9 238.3h0M328.2 237.3h0M328.5 235.7h0M328.8 236.5h0M329.1 238.3h0M329.4 237.7h0M329.7 237.2h0M330.0 236.1h0M330.3 236.1h0M330.6 239.5h0M330.9 237.2h0M331.2 236.6h0M331.5 237.1h0M331.8 239.1h0M332.1 238.2h0M332.4 237.2h0M332.7 235.9h0M333.0 236.7h0M333.3 236.9h0M333.6 235.5h0M333.9 235.0h0M334.2 235.3h0M334.5 235.5h0M334.8 234.8h0M335.1 233.7h0M335.4 237.1h0M335.7 236.6h0M336.0 235.8h0M336.3 236.9h0M336.6 237.5h0M336.9 237.7h0M337.2 236.5h0M337.5 236.2h0M337.8 236.3h0M338.1 236.8h0M338.4 234.5h0M338.7 237.8h0M339.0 236.2h0M339.3 236.4h0M339.6 235.8h0M339.9 235.7h0M340.2 236.4h0M340.5 236.0h0M340.8 236.3h0M341.1 235.7h0M341.4 237.2h0M341.7 236.1h0M342.0 237.1h0M342.3 236.1h0M342.6 237.4h0M342.9 237.3h0M343.2 237.1h0M343.5 235.7h0M343.8 236.1h0M344.1 236.2h0M344.4 236.9h0M344.7 235.7h0M345.0 236.2h0M345.3 235.9h0M345.6 235.2h0M345.9 234.9h0M346.2 235.1h0M346.5 237.0h0M346.8 234.8h0M347.1 236.5h0M347.4 235.8h0M347.7 236.9h0M348.0 236.6h0M348.3 237.6h0M348.6 236.8h0M348.9 235.7h0M349.2 236.9h0M349.5 235.8h0M349.8 236.6h0M350.1 235.5h0M350.4 234.3h0M350.7 236.4h0M351.0 235.6h0M351.3 237.7h0M351.6 235.9h0M351.9 234.6h0M352.2 235.3h0M352.5 236.8h0M352.8 235.4h0M353.1 235.0h0M353.4 235.3h0M353.7 235.6h0M354.0 235.2h0M354.3 234.8h0M354.6 234.5h0M354.9 236.5h0M355.2 237.8h0M355.5 236.0h0M355.8 236.8h0M356.1 236.4h0M356.4 236.2h0M356.7 235.0h0M357.0 236.3h0M357.3 236.5h0M357.6 236.1h0M357.9 235.9h0M358.2 236.2h0M358.5 236.2h0M358.8 236.1h0M359.1 236.1h0M359.4 236.6h0M359.7 237.1h0M360.0 237.1h0M360.3 237.2h0M360.6 237.6h0M360.9 237.1h0M361.2 237.5h0M361.5 237.5h0M361.8 235.8h0M362.1 236.4h0M362.4 236.4h0M362.7 236.5h0M363.0 235.8h0M363.3 238.1h0M363.6 234.7h0M363.9 235.6h0M364.2 236.3h0M364.5 234.3h0M364.8 235.3h0M365.1 235.6h0M365.4 234.9h0M365.7 236.0h0M366.0 234.2h0M366.3 234.7h0M366.6 237.0h0M366.9 235.8h0M367.2 235.9h0M367.5 234.3h0M367.8 235.4h0M368.1 236.4h0M368.4 235.0h0M368.7 235.1h0M369.0 236.4h0M369.3 234.7h0M369.6 235.6h0M369.9 235.4h0M370.2 234.8h0M370.5 236.0h0M370.8 236.3h0M371.1 234.5h0M371.4 237.0h0M371.7 235.4h0M372.0 235.5h0M372.3 236.3h0M372.6 236.8h0M372.9 237.2h0M373.2 235.3h0M373.5 236.6h0M373.8 237.3h0M374.1 236.1h0M374.4 236.0h0M374.7 236.5h0M375.0 237.4h0M375.3 237.4h0M375.6 237.2h0M375.9 237.1h0M376.2 236.6h0M376.5 237.0h0M376.8 236.4h0M377.1 238.9h0M377.4 238.1h0M377.7 237.6h0M378.0 237.2h0M378.3 237.5h0M378.6 235.5h0M378.9 238.0h0M379.2 237.4h0M379.5 236.2h0M379.8 236.7h0M380.1 238.6h0M380.4 237.6h0M380.7 238.2h0M381.0 237.2h0M381.3 236.5h0M381.6 236.9h0M381.9 237.9h0M382.2 237.2h0M382.5 236.5h0M382.8 234.7h0M383.1 237.4h0M383.4 237.4h0M383.7 236.5h0M384.0 236.5h0M384.3 236.4h0M384.6 235.5h0M384.9 236.9h0M385.2 235.8h0M385.5 236.9h0M385.8 237.2h0M386.1 237.1h0M386.4 236.1h0M386.7 236.2h0M387.0 237.1h0M387.3 235.7h0M387.6 236.0h0M387.9 237.2h0M388.2 236.3h0M388.5 236.9h0M388.8 236.3h0M389.1 236.2h0M389.4 235.5h0M389.7 234.7h0M390.0 234.3h0M390.3 236.0h0M390.6 236.0h0M390.9 235.2h0M391.2 237.5h0M391.5 236.6h0M391.8 236.7h0M392.1 237.2h0M392.4 236.1h0M392.7 236.2h0M393.0 236.1h0M393.3 236.4h0M393.6 237.1h0M393.9 236.9h0M394.2 235.6h0M394.5 237.2h0M394.8 238.7h0M395.1 235.8h0M395.4 237.7h0M395.7 235.6h0M396.0 236.3h0M396.3 237.0h0M396.6 235.1h0M396.9 236.8h0M397.2 237.3h0M397.5 237.9h0M397.8 237.2h0M398.1 237.2h0M398.4 235.0h0M398.7 236.7h0M399.0 236.5h0M399.3 238.6h0M399.6 237.7h0M399.9 236.0h0M400.2 237.6h0M400.5 235.6h0M400.8 236.9h0M401.1 235.6h0M401.4 237.4h0M401.7 236.6h0M402.0 237.2h0M402.3 236.8h0M402.6 236.1h0M402.9 235.7h0M403.2 236.2h0M403.5 236.6h0M403.8 237.1h0M404.1 237.3h0M404.4 237.0h0M404.7 237.6h0M405.0 236.4h0M405.3 237.4h0M405.6 236.2h0M405.9 237.8h0M406.2 237.6h0M406.5 239.1h0M406.8 237.7h0M407.1 237.7h0M407.4 236.7h0M407.7 238.6h0M408.0 236.6h0M408.3 238.7h0M408.6 236.4h0M408.9 236.7h0M409.2 235.6h0M409.5 237.4h0M409.8 237.9h0M410.1 238.9h0M410.4 238.3h0M410.7 237.8h0M411.0 237.2h0M411.3 237.5h0M411.6 239.4h0M411.9 238.9h0M412.2 237.8h0M412.5 235.8h0M412.8 236.8h0M413.1 237.0h0M413.4 235.3h0M413.7 236.4h0M414.0 236.3h0M414.3 235.7h0M414.6 234.9h0M414.9 236.5h0M415.2 234.9h0M415.5 235.8h0M415.8 236.2h0M416.1 235.1h0M416.4 236.3h0M416.7 237.1h0M417.0 236.7h0M417.3 236.0h0M417.6 236.5h0M417.9 236.1h0M418.2 235.7h0M418.5 236.1h0M418.8 235.9h0M419.1 235.5h0M419.4 235.4h0M419.7 234.9h0M420.0 236.4h0M420.3 235.5h0M420.6 236.8h0M420.9 235.9h0M421.2 236.2h0M421.5 235.8h0M421.8 237.1h0M422.1 235.1h0M422.4 236.3h0M422.7 236.7h0M423.0 235.5h0M423.3 235.9h0M423.6 235.9h0M423.9 238.1h0M424.2 237.1h0M424.5 236.4h0M424.8 237.5h0M425.1 237.2h0M425.4 236.1h0M425.7 235.5h0M426.0 234.3h0M426.3 234.7h0M426.6 235.7h0M426.9 235.9h0M427.2 236.9h0M427.5 235.6h0M427.8 237.1h0M428.1 235.3h0M428.4 235.6h0M428.7 234.2h0M429.0 235.0h0M429.3 233.0h0M429.6 234.5h0M429.9 235.2h0M430.2 233.0h0M430.5 234.5h0M430.8 234.0h0M431.1 234.6h0M431.4 234.3h0M431.7 235.6h0M432.0 236.6h0M432.3 235.2h0M432.6 234.6h0M432.9 231.2h0M433.2 233.3h0M433.5 234.2h0M433.8 232.9h0M434.1 234.1h0M434.4 233.6h0M434.7 233.2h0M435.0 233.1h0M435.3 233.6h0M435.6 233.8h0M435.9 232.4h0M436.2 233.4h0M436.5 231.6h0M436.8 233.7h0M437.1 234.4h0M437.4 233.9h0M437.7 233.1h0M438.0 233.2h0M438.3 233.3h0M438.6 232.2h0M438.9 234.8h0M439.2 232.2h0M439.5 231.9h0M439.8 230.9h0M440.1 232.1h0M440.4 231.1h0M440.7 232.0h0M441.0 231.6h0M441.3 229.4h0M441.6 231.0h0M441.9 231.8h0M442.2 231.7h0M442.5 230.7h0M442.8 228.5h0M443.1 229.2h0M443.4 232.6h0M443.7 231.0h0M444.0 231.7h0M444.3 227.2h0M444.6 230.4h0M444.9 230.9h0M445.2 230.3h0M445.5 231.0h0M445.8 231.3h0M446.1 230.6h0M446.4 228.3h0M446.7 227.6h0M447.0 229.3h0M447.3 227.4h0M447.6 229.4h0M447.9 231.4h0M448.2 228.1h0M448.5 230.1h0M448.8 229.6h0M449.1 228.1h0M449.4 228.6h0M449.7 227.3h0M450.0 228.7h0M450.3 229.8h0M450.6 228.2h0M450.9 229.1h0M451.2 228.9h0M451.5 230.5h0M451.8 231.3h0M452.1 229.1h0M452.4 228.9h0M452.7 231.0h0M453.0 230.6h0M453.3 231.3h0M453.6 232.1h0M453.9 231.1h0M454.2 231.5h0M454.5 229.0h0M454.8 230.3h0M455.1 230.4h0M455.4 231.1h0M455.7 231.1h0M456.0 230.9h0M456.3 229.8h0M456.6 232.1h0M456.9 232.8h0M457.2 232.2h0M457.5 233.1h0M457.8 232.8h0M458.1 232.7h0M458.4 233.2h0M458.7 232.4h0M459.0 233.2h0M459.3 231.8h0M459.6 234.1h0M459.9 235.3h0M460.2 234.9h0M460.5 234.2h0M460.8 234.0h0M461.1 233.0h0M461.4 234.3h0M461.7 235.8h0M462.0 235.1h0M462.3 233.0h0M462.6 233.1h0M462.9 235.0h0M463.2 233.6h0M463.5 233.6h0M463.8 236.2h0M464.1 233.7h0M464.4 235.2h0M464.7 235.7h0M465.0 236.1h0M465.3 233.7h0M465.6 234.8h0M465.9 235.9h0M466.2 233.1h0M466.5 234.0h0M466.8 234.8h0M467.1 234.8h0M467.4 235.0h0M467.7 236.4h0M468.0 235.9h0M468.3 236.0h0M468.6 235.5h0M468.9 237.5h0M469.2 237.8h0M469.5 236.4h0M469.8 238.2h0M470.1 236.3h0M470.4 236.5h0M470.7 236.1h0M471.0 236.2h0M471.3 236.1h0M471.6 238.5h0M471.9 236.5h0M472.2 236.9h0M472.5 238.6h0M472.8 239.2h0M473.1 236.3h0M473.4 237.9h0M473.7 237.5h0M474.0 237.8h0M474.3 237.6h0M474.6 237.8h0M474.9 238.2h0M475.2 237.8h0M475.5 238.5h0M475.8 239.1h0M476.1 237.2h0M476.4 236.7h0M476.7 236.8h0M477.0 239.0h0M477.3 236.4h0M477.6 233.7h0M477.9 235.1h0M478.2 234.8h0M478.5 236.3h0M478.8 236.7h0M479.1 236.4h0M479.4 236.3h0M479.7 236.4h0M480.0 238.7h0M480.3 237.0h0M480.6 236.9h0M480.9 237.5h0M481.2 237.1h0M481.5 238.2h0M481.8 236.9h0M482.1 236.4h0M482.4 237.9h0M482.7 237.5h0M483.0 237.4h0M483.3 236.8h0M483.6 237.1h0M483.9 238.0h0M484.2 237.5h0M484.5 238.1h0M484.8 236.8h0M485.1 235.6h0M485.4 237.2h0M485.7 237.4h0M486.0 237.6h0M486.3 237.4h0M486.6 236.0h0M486.9 237.7h0M487.2 235.2h0M487.5 238.0h0M487.8 237.3h0M488.1 238.0h0M488.4 236.0h0M488.7 237.4h0M489.0 236.0h0M489.3 238.3h0M489.6 237.6h0M489.9 236.5h0M490.2 239.2h0M490.5 237.4h0M490.8 236.8h0M491.1 236.4h0M491.4 239.3h0M491.7 238.2h0M492.0 238.3h0M492.3 238.9h0M492.6 238.6h0M492.9 239.6h0M493.2 237.8h0M493.5 238.8h0M493.8 239.2h0M494.1 237.4h0M494.4 238.5h0M494.7 239.4h0M495.0 237.3h0M495.3 239.3h0M495.6 239.1h0M495.9 239.0h0M496.2 239.3h0M496.5 239.3h0M496.8 239.9h0M497.1 239.7h0M497.4 237.9h0M497.7 238.6h0M498.0 237.5h0M498.3 239.1h0M498.6 239.1h0M498.9 238.2h0M499.2 238.5h0M499.5 239.2h0M499.8 238.9h0M500.1 238.5h0M500.4 239.0h0M500.7 236.9h0M501.0 237.8h0M501.3 239.6h0M501.6 238.2h0M501.9 237.5h0M502.2 239.2h0M502.5 239.3h0M502.8 239.9h0M503.1 238.9h0M503.4 240.0h0M503.7 238.7h0M504.0 239.8h0M504.3 239.3h0M504.6 237.0h0M504.9 237.5h0M505.2 238.6h0M505.5 238.2h0M505.8 237.6h0M506.1 237.4h0M506.4 237.9h0M506.7 239.0h0M507.0 238.5h0M507.3 238.7h0M507.6 239.4h0M507.9 237.3h0M508.2 237.1h0M508.5 237.9h0M508.8 238.6h0M509.1 237.1h0M509.4 237.9h0M509.7 238.1h0M510.0 238.7h0M510.3 237.4h0M510.6 240.7h0M510.9 238.9h0M511.2 239.2h0M511.5 238.3h0M511.8 238.7h0M512.1 239.7h0M512.4 237.6h0M512.7 237.9h0M513.0 237.2h0M513.3 238.1h0M513.6 238.3h0M513.9 239.2h0M514.2 239.5h0M514.5 239.1h0M514.8 238.5h0M515.1 238.3h0M515.4 239.1h0M515.7 238.7h0M516.0 238.0h0M516.3 239.3h0M516.6 239.4h0M516.9 238.9h0M517.2 238.3h0M517.5 238.2h0M517.8 237.6h0M518.1 238.6h0M518.4 237.1h0M518.7 238.9h0M519.0 238.2h0M519.3 236.2h0M519.6 240.1h0M519.9 237.8h0M520.2 238.7h0M520.5 238.0h0M520.8 237.6h0M521.1 239.1h0M521.4 238.7h0M521.7 238.4h0M522.0 238.0h0M522.3 237.7h0M522.6 237.0h0M522.9 237.0h0M523.2 237.1h0M523.5 238.0h0M523.8 238.0h0M524.1 238.5h0M524.4 237.6h0M524.7 238.9h0M525.0 238.4h0M525.3 236.3h0M525.6 237.6h0M525.9 239.1h0M526.2 237.2h0M526.5 236.9h0M526.8 236.7h0M527.1 237.6h0M527.4 237.6h0M527.7 238.0h0M528.0 238.2h0M528.3 237.4h0M528.6 238.2h0M528.9 239.1h0M529.2 238.1h0M529.5 239.0h0M529.8 239.5h0M530.1 238.6h0M530.4 239.4h0M530.7 238.2h0M531.0 238.1h0M531.3 238.0h0M531.6 239.7h0M531.9 238.8h0M532.2 239.5h0M532.5 238.1h0M532.8 239.6h0M533.1 238.5h0M533.4 238.9h0M533.7 238.5h0M534.0 238.2h0M534.3 237.7h0M534.6 238.4h0M534.9 237.6h0M535.2 240.2h0M535.5 239.8h0M535.8 240.6h0M536.1 238.0h0M536.4 238.7h0M536.7 238.1h0M537.0 239.6h0M537.3 239.8h0M537.6 240.4h0M537.9 240.2h0M538.2 238.3h0M538.5 239.5h0M538.8 241.3h0M539.1 238.9h0M539.4 239.4h0M539.7 238.4h0M540.0 239.2h0M540.3 238.6h0M540.6 238.4h0M540.9 238.9h0M541.2 238.1h0M541.5 238.9h0M541.8 238.7h0M542.1 239.2h0M542.4 238.7h0M542.7 237.1h0M543.0 238.5h0M543.3 238.1h0M543.6 237.8h0M543.9 239.0h0M544.2 236.8h0M544.5 238.3h0M544.8 238.5h0M545.1 238.4h0M545.4 238.6h0M545.7 237.8h0M546.0 237.1h0M546.3 238.7h0M546.6 238.0h0M546.9 238.4h0M547.2 238.4h0M547.5 238.8h0M547.8 239.8h0M548.1 239.6h0M548.4 239.5h0M548.7 240.6h0M549.0 240.4h0M549.3 240.0h0M549.6 239.8h0M549.9 240.3h0M550.2 238.5h0M550.5 238.8h0M550.8 240.1h0M551.1 238.9h0M551.4 238.6h0M551.7 239.9h0M552.0 239.5h0M552.3 238.9h0M552.6 239.3h0M552.9 238.9h0M553.2 238.7h0M553.5 239.5h0M553.8 239.6h0M554.1 238.9h0M554.4 239.1h0M554.7 238.1h0M555.0 238.8h0M555.3 238.6h0M555.6 240.3h0M555.9 240.4h0M556.2 238.6h0M556.5 239.7h0M556.8 240.3h0M557.1 239.6h0M557.4 238.2h0M557.7 238.6h0M558.0 239.3h0M558.3 239.6h0M558.6 239.2h0M558.9 239.0h0M559.2 238.5h0M559.5 238.9h0M559.8 237.7h0M560.1 238.3h0M560.4 237.5h0M560.7 238.1h0M561.0 235.9h0M561.3 238.1h0M561.6 237.3h0M561.9 238.5h0M562.2 236.8h0M562.5 238.5h0M562.8 237.7h0M563.1 238.5h0M563.4 238.3h0M563.7 237.4h0M564.0 240.2h0M564.3 239.3h0" fill="none" stroke="#620096" stroke-width="2.3" stroke-linecap="square"/>
<polyline points="415.2,240.8 415.5,239.5 415.8,239.7 416.1,239.0 416.4,237.6 416.7,239.0 417.0,238.9 417.3,238.1 417.6,239.5 417.9,239.0 418.2,243.1 418.5,243.0 418.8,241.0 419.1,245.0 419.4,241.0 419.7,244.7 420.0,245.9 420.3,245.2 420.6,246.1 420.9,245.7 421.2,245.9 421.5,245.5 421.8,242.8 422.1,244.6 422.4,244.2 422.7,245.7 423.0,237.9 423.3,243.2 423.6,245.1 423.9,243.4 424.2,243.0 424.5,242.4 424.8,244.4 425.1,246.0 425.4,243.4 425.7,244.5 426.0,244.5 426.3,244.5 426.6,237.2 426.9,236.0 427.2,237.5 427.5,240.6 427.8,240.7 428.1,241.6 428.4,244.4 428.7,244.6 429.0,240.5 429.3,240.9 429.6,244.3 429.9,240.3 430.2,238.9 430.5,237.9 430.8,238.6 431.1,242.6 431.4,243.4 431.7,245.8 432.0,245.4 432.3,245.1 432.6,244.8 432.9,243.3 433.2,243.9 433.5,243.7 433.8,243.9 434.1,243.4 434.4,242.5 434.7,242.2 435.0,244.1 435.3,244.2 435.6,243.1 435.9,245.2 436.2,242.2 436.5,244.6 436.8,242.5 437.1,244.9 437.4,241.4 437.7,243.3 438.0,244.7 438.3,239.8 438.6,243.4 438.9,242.9 439.2,243.9 439.5,242.5 439.8,244.0 440.1,243.3 440.4,244.6 440.7,246.0 441.0,244.0 441.3,242.0 441.6,247.6 441.9,245.1 442.2,246.2 442.5,243.9 442.8,241.0 443.1,240.7 443.4,245.3 443.7,243.3 444.0,244.9 444.3,243.3 444.6,242.8 444.9,238.2 445.2,239.4 445.5,238.3 445.8,244.4 446.1,239.6 446.4,239.0 446.7,244.7 447.0,242.4 447.3,241.0 447.6,242.0 447.9,243.9 448.2,241.5 448.5,244.4 448.8,244.8 449.1,242.5 449.4,243.3 449.7,240.0 450.0,239.0 450.3,246.5 450.6,243.3 450.9,245.1 451.2,245.7 451.5,244.2 451.8,241.8 452.1,246.4 452.4,245.1 452.7,243.1 453.0,241.4 453.3,243.6 453.6,244.1 453.9,244.0 454.2,242.8 454.5,243.0 454.8,243.2 455.1,243.5 455.4,244.4 455.7,244.3 456.0,243.2 456.3,242.7 456.6,245.2 456.9,243.9 457.2,241.4 457.5,245.0 457.8,245.8 458.1,246.5 458.4,243.8 458.7,244.0 459.0,246.4 459.3,245.9 459.6,245.6 459.9,245.3 460.2,247.0 460.5,246.3 460.8,240.5 461.1,242.0 461.4,240.7 461.7,247.8 462.0,245.4 462.3,243.4 462.6,244.1 462.9,245.1 463.2,245.2 463.5,243.4 463.8,248.2 464.1,245.4 464.4,248.0 464.7,245.1 465.0,244.1 465.3,243.9 465.6,244.7 465.9,246.7 466.2,245.6 466.5,248.0 466.8,245.6 467.1,243.9 467.4,243.2 467.7,244.9 468.0,246.3 468.3,245.1 468.6,246.1 468.9,245.0 469.2,244.9 469.5,244.9 469.8,244.8 470.1,244.4 470.4,246.6 470.7,243.1 471.0,244.1 471.3,242.8 471.6,243.4 471.9,240.6 472.2,244.2 472.5,239.5 472.8,243.9 473.1,244.3 473.4,244.9 473.7,245.7 474.0,244.6 474.3,246.0 474.6,246.9 474.9,244.1 475.2,246.3 475.5,245.9 475.8,246.6 476.1,243.6 476.4,245.5 476.7,247.9 477.0,236.7 477.3,236.9 477.6,240.1 477.9,240.5 478.2,240.3 478.5,247.1 478.8,247.3 479.1,246.0 479.4,243.5 479.7,241.9 480.0,244.7 480.3,243.2 480.6,245.8 480.9,246.2 481.2,244.1 481.5,246.8 481.8,245.2 482.1,242.2 482.4,237.9 482.7,240.5 483.0,241.5 483.3,241.4 483.6,242.9 483.9,248.1 484.2,247.2 484.5,245.0 484.8,239.6 485.1,246.3 485.4,247.2 485.7,247.3 486.0,246.3 486.3,247.0 486.6,245.9 486.9,245.8 487.2,247.8 487.5,240.8 487.8,243.8 488.1,243.4 488.4,245.0 488.7,248.0 489.0,244.4 489.3,244.7 489.6,245.6 489.9,244.1 490.2,245.8 490.5,246.5 490.8,246.9 491.1,245.0 491.4,245.0 491.7,246.1 492.0,245.1 492.3,245.0 492.6,244.1 492.9,245.2 493.2,244.5 493.5,243.5 493.8,244.9 494.1,244.7 494.4,244.6 494.7,244.5 495.0,247.5 495.3,244.6 495.6,245.0 495.9,246.1 496.2,244.6 496.5,245.7 496.8,245.7 497.1,243.5 497.4,247.1 497.7,245.4 498.0,247.5 498.3,246.0 498.6,247.4 498.9,242.7 499.2,244.7 499.5,244.7 499.8,245.6 500.1,245.8 500.4,246.8 500.7,247.1 501.0,247.3 501.3,243.3 501.6,243.2 501.9,245.8 502.2,241.7 502.5,245.5 502.8,244.8 503.1,246.5 503.4,247.7 503.7,246.5 504.0,244.1 504.3,246.5 504.6,246.9 504.9,246.2 505.2,239.9 505.5,241.1 505.8,240.8 506.1,240.1 506.4,240.0 506.7,240.3 507.0,240.8 507.3,241.9 507.6,240.2 507.9,240.8" fill="none" stroke="#000" stroke-width="1.3"/>
<path d="M327.6 240.1h0M327.9 239.4h0M328.2 239.5h0M328.5 239.9h0M328.8 242.5h0M329.1 240.8h0M329.4 239.8h0M329.7 241.7h0M330.0 240.9h0M330.3 242.8h0M330.6 241.9h0M330.9 241.7h0M331.2 241.4h0M331.5 241.1h0M331.8 240.5h0M332.1 241.2h0M332.4 242.6h0M332.7 241.9h0M333.0 240.7h0M333.3 240.5h0M333.6 239.9h0M333.9 238.5h0M334.2 239.2h0M334.5 239.5h0M334.8 239.8h0M335.1 239.7h0M335.4 241.3h0M335.7 240.8h0M336.0 239.8h0M336.3 239.7h0M336.6 240.2h0M336.9 240.5h0M337.2 241.2h0M337.5 242.3h0M337.8 240.1h0M338.1 239.2h0M338.4 239.9h0M338.7 240.6h0M339.0 240.9h0M339.3 239.9h0M339.6 241.2h0M339.9 240.3h0M340.2 241.0h0M340.5 240.6h0M340.8 241.0h0M341.1 241.1h0M341.4 240.1h0M341.7 238.6h0M342.0 241.8h0M342.3 239.8h0M342.6 240.1h0M342.9 241.5h0M343.2 242.3h0M343.5 241.9h0M343.8 240.7h0M344.1 241.6h0M344.4 240.4h0M344.7 240.8h0M345.0 242.4h0M345.3 240.4h0M345.6 240.0h0M345.9 240.8h0M346.2 241.8h0M346.5 240.3h0M346.8 240.6h0M347.1 241.2h0M347.4 239.4h0M347.7 243.1h0M348.0 240.6h0M348.3 243.0h0M348.6 240.6h0M348.9 241.6h0M349.2 241.9h0M349.5 242.2h0M349.8 242.2h0M350.1 241.4h0M350.4 239.6h0M350.7 241.4h0M351.0 241.0h0M351.3 240.7h0M351.6 242.1h0M351.9 240.1h0M352.2 242.8h0M352.5 241.4h0M352.8 240.9h0M353.1 241.5h0M353.4 241.9h0M353.7 240.5h0M354.0 241.1h0M354.3 240.7h0M354.6 239.5h0M354.9 240.0h0M355.2 238.9h0M355.5 239.6h0M355.8 238.8h0M356.1 239.9h0M356.4 240.3h0M356.7 240.7h0M357.0 240.3h0M357.3 239.3h0M357.6 239.8h0M357.9 239.2h0M358.2 241.2h0M358.5 239.1h0M358.8 240.9h0M359.1 240.5h0M359.4 239.5h0M359.7 239.5h0M360.0 239.8h0M360.3 240.1h0M360.6 240.4h0M360.9 239.5h0M361.2 242.1h0M361.5 241.1h0M361.8 241.1h0M362.1 242.0h0M362.4 240.7h0M362.7 240.3h0M363.0 239.6h0M363.3 239.8h0M363.6 240.6h0M363.9 240.1h0M364.2 239.4h0M364.5 239.7h0M364.8 238.9h0M365.1 239.2h0M365.4 240.8h0M365.7 240.4h0M366.0 239.9h0M366.3 240.0h0M366.6 240.7h0M366.9 240.0h0M367.2 240.1h0M367.5 238.9h0M367.8 240.1h0M368.1 239.0h0M368.4 240.3h0M368.7 239.7h0M369.0 241.1h0M369.3 240.4h0M369.6 239.2h0M369.9 240.6h0M370.2 241.1h0M370.5 241.5h0M370.8 241.8h0M371.1 241.2h0M371.4 242.4h0M371.7 239.8h0M372.0 240.5h0M372.3 239.5h0M372.6 240.0h0M372.9 239.5h0M373.2 239.7h0M373.5 241.0h0M373.8 239.9h0M374.1 240.9h0M374.4 239.9h0M374.7 240.0h0M375.0 240.5h0M375.3 239.0h0M375.6 239.2h0M375.9 240.2h0M376.2 239.5h0M376.5 238.9h0M376.8 241.8h0M377.1 238.3h0M377.4 240.0h0M377.7 240.5h0M378.0 240.3h0M378.3 240.9h0M378.6 240.4h0M378.9 240.3h0M379.2 239.9h0M379.5 239.2h0M379.8 239.7h0M380.1 238.2h0M380.4 239.5h0M380.7 238.5h0M381.0 240.4h0M381.3 240.8h0M381.6 239.0h0M381.9 238.2h0M382.2 238.3h0M382.5 239.5h0M382.8 239.9h0M383.1 240.7h0M383.4 241.4h0M383.7 240.8h0M384.0 240.5h0M384.3 243.2h0M384.6 240.9h0M384.9 240.7h0M385.2 239.6h0M385.5 240.1h0M385.8 239.6h0M386.1 240.0h0M386.4 239.5h0M386.7 238.5h0M387.0 238.8h0M387.3 240.6h0M387.6 240.5h0M387.9 239.8h0M388.2 240.3h0M388.5 240.8h0M388.8 238.9h0M389.1 240.6h0M389.4 241.1h0M389.7 240.7h0M390.0 239.4h0M390.3 240.3h0M390.6 239.8h0M390.9 239.2h0M391.2 239.5h0M391.5 239.7h0M391.8 239.7h0M392.1 239.8h0M392.4 238.6h0M392.7 237.9h0M393.0 238.7h0M393.3 240.1h0M393.6 239.3h0M393.9 239.7h0M394.2 239.0h0M394.5 238.9h0M394.8 239.3h0M395.1 239.6h0M395.4 239.7h0M395.7 240.9h0M396.0 240.3h0M396.3 239.7h0M396.6 237.8h0M396.9 238.7h0M397.2 238.7h0M397.5 237.9h0M397.8 238.9h0M398.1 238.4h0M398.4 238.5h0M398.7 238.8h0M399.0 238.0h0M399.3 239.0h0M399.6 238.2h0M399.9 238.6h0M400.2 238.9h0M400.5 240.5h0M400.8 237.7h0M401.1 240.0h0M401.4 238.9h0M401.7 238.1h0M402.0 238.5h0M402.3 238.2h0M402.6 239.6h0M402.9 239.6h0M403.2 239.8h0M403.5 240.2h0M403.8 238.9h0M404.1 238.5h0M404.4 240.5h0M404.7 240.1h0M405.0 239.7h0M405.3 241.4h0M405.6 242.3h0M405.9 241.9h0M406.2 240.6h0M406.5 242.7h0M406.8 242.3h0M407.1 240.0h0M407.4 241.1h0M407.7 240.5h0M408.0 239.3h0M408.3 240.4h0M408.6 240.1h0M408.9 238.4h0M409.2 237.2h0M409.5 238.9h0M409.8 239.3h0M410.1 239.1h0M410.4 239.8h0M410.7 241.3h0M411.0 240.6h0M411.3 239.7h0M411.6 239.0h0M411.9 239.5h0M412.2 239.2h0M412.5 239.4h0M412.8 240.1h0M413.1 238.0h0M413.4 239.4h0M413.7 240.2h0M414.0 239.6h0M414.3 239.6h0M414.6 238.7h0M414.9 239.0h0M415.2 240.8h0M415.5 239.5h0M415.8 239.7h0M416.1 239.0h0M416.4 237.6h0M416.7 239.0h0M417.0 238.9h0M417.3 238.1h0M417.6 239.5h0M417.9 239.0h0M418.2 243.1h0M418.5 243.0h0M418.8 241.0h0M419.1 245.0h0M419.4 241.0h0M419.7 244.7h0M420.0 245.9h0M420.3 245.2h0M420.6 246.1h0M420.9 245.7h0M421.2 245.9h0M421.5 245.5h0M421.8 242.8h0M422.1 244.6h0M422.4 244.2h0M422.7 245.7h0M423.0 237.9h0M423.3 243.2h0M423.6 245.1h0M423.9 243.4h0M424.2 243.0h0M424.5 242.4h0M424.8 244.4h0M425.1 246.0h0M425.4 243.4h0M425.7 244.5h0M426.0 244.5h0M426.3 244.5h0M426.6 237.2h0M426.9 236.0h0M427.2 237.5h0M427.5 240.6h0M427.8 240.7h0M428.1 241.6h0M428.4 244.4h0M428.7 244.6h0M429.0 240.5h0M429.3 240.9h0M429.6 244.3h0M429.9 240.3h0M430.2 238.9h0M430.5 237.9h0M430.8 238.6h0M431.1 242.6h0M431.4 243.4h0M431.7 245.8h0M432.0 245.4h0M432.3 245.1h0M432.6 244.8h0M432.9 243.3h0M433.2 243.9h0M433.5 243.7h0M433.8 243.9h0M434.1 243.4h0M434.4 242.5h0M434.7 242.2h0M435.0 244.1h0M435.3 244.2h0M435.6 243.1h0M435.9 245.2h0M436.2 242.2h0M436.5 244.6h0M436.8 242.5h0M437.1 244.9h0M437.4 241.4h0M437.7 243.3h0M438.0 244.7h0M438.3 239.8h0M438.6 243.4h0M438.9 242.9h0M439.2 243.9h0M439.5 242.5h0M439.8 244.0h0M440.1 243.3h0M440.4 244.6h0M440.7 246.0h0M441.0 244.0h0M441.3 242.0h0M441.6 247.6h0M441.9 245.1h0M442.2 246.2h0M442.5 243.9h0M442.8 241.0h0M443.1 240.7h0M443.4 245.3h0M443.7 243.3h0M444.0 244.9h0M444.3 243.3h0M444.6 242.8h0M444.9 238.2h0M445.2 239.4h0M445.5 238.3h0M445.8 244.4h0M446.1 239.6h0M446.4 239.0h0M446.7 244.7h0M447.0 242.4h0M447.3 241.0h0M447.6 242.0h0M447.9 243.9h0M448.2 241.5h0M448.5 244.4h0M448.8 244.8h0M449.1 242.5h0M449.4 243.3h0M449.7 240.0h0M450.0 239.0h0M450.3 246.5h0M450.6 243.3h0M450.9 245.1h0M451.2 245.7h0M451.5 244.2h0M451.8 241.8h0M452.1 246.4h0M452.4 245.1h0M452.7 243.1h0M453.0 241.4h0M453.3 243.6h0M453.6 244.1h0M453.9 244.0h0M454.2 242.8h0M454.5 243.0h0M454.8 243.2h0M455.1 243.5h0M455.4 244.4h0M455.7 244.3h0M456.0 243.2h0M456.3 242.7h0M456.6 245.2h0M456.9 243.9h0M457.2 241.4h0M457.5 245.0h0M457.8 245.8h0M458.1 246.5h0M458.4 243.8h0M458.7 244.0h0M459.0 246.4h0M459.3 245.9h0M459.6 245.6h0M459.9 245.3h0M460.2 247.0h0M460.5 246.3h0M460.8 240.5h0M461.1 242.0h0M461.4 240.7h0M461.7 247.8h0M462.0 245.4h0M462.3 243.4h0M462.6 244.1h0M462.9 245.1h0M463.2 245.2h0M463.5 243.4h0M463.8 248.2h0M464.1 245.4h0M464.4 248.0h0M464.7 245.1h0M465.0 244.1h0M465.3 243.9h0M465.6 244.7h0M465.9 246.7h0M466.2 245.6h0M466.5 248.0h0M466.8 245.6h0M467.1 243.9h0M467.4 243.2h0M467.7 244.9h0M468.0 246.3h0M468.3 245.1h0M468.6 246.1h0M468.9 245.0h0M469.2 244.9h0M469.5 244.9h0M469.8 244.8h0M470.1 244.4h0M470.4 246.6h0M470.7 243.1h0M471.0 244.1h0M471.3 242.8h0M471.6 243.4h0M471.9 240.6h0M472.2 244.2h0M472.5 239.5h0M472.8 243.9h0M473.1 244.3h0M473.4 244.9h0M473.7 245.7h0M474.0 244.6h0M474.3 246.0h0M474.6 246.9h0M474.9 244.1h0M475.2 246.3h0M475.5 245.9h0M475.8 246.6h0M476.1 243.6h0M476.4 245.5h0M476.7 247.9h0M477.0 236.7h0M477.3 236.9h0M477.6 240.1h0M477.9 240.5h0M478.2 240.3h0M478.5 247.1h0M478.8 247.3h0M479.1 246.0h0M479.4 243.5h0M479.7 241.9h0M480.0 244.7h0M480.3 243.2h0M480.6 245.8h0M480.9 246.2h0M481.2 244.1h0M481.5 246.8h0M481.8 245.2h0M482.1 242.2h0M482.4 237.9h0M482.7 240.5h0M483.0 241.5h0M483.3 241.4h0M483.6 242.9h0M483.9 248.1h0M484.2 247.2h0M484.5 245.0h0M484.8 239.6h0M485.1 246.3h0M485.4 247.2h0M485.7 247.3h0M486.0 246.3h0M486.3 247.0h0M486.6 245.9h0M486.9 245.8h0M487.2 247.8h0M487.5 240.8h0M487.8 243.8h0M488.1 243.4h0M488.4 245.0h0M488.7 248.0h0M489.0 244.4h0M489.3 244.7h0M489.6 245.6h0M489.9 244.1h0M490.2 245.8h0M490.5 246.5h0M490.8 246.9h0M491.1 245.0h0M491.4 245.0h0M491.7 246.1h0M492.0 245.1h0M492.3 245.0h0M492.6 244.1h0M492.9 245.2h0M493.2 244.5h0M493.5 243.5h0M493.8 244.9h0M494.1 244.7h0M494.4 244.6h0M494.7 244.5h0M495.0 247.5h0M495.3 244.6h0M495.6 245.0h0M495.9 246.1h0M496.2 244.6h0M496.5 245.7h0M496.8 245.7h0M497.1 243.5h0M497.4 247.1h0M497.7 245.4h0M498.0 247.5h0M498.3 246.0h0M498.6 247.4h0M498.9 242.7h0M499.2 244.7h0M499.5 244.7h0M499.8 245.6h0M500.1 245.8h0M500.4 246.8h0M500.7 247.1h0M501.0 247.3h0M501.3 243.3h0M501.6 243.2h0M501.9 245.8h0M502.2 241.7h0M502.5 245.5h0M502.8 244.8h0M503.1 246.5h0M503.4 247.7h0M503.7 246.5h0M504.0 244.1h0M504.3 246.5h0M504.6 246.9h0M504.9 246.2h0M505.2 239.9h0M505.5 241.1h0M505.8 240.8h0M506.1 240.1h0M506.4 240.0h0M506.7 240.3h0M507.0 240.8h0M507.3 241.9h0M507.6 240.2h0M507.9 240.8h0M508.2 241.6h0M508.5 241.2h0M508.8 238.7h0M509.1 241.1h0M509.4 241.8h0M509.7 241.1h0M510.0 241.1h0M510.3 239.9h0M510.6 240.1h0M510.9 238.5h0M511.2 238.7h0M511.5 239.5h0M511.8 238.3h0M512.1 240.8h0M512.4 240.3h0M512.7 240.9h0M513.0 240.8h0M513.3 240.9h0M513.6 241.0h0M513.9 239.9h0M514.2 239.7h0M514.5 239.7h0M514.8 240.9h0M515.1 240.5h0M515.4 239.9h0M515.7 240.8h0M516.0 241.2h0M516.3 241.2h0M516.6 239.9h0M516.9 239.6h0M517.2 240.3h0M517.5 240.4h0M517.8 239.9h0M518.1 240.7h0M518.4 239.8h0M518.7 240.7h0M519.0 241.2h0M519.3 239.0h0M519.6 240.5h0M519.9 240.0h0M520.2 239.2h0M520.5 239.8h0M520.8 240.6h0M521.1 240.9h0M521.4 240.0h0M521.7 240.4h0M522.0 242.2h0M522.3 241.3h0M522.6 241.2h0M522.9 241.9h0M523.2 242.3h0M523.5 241.4h0M523.8 240.6h0M524.1 240.1h0M524.4 241.4h0M524.7 239.8h0M525.0 238.9h0M525.3 238.5h0M525.6 240.6h0M525.9 240.7h0M526.2 239.3h0M526.5 240.1h0M526.8 239.7h0M527.1 238.0h0M527.4 239.8h0M527.7 239.6h0M528.0 239.6h0M528.3 239.8h0M528.6 239.1h0M528.9 241.1h0M529.2 240.9h0M529.5 240.1h0M529.8 240.1h0M530.1 239.1h0M530.4 240.7h0M530.7 239.9h0M531.0 240.1h0M531.3 239.9h0M531.6 240.4h0M531.9 241.0h0M532.2 241.6h0M532.5 240.9h0M532.8 240.5h0M533.1 240.4h0M533.4 242.1h0M533.7 241.6h0M534.0 242.8h0M534.3 241.3h0M534.6 239.6h0M534.9 241.1h0M535.2 240.2h0M535.5 241.0h0M535.8 239.5h0M536.1 240.2h0M536.4 239.7h0M536.7 239.1h0M537.0 238.3h0M537.3 239.6h0M537.6 238.6h0M537.9 237.9h0M538.2 238.7h0M538.5 239.6h0M538.8 240.1h0M539.1 239.9h0M539.4 240.5h0M539.7 240.6h0M540.0 240.6h0M540.3 240.4h0M540.6 240.9h0M540.9 241.7h0M541.2 240.7h0M541.5 240.5h0M541.8 240.3h0M542.1 240.8h0M542.4 239.4h0M542.7 239.5h0M543.0 240.2h0M543.3 239.0h0M543.6 240.5h0M543.9 239.7h0M544.2 239.7h0M544.5 239.6h0M544.8 239.0h0M545.1 239.9h0M545.4 239.1h0M545.7 239.4h0M546.0 239.4h0M546.3 240.3h0M546.6 239.8h0M546.9 240.3h0M547.2 238.9h0M547.5 239.8h0M547.8 239.8h0M548.1 240.4h0M548.4 240.1h0M548.7 240.8h0M549.0 240.1h0M549.3 241.0h0M549.6 241.6h0M549.9 241.0h0M550.2 240.1h0M550.5 239.9h0M550.8 240.3h0M551.1 239.5h0M551.4 239.3h0M551.7 239.8h0M552.0 240.1h0M552.3 240.2h0M552.6 241.7h0M552.9 242.2h0M553.2 240.2h0M553.5 238.6h0M553.8 239.5h0M554.1 239.0h0M554.4 238.0h0M554.7 239.5h0M555.0 239.2h0M555.3 238.8h0M555.6 239.3h0M555.9 241.0h0M556.2 239.7h0M556.5 240.4h0M556.8 240.0h0M557.1 239.6h0M557.4 239.8h0M557.7 240.8h0M558.0 241.3h0M558.3 239.5h0M558.6 239.6h0M558.9 239.6h0M559.2 239.8h0M559.5 240.0h0M559.8 240.2h0M560.1 239.7h0M560.4 238.3h0M560.7 241.2h0M561.0 240.6h0M561.3 240.1h0M561.6 240.6h0M561.9 240.6h0M562.2 240.8h0M562.5 239.0h0M562.8 241.7h0M563.1 240.4h0M563.4 241.7h0M563.7 241.4h0M564.0 240.7h0M564.3 241.4h0" fill="none" stroke="#000000" stroke-width="2.3" stroke-linecap="square"/>
<circle cx="517.9" cy="76.7" r="1.45" fill="#b40c18"/>
<text x="531.8" y="80.1" font-family='"Liberation Sans", sans-serif' font-size="9.95" fill="#222" stroke="#222" stroke-width="0.14">1000 ppm</text>
<circle cx="517.9" cy="88.8" r="1.45" fill="#c46a26"/>
<text x="531.8" y="92.2" font-family='"Liberation Sans", sans-serif' font-size="9.95" fill="#222" stroke="#222" stroke-width="0.14">875 ppm</text>
<circle cx="517.9" cy="100.9" r="1.45" fill="#d2aa22"/>
<text x="531.8" y="104.3" font-family='"Liberation Sans", sans-serif' font-size="9.95" fill="#222" stroke="#222" stroke-width="0.14">750 ppm</text>
<circle cx="517.9" cy="113.0" r="1.45" fill="#3cb02a"/>
<text x="531.8" y="116.4" font-family='"Liberation Sans", sans-serif' font-size="9.95" fill="#222" stroke="#222" stroke-width="0.14">500 ppm</text>
<circle cx="517.9" cy="125.1" r="1.45" fill="#14a870"/>
<text x="531.8" y="128.5" font-family='"Liberation Sans", sans-serif' font-size="9.95" fill="#222" stroke="#222" stroke-width="0.14">250 ppm</text>
<circle cx="517.9" cy="137.2" r="1.45" fill="#1a8cc8"/>
<text x="531.8" y="140.6" font-family='"Liberation Sans", sans-serif' font-size="9.95" fill="#222" stroke="#222" stroke-width="0.14">100 ppm</text>
<circle cx="517.9" cy="149.3" r="1.45" fill="#1c4cc0"/>
<text x="531.8" y="152.7" font-family='"Liberation Sans", sans-serif' font-size="9.95" fill="#222" stroke="#222" stroke-width="0.14">75 ppm</text>
<circle cx="517.9" cy="161.4" r="1.45" fill="#1c0ca8"/>
<text x="531.8" y="164.8" font-family='"Liberation Sans", sans-serif' font-size="9.95" fill="#222" stroke="#222" stroke-width="0.14">50 ppm</text>
<circle cx="517.9" cy="173.5" r="1.45" fill="#50107e"/>
<text x="531.8" y="176.9" font-family='"Liberation Sans", sans-serif' font-size="9.95" fill="#222" stroke="#222" stroke-width="0.14">25 ppm</text>
<circle cx="517.9" cy="185.6" r="1.45" fill="#000000"/>
<text x="531.8" y="189.0" font-family='"Liberation Sans", sans-serif' font-size="9.95" fill="#222" stroke="#222" stroke-width="0.14">17 ppm</text>
<text x="607.1" y="314.6" font-family='"Liberation Serif", serif' font-size="16.3" font-weight="bold" fill="#000">(b)</text>
</svg>
</body></html>
